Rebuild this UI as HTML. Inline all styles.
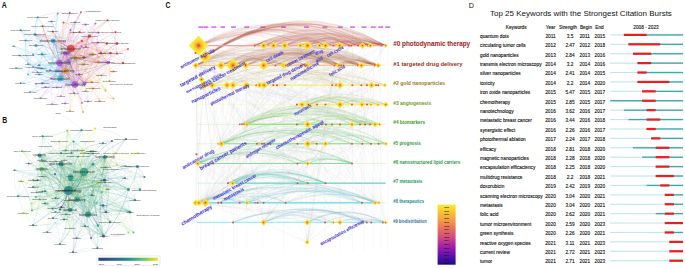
<!DOCTYPE html>
<html><head><meta charset="utf-8"><style>
html,body{margin:0;padding:0;background:#fff;width:685px;height:268px;overflow:hidden}
svg{display:block;font-family:"Liberation Sans", sans-serif}
</style></head><body>
<svg width="685" height="268" viewBox="0 0 685 268">
<rect width="685" height="268" fill="#fff"/>
<g fill="none" stroke-width="0.3" stroke-opacity="0.34">
<path d="M70.7 48.6Q63.4 54.5 59.5 63.0" stroke="#dc3c3c"/>
<path d="M70.7 48.6Q68.5 67.1 75.0 84.5" stroke="#dc3c3c"/>
<path d="M70.7 48.6Q62.0 62.3 60.5 78.5" stroke="#dc3c3c"/>
<path d="M70.7 48.6Q65.4 59.2 65.5 71.0" stroke="#dc3c3c"/>
<path d="M70.7 48.6Q67.4 50.3 65.2 53.3" stroke="#dc3c3c"/>
<path d="M70.7 48.6Q72.0 53.9 75.5 58.0" stroke="#dc3c3c"/>
<path d="M70.7 48.6Q68.1 54.5 68.5 61.0" stroke="#dc3c3c"/>
<path d="M70.7 48.6Q73.4 67.7 84.5 83.5" stroke="#dc3c3c"/>
<path d="M70.7 48.6Q81.6 44.6 89.5 36.0" stroke="#dc3c3c"/>
<path d="M70.7 48.6Q80.9 54.2 92.5 54.5" stroke="#dc3c3c"/>
<path d="M70.7 48.6Q87.9 60.1 108.5 62.5" stroke="#dc3c3c"/>
<path d="M70.7 48.6Q60.6 58.0 55.8 71.0" stroke="#dc3c3c"/>
<path d="M70.7 48.6Q76.2 54.7 83.8 57.6" stroke="#dc3c3c"/>
<path d="M70.7 48.6Q54.6 37.2 35.0 34.4" stroke="#dc3c3c"/>
<path d="M59.5 63.0Q64.7 75.6 75.0 84.5" stroke="#a452e4"/>
<path d="M59.5 63.0Q58.1 70.9 60.5 78.5" stroke="#a452e4"/>
<path d="M59.5 63.0Q61.5 67.7 65.5 71.0" stroke="#a452e4"/>
<path d="M59.5 63.0Q58.9 51.1 53.0 40.8" stroke="#a452e4"/>
<path d="M59.5 63.0Q63.5 58.8 65.2 53.3" stroke="#a452e4"/>
<path d="M59.5 63.0Q68.1 62.4 75.5 58.0" stroke="#a452e4"/>
<path d="M59.5 63.0Q64.2 63.1 68.5 61.0" stroke="#a452e4"/>
<path d="M59.5 63.0Q77.0 62.7 92.5 54.5" stroke="#a452e4"/>
<path d="M59.5 63.0Q56.7 66.6 55.8 71.0" stroke="#a452e4"/>
<path d="M59.5 63.0Q72.3 63.2 83.8 57.6" stroke="#a452e4"/>
<path d="M75.0 84.5Q68.5 79.8 60.5 78.5" stroke="#a452e4"/>
<path d="M75.0 84.5Q71.9 76.6 65.5 71.0" stroke="#a452e4"/>
<path d="M75.0 84.5Q73.8 67.7 65.2 53.3" stroke="#a452e4"/>
<path d="M75.0 84.5Q78.4 71.3 75.5 58.0" stroke="#a452e4"/>
<path d="M75.0 84.5Q74.6 72.0 68.5 61.0" stroke="#a452e4"/>
<path d="M75.0 84.5Q79.9 85.1 84.5 83.5" stroke="#a452e4"/>
<path d="M75.0 84.5Q88.1 62.0 89.5 36.0" stroke="#a452e4"/>
<path d="M75.0 84.5Q87.3 71.6 92.5 54.5" stroke="#a452e4"/>
<path d="M75.0 84.5Q94.4 77.5 108.5 62.5" stroke="#a452e4"/>
<path d="M75.0 84.5Q67.0 75.4 55.8 71.0" stroke="#a452e4"/>
<path d="M75.0 84.5Q82.6 72.1 83.8 57.6" stroke="#a452e4"/>
<path d="M75.0 84.5Q61.0 54.7 35.0 34.4" stroke="#a452e4"/>
<path d="M60.5 78.5Q63.9 75.3 65.5 71.0" stroke="#22bcd4"/>
<path d="M60.5 78.5Q61.3 58.8 53.0 40.8" stroke="#22bcd4"/>
<path d="M60.5 78.5Q70.5 70.0 75.5 58.0" stroke="#22bcd4"/>
<path d="M60.5 78.5Q66.6 70.7 68.5 61.0" stroke="#22bcd4"/>
<path d="M60.5 78.5Q80.1 60.7 89.5 36.0" stroke="#22bcd4"/>
<path d="M60.5 78.5Q79.4 70.3 92.5 54.5" stroke="#22bcd4"/>
<path d="M60.5 78.5Q74.7 70.8 83.8 57.6" stroke="#22bcd4"/>
<path d="M60.5 78.5Q53.0 53.4 35.0 34.4" stroke="#22bcd4"/>
<path d="M65.5 71.0Q62.9 54.4 53.0 40.8" stroke="#e8962c"/>
<path d="M65.5 71.0Q72.1 65.7 75.5 58.0" stroke="#e8962c"/>
<path d="M65.5 71.0Q81.7 56.4 89.5 36.0" stroke="#e8962c"/>
<path d="M65.5 71.0Q81.0 66.0 92.5 54.5" stroke="#e8962c"/>
<path d="M65.5 71.0Q88.0 71.9 108.5 62.5" stroke="#e8962c"/>
<path d="M65.5 71.0Q60.6 69.8 55.8 71.0" stroke="#e8962c"/>
<path d="M65.5 71.0Q54.6 49.0 35.0 34.4" stroke="#e8962c"/>
<path d="M53.0 40.8Q57.6 48.5 65.2 53.3" stroke="#3ea0e0"/>
<path d="M53.0 40.8Q62.2 52.1 75.5 58.0" stroke="#3ea0e0"/>
<path d="M53.0 40.8Q63.6 65.9 84.5 83.5" stroke="#3ea0e0"/>
<path d="M53.0 40.8Q71.8 42.8 89.5 36.0" stroke="#3ea0e0"/>
<path d="M53.0 40.8Q71.1 52.4 92.5 54.5" stroke="#3ea0e0"/>
<path d="M53.0 40.8Q78.1 58.3 108.5 62.5" stroke="#3ea0e0"/>
<path d="M53.0 40.8Q50.8 56.2 55.8 71.0" stroke="#3ea0e0"/>
<path d="M53.0 40.8Q66.4 52.9 83.8 57.6" stroke="#3ea0e0"/>
<path d="M53.0 40.8Q44.8 35.4 35.0 34.4" stroke="#3ea0e0"/>
<path d="M65.2 53.3Q65.9 57.5 68.5 61.0" stroke="#a452e4"/>
<path d="M65.2 53.3Q71.2 70.7 84.5 83.5" stroke="#a452e4"/>
<path d="M65.2 53.3Q78.7 57.2 92.5 54.5" stroke="#a452e4"/>
<path d="M65.2 53.3Q85.7 63.1 108.5 62.5" stroke="#a452e4"/>
<path d="M65.2 53.3Q58.4 61.0 55.8 71.0" stroke="#a452e4"/>
<path d="M65.2 53.3Q74.0 57.7 83.8 57.6" stroke="#a452e4"/>
<path d="M65.2 53.3Q52.4 40.2 35.0 34.4" stroke="#a452e4"/>
<path d="M75.5 58.0Q71.6 58.7 68.5 61.0" stroke="#e8962c"/>
<path d="M75.5 58.0Q76.9 71.8 84.5 83.5" stroke="#e8962c"/>
<path d="M75.5 58.0Q85.1 48.7 89.5 36.0" stroke="#e8962c"/>
<path d="M75.5 58.0Q84.4 58.3 92.5 54.5" stroke="#e8962c"/>
<path d="M75.5 58.0Q91.5 64.2 108.5 62.5" stroke="#e8962c"/>
<path d="M75.5 58.0Q58.1 41.3 35.0 34.4" stroke="#e8962c"/>
<path d="M68.5 61.0Q73.8 74.2 84.5 83.5" stroke="#a452e4"/>
<path d="M68.5 61.0Q82.0 51.0 89.5 36.0" stroke="#a452e4"/>
<path d="M68.5 61.0Q81.3 60.6 92.5 54.5" stroke="#a452e4"/>
<path d="M68.5 61.0Q88.3 66.5 108.5 62.5" stroke="#a452e4"/>
<path d="M68.5 61.0Q60.9 64.5 55.8 71.0" stroke="#a452e4"/>
<path d="M68.5 61.0Q54.9 43.7 35.0 34.4" stroke="#a452e4"/>
<path d="M84.5 83.5Q92.0 70.0 92.5 54.5" stroke="#a452e4"/>
<path d="M84.5 83.5Q99.0 75.9 108.5 62.5" stroke="#a452e4"/>
<path d="M84.5 83.5Q71.7 73.8 55.8 71.0" stroke="#a452e4"/>
<path d="M84.5 83.5Q87.3 70.5 83.8 57.6" stroke="#a452e4"/>
<path d="M84.5 83.5Q65.6 53.0 35.0 34.4" stroke="#a452e4"/>
<path d="M89.5 36.0Q95.8 51.5 108.5 62.5" stroke="#dc3c3c"/>
<path d="M89.5 36.0Q68.5 49.5 55.8 71.0" stroke="#dc3c3c"/>
<path d="M89.5 36.0Q84.1 46.1 83.8 57.6" stroke="#dc3c3c"/>
<path d="M92.5 54.5Q99.5 60.4 108.5 62.5" stroke="#e8962c"/>
<path d="M92.5 54.5Q72.2 58.3 55.8 71.0" stroke="#e8962c"/>
<path d="M92.5 54.5Q87.8 55.0 83.8 57.6" stroke="#e8962c"/>
<path d="M108.5 62.5Q81.1 60.4 55.8 71.0" stroke="#a452e4"/>
<path d="M108.5 62.5Q96.7 57.1 83.8 57.6" stroke="#a452e4"/>
<path d="M55.8 71.0Q49.8 50.2 35.0 34.4" stroke="#3ea0e0"/>
<path d="M83.8 57.6Q62.2 40.1 35.0 34.4" stroke="#dc3c3c"/>
<path d="M70.7 48.6Q62.8 42.6 53.0 40.8" stroke="#dc3c3c"/>
<path d="M70.7 48.6Q68.5 67.1 75.0 84.5" stroke="#dc3c3c"/>
<path d="M70.7 48.6Q62.8 42.6 53.0 40.8" stroke="#dc3c3c"/>
<path d="M70.7 48.6Q67.4 50.3 65.2 53.3" stroke="#dc3c3c"/>
<path d="M70.7 48.6Q66.3 63.1 69.0 78.0" stroke="#dc3c3c"/>
<path d="M70.7 48.6Q85.3 54.4 101.0 53.0" stroke="#dc3c3c"/>
<path d="M70.7 48.6Q57.8 56.8 50.0 70.0" stroke="#dc3c3c"/>
<path d="M70.7 48.6Q81.6 44.6 89.5 36.0" stroke="#dc3c3c"/>
<path d="M70.7 48.6Q68.1 54.5 68.5 61.0" stroke="#dc3c3c"/>
<path d="M70.7 48.6Q62.8 42.6 53.0 40.8" stroke="#dc3c3c"/>
<path d="M70.7 48.6Q63.4 54.5 59.5 63.0" stroke="#dc3c3c"/>
<path d="M70.7 48.6Q65.4 59.2 65.5 71.0" stroke="#dc3c3c"/>
<path d="M53.0 40.8Q78.1 58.3 108.5 62.5" stroke="#3ea0e0"/>
<path d="M53.0 40.8Q60.9 46.8 70.7 48.6" stroke="#3ea0e0"/>
<path d="M53.0 40.8Q57.6 48.5 65.2 53.3" stroke="#3ea0e0"/>
<path d="M53.0 40.8Q53.6 52.7 59.5 63.0" stroke="#3ea0e0"/>
<path d="M53.0 40.8Q43.1 51.2 39.0 65.0" stroke="#3ea0e0"/>
<path d="M53.0 40.8Q53.6 52.7 59.5 63.0" stroke="#3ea0e0"/>
<path d="M53.0 40.8Q53.6 52.7 59.5 63.0" stroke="#3ea0e0"/>
<path d="M53.0 40.8Q63.6 65.9 84.5 83.5" stroke="#3ea0e0"/>
<path d="M65.2 53.3Q80.8 61.6 98.5 62.0" stroke="#a452e4"/>
<path d="M65.2 53.3Q64.1 66.1 69.0 78.0" stroke="#a452e4"/>
<path d="M65.2 53.3Q85.7 63.1 108.5 62.5" stroke="#a452e4"/>
<path d="M65.2 53.3Q68.5 51.6 70.7 48.6" stroke="#a452e4"/>
<path d="M65.2 53.3Q85.7 63.1 108.5 62.5" stroke="#a452e4"/>
<path d="M65.2 53.3Q68.5 51.6 70.7 48.6" stroke="#a452e4"/>
<path d="M65.2 53.3Q78.7 57.2 92.5 54.5" stroke="#a452e4"/>
<path d="M65.2 53.3Q59.8 65.3 60.5 78.5" stroke="#a452e4"/>
<path d="M59.5 63.0Q42.4 65.0 28.0 74.5" stroke="#a452e4"/>
<path d="M59.5 63.0Q61.5 67.7 65.5 71.0" stroke="#a452e4"/>
<path d="M59.5 63.0Q68.1 62.4 75.5 58.0" stroke="#a452e4"/>
<path d="M59.5 63.0Q45.8 61.7 33.0 66.7" stroke="#a452e4"/>
<path d="M59.5 63.0Q66.8 57.1 70.7 48.6" stroke="#a452e4"/>
<path d="M59.5 63.0Q77.0 62.7 92.5 54.5" stroke="#a452e4"/>
<path d="M59.5 63.0Q68.1 62.4 75.5 58.0" stroke="#a452e4"/>
<path d="M59.5 63.0Q64.7 75.6 75.0 84.5" stroke="#a452e4"/>
<path d="M59.5 63.0Q58.9 51.1 53.0 40.8" stroke="#a452e4"/>
<path d="M59.5 63.0Q58.1 70.9 60.5 78.5" stroke="#a452e4"/>
<path d="M59.5 63.0Q64.2 63.1 68.5 61.0" stroke="#a452e4"/>
<path d="M68.5 61.0Q73.8 74.2 84.5 83.5" stroke="#a452e4"/>
<path d="M68.5 61.0Q60.9 64.5 55.8 71.0" stroke="#a452e4"/>
<path d="M68.5 61.0Q67.8 56.8 65.2 53.3" stroke="#a452e4"/>
<path d="M68.5 61.0Q73.8 74.2 84.5 83.5" stroke="#a452e4"/>
<path d="M68.5 61.0Q73.8 74.2 84.5 83.5" stroke="#a452e4"/>
<path d="M68.5 61.0Q62.4 68.8 60.5 78.5" stroke="#a452e4"/>
<path d="M68.5 61.0Q71.1 55.1 70.7 48.6" stroke="#a452e4"/>
<path d="M68.5 61.0Q72.4 60.3 75.5 58.0" stroke="#a452e4"/>
<path d="M75.5 58.0Q66.9 58.6 59.5 63.0" stroke="#e8962c"/>
<path d="M75.5 58.0Q66.3 46.7 53.0 40.8" stroke="#e8962c"/>
<path d="M75.5 58.0Q88.8 58.6 101.0 53.0" stroke="#e8962c"/>
<path d="M75.5 58.0Q86.5 62.8 98.5 62.0" stroke="#e8962c"/>
<path d="M75.5 58.0Q64.1 62.1 55.8 71.0" stroke="#e8962c"/>
<path d="M75.5 58.0Q85.1 48.7 89.5 36.0" stroke="#e8962c"/>
<path d="M75.5 58.0Q66.9 58.6 59.5 63.0" stroke="#e8962c"/>
<path d="M65.5 71.0Q70.8 60.4 70.7 48.6" stroke="#e8962c"/>
<path d="M65.5 71.0Q61.4 87.2 65.0 103.5" stroke="#e8962c"/>
<path d="M65.5 71.0Q67.5 62.1 65.2 53.3" stroke="#e8962c"/>
<path d="M65.5 71.0Q72.1 65.7 75.5 58.0" stroke="#e8962c"/>
<path d="M65.5 71.0Q60.6 69.8 55.8 71.0" stroke="#e8962c"/>
<path d="M65.5 71.0Q88.0 71.9 108.5 62.5" stroke="#e8962c"/>
<path d="M65.5 71.0Q77.2 83.0 93.0 88.5" stroke="#e8962c"/>
<path d="M65.5 71.0Q73.5 79.5 84.5 83.5" stroke="#e8962c"/>
<path d="M65.5 71.0Q88.0 71.9 108.5 62.5" stroke="#e8962c"/>
<path d="M60.5 78.5Q47.6 78.3 36.0 84.0" stroke="#22bcd4"/>
<path d="M60.5 78.5Q69.2 64.8 70.7 48.6" stroke="#22bcd4"/>
<path d="M60.5 78.5Q86.4 76.3 108.5 62.5" stroke="#22bcd4"/>
<path d="M60.5 78.5Q79.4 70.3 92.5 54.5" stroke="#22bcd4"/>
<path d="M60.5 78.5Q69.2 64.8 70.7 48.6" stroke="#22bcd4"/>
<path d="M60.5 78.5Q70.5 70.0 75.5 58.0" stroke="#22bcd4"/>
<path d="M60.5 78.5Q52.2 71.2 41.5 68.5" stroke="#22bcd4"/>
<path d="M60.5 78.5Q63.9 75.3 65.5 71.0" stroke="#22bcd4"/>
<path d="M60.5 78.5Q48.2 85.8 40.5 98.0" stroke="#22bcd4"/>
<path d="M55.8 71.0Q49.9 87.0 52.0 104.0" stroke="#3ea0e0"/>
<path d="M55.8 71.0Q67.2 66.9 75.5 58.0" stroke="#3ea0e0"/>
<path d="M55.8 71.0Q54.4 79.4 57.0 87.5" stroke="#3ea0e0"/>
<path d="M55.8 71.0Q63.8 80.1 75.0 84.5" stroke="#3ea0e0"/>
<path d="M55.8 71.0Q68.7 80.7 84.5 83.5" stroke="#3ea0e0"/>
<path d="M55.8 71.0Q76.9 57.5 89.5 36.0" stroke="#3ea0e0"/>
<path d="M89.5 36.0Q76.4 58.5 75.0 84.5" stroke="#dc3c3c"/>
<path d="M89.5 36.0Q78.1 26.1 63.5 22.5" stroke="#dc3c3c"/>
<path d="M89.5 36.0Q78.6 40.0 70.7 48.6" stroke="#dc3c3c"/>
<path d="M89.5 36.0Q71.3 45.9 59.5 63.0" stroke="#dc3c3c"/>
<path d="M89.5 36.0Q69.9 53.8 60.5 78.5" stroke="#dc3c3c"/>
<path d="M89.5 36.0Q78.6 40.0 70.7 48.6" stroke="#dc3c3c"/>
<path d="M83.8 57.6Q73.0 62.1 65.5 71.0" stroke="#dc3c3c"/>
<path d="M83.8 57.6Q95.6 63.0 108.5 62.5" stroke="#dc3c3c"/>
<path d="M83.8 57.6Q62.2 40.1 35.0 34.4" stroke="#dc3c3c"/>
<path d="M83.8 57.6Q78.3 51.5 70.7 48.6" stroke="#dc3c3c"/>
<path d="M83.8 57.6Q68.2 60.9 55.8 71.0" stroke="#dc3c3c"/>
<path d="M83.8 57.6Q95.6 63.0 108.5 62.5" stroke="#dc3c3c"/>
<path d="M92.5 54.5Q96.9 54.8 101.0 53.0" stroke="#e8962c"/>
<path d="M92.5 54.5Q73.6 62.7 60.5 78.5" stroke="#e8962c"/>
<path d="M92.5 54.5Q73.6 62.7 60.5 78.5" stroke="#e8962c"/>
<path d="M92.5 54.5Q77.9 63.4 69.0 78.0" stroke="#e8962c"/>
<path d="M92.5 54.5Q82.3 48.9 70.7 48.6" stroke="#e8962c"/>
<path d="M92.5 54.5Q82.3 48.9 70.7 48.6" stroke="#e8962c"/>
<path d="M92.5 54.5Q83.6 54.2 75.5 58.0" stroke="#e8962c"/>
<path d="M75.0 84.5Q74.6 72.0 68.5 61.0" stroke="#a452e4"/>
<path d="M75.0 84.5Q69.8 71.9 59.5 63.0" stroke="#a452e4"/>
<path d="M75.0 84.5Q69.2 60.0 53.0 40.8" stroke="#a452e4"/>
<path d="M75.0 84.5Q78.4 71.3 75.5 58.0" stroke="#a452e4"/>
<path d="M75.0 84.5Q71.9 76.6 65.5 71.0" stroke="#a452e4"/>
<path d="M75.0 84.5Q69.8 71.9 59.5 63.0" stroke="#a452e4"/>
<path d="M75.0 84.5Q68.5 79.8 60.5 78.5" stroke="#a452e4"/>
<path d="M75.0 84.5Q68.5 79.8 60.5 78.5" stroke="#a452e4"/>
<path d="M75.0 84.5Q69.8 71.9 59.5 63.0" stroke="#a452e4"/>
<path d="M75.0 84.5Q73.8 67.7 65.2 53.3" stroke="#a452e4"/>
<path d="M84.5 83.5Q76.5 75.0 65.5 71.0" stroke="#a452e4"/>
<path d="M84.5 83.5Q79.6 82.9 75.0 84.5" stroke="#a452e4"/>
<path d="M84.5 83.5Q79.2 70.3 68.5 61.0" stroke="#a452e4"/>
<path d="M84.5 83.5Q96.4 70.2 101.0 53.0" stroke="#a452e4"/>
<path d="M84.5 83.5Q79.6 82.9 75.0 84.5" stroke="#a452e4"/>
<path d="M84.5 83.5Q82.8 78.3 79.0 74.5" stroke="#a452e4"/>
<path d="M84.5 83.5Q100.4 81.0 113.5 71.5" stroke="#a452e4"/>
<path d="M84.5 83.5Q79.6 82.9 75.0 84.5" stroke="#a452e4"/>
<path d="M108.5 62.5Q94.0 70.1 84.5 83.5" stroke="#a452e4"/>
<path d="M108.5 62.5Q115.7 48.1 115.5 32.0" stroke="#a452e4"/>
<path d="M108.5 62.5Q82.6 64.7 60.5 78.5" stroke="#a452e4"/>
<path d="M108.5 62.5Q110.6 58.0 110.5 53.0" stroke="#a452e4"/>
<path d="M108.5 62.5Q94.0 70.1 84.5 83.5" stroke="#a452e4"/>
<path d="M108.5 62.5Q83.4 45.0 53.0 40.8" stroke="#a452e4"/>
<path d="M108.5 62.5Q101.5 56.6 92.5 54.5" stroke="#a452e4"/>
<path d="M123.0 63.0Q99.8 54.8 75.5 58.0" stroke="#dc3c3c"/>
<path d="M123.0 63.0Q117.2 66.1 113.5 71.5" stroke="#dc3c3c"/>
<path d="M123.0 63.0Q93.3 60.1 65.5 71.0" stroke="#dc3c3c"/>
<path d="M123.0 63.0Q110.6 66.6 101.2 75.5" stroke="#dc3c3c"/>
<path d="M123.0 63.0Q117.3 51.3 107.0 43.5" stroke="#dc3c3c"/>
<path d="M123.0 63.0Q115.2 56.0 105.1 53.3" stroke="#dc3c3c"/>
<path d="M98.5 62.0Q86.2 52.0 70.7 48.6" stroke="#e8962c"/>
<path d="M98.5 62.0Q80.9 62.5 65.5 71.0" stroke="#e8962c"/>
<path d="M98.5 62.0Q86.2 52.0 70.7 48.6" stroke="#e8962c"/>
<path d="M98.5 62.0Q78.9 57.8 59.5 63.0" stroke="#e8962c"/>
<path d="M98.5 62.0Q91.9 52.2 81.5 46.5" stroke="#e8962c"/>
<path d="M98.5 62.0Q91.7 58.0 83.8 57.6" stroke="#e8962c"/>
<path d="M117.0 43.5Q93.2 40.5 70.7 48.6" stroke="#dc3c3c"/>
<path d="M117.0 43.5Q93.2 40.5 70.7 48.6" stroke="#dc3c3c"/>
<path d="M117.0 43.5Q91.1 59.0 75.0 84.5" stroke="#dc3c3c"/>
<path d="M117.0 43.5Q91.1 59.0 75.0 84.5" stroke="#dc3c3c"/>
<path d="M117.0 43.5Q91.1 59.0 75.0 84.5" stroke="#dc3c3c"/>
<path d="M117.0 43.5Q93.2 40.5 70.7 48.6" stroke="#dc3c3c"/>
<path d="M35.0 34.4Q42.5 59.5 60.5 78.5" stroke="#3ea0e0"/>
<path d="M35.0 34.4Q49.0 64.2 75.0 84.5" stroke="#3ea0e0"/>
<path d="M35.0 34.4Q38.4 26.2 37.7 17.3" stroke="#3ea0e0"/>
<path d="M35.0 34.4Q53.9 64.9 84.5 83.5" stroke="#3ea0e0"/>
<path d="M35.0 34.4Q51.1 45.8 70.7 48.6" stroke="#3ea0e0"/>
<path d="M35.0 34.4Q24.7 43.1 19.5 55.5" stroke="#3ea0e0"/>
<path d="M36.0 45.5Q45.6 57.1 59.5 63.0" stroke="#3ea0e0"/>
<path d="M36.0 45.5Q50.8 69.7 75.0 84.5" stroke="#3ea0e0"/>
<path d="M36.0 45.5Q46.6 35.3 51.5 21.4" stroke="#3ea0e0"/>
<path d="M36.0 45.5Q36.0 57.6 41.5 68.5" stroke="#3ea0e0"/>
<path d="M36.0 45.5Q36.8 39.8 35.0 34.4" stroke="#3ea0e0"/>
<path d="M36.0 45.5Q31.4 41.7 25.5 40.5" stroke="#3ea0e0"/>
<path d="M42.0 54.0Q54.8 73.2 75.0 84.5" stroke="#22bcd4"/>
<path d="M42.0 54.0Q54.8 73.2 75.0 84.5" stroke="#22bcd4"/>
<path d="M42.0 54.0Q49.7 60.6 59.5 63.0" stroke="#22bcd4"/>
<path d="M42.0 54.0Q49.7 60.6 59.5 63.0" stroke="#22bcd4"/>
<path d="M42.0 54.0Q35.8 53.3 30.0 55.5" stroke="#22bcd4"/>
<path d="M42.0 54.0Q57.0 54.7 70.7 48.6" stroke="#22bcd4"/>
<path d="M57.8 13.4Q56.7 34.2 65.2 53.3" stroke="#3ea0e0"/>
<path d="M57.8 13.4Q52.7 38.4 59.5 63.0" stroke="#3ea0e0"/>
<path d="M57.8 13.4Q53.7 16.6 51.5 21.4" stroke="#3ea0e0"/>
<path d="M57.8 13.4Q52.7 38.4 59.5 63.0" stroke="#3ea0e0"/>
<path d="M57.8 13.4Q52.7 38.4 59.5 63.0" stroke="#3ea0e0"/>
<path d="M81.0 12.2Q66.2 39.7 65.5 71.0" stroke="#dc3c3c"/>
<path d="M81.0 12.2Q64.2 35.0 59.5 63.0" stroke="#dc3c3c"/>
<path d="M81.0 12.2Q62.8 42.9 60.5 78.5" stroke="#dc3c3c"/>
<path d="M81.0 12.2Q71.5 29.2 70.7 48.6" stroke="#dc3c3c"/>
<path d="M81.0 12.2Q64.2 35.0 59.5 63.0" stroke="#dc3c3c"/>
<path d="M69.8 12.8Q60.7 41.4 65.5 71.0" stroke="#dc3c3c"/>
<path d="M69.8 12.8Q53.2 11.2 37.7 17.3" stroke="#dc3c3c"/>
<path d="M69.8 12.8Q58.6 36.7 59.5 63.0" stroke="#dc3c3c"/>
<path d="M69.8 12.8Q63.8 49.3 75.0 84.5" stroke="#dc3c3c"/>
<path d="M69.8 12.8Q57.3 44.5 60.5 78.5" stroke="#dc3c3c"/>
<path d="M107.5 20.3Q96.6 26.0 89.5 36.0" stroke="#dc3c3c"/>
<path d="M107.5 20.3Q77.0 43.8 60.5 78.5" stroke="#dc3c3c"/>
<path d="M107.5 20.3Q80.4 40.6 65.5 71.0" stroke="#dc3c3c"/>
<path d="M107.5 20.3Q91.2 36.1 83.8 57.6" stroke="#dc3c3c"/>
<path d="M107.5 20.3Q75.6 39.4 55.8 71.0" stroke="#dc3c3c"/>
<path d="M115.5 32.0Q96.6 41.0 83.8 57.6" stroke="#dc3c3c"/>
<path d="M115.5 32.0Q113.7 42.9 117.0 53.5" stroke="#dc3c3c"/>
<path d="M115.5 32.0Q91.1 34.9 70.7 48.6" stroke="#dc3c3c"/>
<path d="M115.5 32.0Q119.7 42.0 128.0 49.0" stroke="#dc3c3c"/>
<path d="M115.5 32.0Q82.4 48.6 60.5 78.5" stroke="#dc3c3c"/>
<path d="M63.5 22.5Q58.7 47.0 65.5 71.0" stroke="#dc3c3c"/>
<path d="M63.5 22.5Q56.6 42.3 59.5 63.0" stroke="#dc3c3c"/>
<path d="M63.5 22.5Q67.4 28.6 73.5 32.3" stroke="#dc3c3c"/>
<path d="M63.5 22.5Q74.3 26.1 85.5 24.5" stroke="#dc3c3c"/>
<path d="M63.5 22.5Q61.4 42.4 68.5 61.0" stroke="#dc3c3c"/>
<path d="M75.0 22.3Q66.4 36.6 65.2 53.3" stroke="#3ea0e0"/>
<path d="M75.0 22.3Q71.0 40.2 75.5 58.0" stroke="#3ea0e0"/>
<path d="M75.0 22.3Q67.5 53.4 75.0 84.5" stroke="#3ea0e0"/>
<path d="M75.0 22.3Q61.8 28.9 53.0 40.8" stroke="#3ea0e0"/>
<path d="M75.0 22.3Q85.1 25.4 95.5 23.5" stroke="#3ea0e0"/>
<path d="M85.5 24.5Q92.4 46.3 108.5 62.5" stroke="#a452e4"/>
<path d="M85.5 24.5Q66.5 48.5 60.5 78.5" stroke="#a452e4"/>
<path d="M85.5 24.5Q79.1 16.8 69.8 12.8" stroke="#a452e4"/>
<path d="M85.5 24.5Q75.2 34.8 70.7 48.6" stroke="#a452e4"/>
<path d="M85.5 24.5Q81.6 27.5 79.5 32.0" stroke="#a452e4"/>
<path d="M95.5 23.5Q85.6 39.1 83.8 57.6" stroke="#a452e4"/>
<path d="M95.5 23.5Q81.4 38.4 75.5 58.0" stroke="#a452e4"/>
<path d="M95.5 23.5Q71.4 46.8 60.5 78.5" stroke="#a452e4"/>
<path d="M95.5 23.5Q90.3 38.6 92.5 54.5" stroke="#a452e4"/>
<path d="M95.5 23.5Q80.1 33.1 70.7 48.6" stroke="#a452e4"/>
<path d="M70.5 30.0Q68.4 39.3 70.7 48.6" stroke="#a452e4"/>
<path d="M70.5 30.0Q60.5 33.3 53.0 40.8" stroke="#a452e4"/>
<path d="M70.5 30.0Q69.6 44.6 75.5 58.0" stroke="#a452e4"/>
<path d="M70.5 30.0Q65.8 45.3 68.5 61.0" stroke="#a452e4"/>
<path d="M70.5 30.0Q65.8 45.3 68.5 61.0" stroke="#a452e4"/>
<path d="M79.5 32.0Q87.7 45.1 101.0 53.0" stroke="#dc3c3c"/>
<path d="M79.5 32.0Q64.4 53.0 60.5 78.5" stroke="#dc3c3c"/>
<path d="M79.5 32.0Q71.0 57.7 75.0 84.5" stroke="#dc3c3c"/>
<path d="M79.5 32.0Q84.0 35.2 89.5 36.0" stroke="#dc3c3c"/>
<path d="M79.5 32.0Q65.2 33.2 53.0 40.8" stroke="#dc3c3c"/>
<path d="M98.5 32.5Q90.5 38.1 86.0 46.8" stroke="#a452e4"/>
<path d="M98.5 32.5Q79.4 38.9 65.2 53.3" stroke="#a452e4"/>
<path d="M98.5 32.5Q95.0 47.2 98.5 62.0" stroke="#a452e4"/>
<path d="M98.5 32.5Q89.1 30.0 79.5 32.0" stroke="#a452e4"/>
<path d="M98.5 32.5Q95.0 47.2 98.5 62.0" stroke="#a452e4"/>
<path d="M82.0 41.0Q72.1 45.1 65.2 53.3" stroke="#dc3c3c"/>
<path d="M82.0 41.0Q75.4 43.4 70.7 48.6" stroke="#dc3c3c"/>
<path d="M82.0 41.0Q75.4 43.4 70.7 48.6" stroke="#dc3c3c"/>
<path d="M82.0 41.0Q68.1 49.3 59.5 63.0" stroke="#dc3c3c"/>
<path d="M82.0 41.0Q72.8 49.4 68.5 61.0" stroke="#dc3c3c"/>
<path d="M82.0 41.0Q92.7 54.9 108.5 62.5" stroke="#dc3c3c"/>
<path d="M98.0 42.5Q80.3 44.0 65.2 53.3" stroke="#a452e4"/>
<path d="M98.0 42.5Q74.9 56.0 60.5 78.5" stroke="#a452e4"/>
<path d="M98.0 42.5Q81.5 60.7 75.0 84.5" stroke="#a452e4"/>
<path d="M98.0 42.5Q94.5 38.2 89.5 36.0" stroke="#a452e4"/>
<path d="M98.0 42.5Q102.3 58.9 113.5 71.5" stroke="#a452e4"/>
<path d="M107.0 43.5Q102.9 47.5 101.0 53.0" stroke="#dc3c3c"/>
<path d="M107.0 43.5Q92.8 51.1 83.6 64.4" stroke="#dc3c3c"/>
<path d="M107.0 43.5Q79.5 55.4 60.5 78.5" stroke="#dc3c3c"/>
<path d="M107.0 43.5Q91.0 60.8 84.5 83.5" stroke="#dc3c3c"/>
<path d="M107.0 43.5Q84.9 43.4 65.2 53.3" stroke="#dc3c3c"/>
<path d="M107.0 43.5Q98.5 31.4 85.5 24.5" stroke="#dc3c3c"/>
<path d="M81.5 46.5Q73.3 52.2 68.5 61.0" stroke="#a452e4"/>
<path d="M81.5 46.5Q88.1 56.3 98.5 62.0" stroke="#a452e4"/>
<path d="M81.5 46.5Q73.7 64.7 75.0 84.5" stroke="#a452e4"/>
<path d="M81.5 46.5Q86.0 51.8 92.5 54.5" stroke="#a452e4"/>
<path d="M81.5 46.5Q75.8 46.3 70.7 48.6" stroke="#a452e4"/>
<path d="M128.0 49.0Q90.7 55.6 60.5 78.5" stroke="#dc3c3c"/>
<path d="M128.0 49.0Q97.2 60.4 75.0 84.5" stroke="#dc3c3c"/>
<path d="M128.0 49.0Q123.8 55.4 123.0 63.0" stroke="#dc3c3c"/>
<path d="M128.0 49.0Q116.6 53.4 108.5 62.5" stroke="#dc3c3c"/>
<path d="M128.0 49.0Q100.7 47.2 75.5 58.0" stroke="#dc3c3c"/>
<path d="M86.0 46.8Q75.5 51.8 68.5 61.0" stroke="#dc3c3c"/>
<path d="M86.0 46.8Q88.3 51.4 92.5 54.5" stroke="#dc3c3c"/>
<path d="M86.0 46.8Q74.8 47.6 65.2 53.3" stroke="#dc3c3c"/>
<path d="M86.0 46.8Q95.4 57.4 108.5 62.5" stroke="#dc3c3c"/>
<path d="M86.0 46.8Q69.4 59.6 60.5 78.5" stroke="#dc3c3c"/>
<path d="M101.0 53.0Q103.6 58.6 108.5 62.5" stroke="#dc3c3c"/>
<path d="M101.0 53.0Q84.2 65.6 75.0 84.5" stroke="#dc3c3c"/>
<path d="M101.0 53.0Q70.2 35.8 35.0 34.4" stroke="#dc3c3c"/>
<path d="M101.0 53.0Q79.0 53.0 59.5 63.0" stroke="#dc3c3c"/>
<path d="M101.0 53.0Q92.8 39.9 79.5 32.0" stroke="#dc3c3c"/>
<path d="M101.0 53.0Q97.3 43.1 89.5 36.0" stroke="#dc3c3c"/>
<path d="M110.5 53.0Q87.8 47.7 65.2 53.3" stroke="#dc3c3c"/>
<path d="M110.5 53.0Q93.8 65.1 84.5 83.5" stroke="#dc3c3c"/>
<path d="M110.5 53.0Q97.7 43.6 82.0 41.0" stroke="#dc3c3c"/>
<path d="M110.5 53.0Q105.8 51.9 101.0 53.0" stroke="#dc3c3c"/>
<path d="M110.5 53.0Q83.2 40.0 53.0 40.8" stroke="#dc3c3c"/>
<path d="M110.5 53.0Q91.1 46.0 70.7 48.6" stroke="#dc3c3c"/>
<path d="M117.0 53.5Q105.3 41.5 89.5 36.0" stroke="#dc3c3c"/>
<path d="M117.0 53.5Q116.2 35.8 107.5 20.3" stroke="#dc3c3c"/>
<path d="M117.0 53.5Q89.2 56.1 65.5 71.0" stroke="#dc3c3c"/>
<path d="M117.0 53.5Q99.9 51.6 83.8 57.6" stroke="#dc3c3c"/>
<path d="M117.0 53.5Q97.2 64.6 84.5 83.5" stroke="#dc3c3c"/>
<path d="M113.5 71.5Q89.6 65.5 65.5 71.0" stroke="#e8962c"/>
<path d="M113.5 71.5Q97.6 74.0 84.5 83.5" stroke="#e8962c"/>
<path d="M113.5 71.5Q87.5 60.8 59.5 63.0" stroke="#e8962c"/>
<path d="M113.5 71.5Q92.7 73.4 75.0 84.5" stroke="#e8962c"/>
<path d="M113.5 71.5Q91.5 56.6 65.2 53.3" stroke="#e8962c"/>
<path d="M79.0 74.5Q80.7 79.7 84.5 83.5" stroke="#a452e4"/>
<path d="M79.0 74.5Q79.2 65.8 75.5 58.0" stroke="#a452e4"/>
<path d="M79.0 74.5Q95.2 72.0 108.5 62.5" stroke="#a452e4"/>
<path d="M79.0 74.5Q69.3 74.3 60.5 78.5" stroke="#a452e4"/>
<path d="M79.0 74.5Q80.7 79.7 84.5 83.5" stroke="#a452e4"/>
<path d="M79.0 74.5Q78.0 60.6 70.7 48.6" stroke="#a452e4"/>
<path d="M69.0 78.0Q76.1 82.6 84.5 83.5" stroke="#e8962c"/>
<path d="M69.0 78.0Q65.5 57.5 53.0 40.8" stroke="#e8962c"/>
<path d="M69.0 78.0Q70.8 69.4 68.5 61.0" stroke="#e8962c"/>
<path d="M69.0 78.0Q54.4 72.7 39.0 74.5" stroke="#e8962c"/>
<path d="M69.0 78.0Q51.8 77.0 36.0 84.0" stroke="#e8962c"/>
<path d="M109.5 81.0Q106.4 85.3 105.5 90.5" stroke="#e8962c"/>
<path d="M109.5 81.0Q110.6 66.6 105.1 53.3" stroke="#e8962c"/>
<path d="M109.5 81.0Q91.8 78.6 75.0 84.5" stroke="#e8962c"/>
<path d="M109.5 81.0Q94.0 60.1 70.7 48.6" stroke="#e8962c"/>
<path d="M109.5 81.0Q111.2 71.6 108.5 62.5" stroke="#e8962c"/>
<path d="M93.0 88.5Q79.3 71.7 59.5 63.0" stroke="#e8962c"/>
<path d="M93.0 88.5Q87.9 71.2 75.5 58.0" stroke="#e8962c"/>
<path d="M93.0 88.5Q84.5 84.3 75.0 84.5" stroke="#e8962c"/>
<path d="M93.0 88.5Q79.3 71.7 59.5 63.0" stroke="#e8962c"/>
<path d="M93.0 88.5Q102.0 96.0 113.5 98.5" stroke="#e8962c"/>
<path d="M105.5 90.5Q93.1 65.4 70.7 48.6" stroke="#e8962c"/>
<path d="M105.5 90.5Q90.5 71.3 68.5 61.0" stroke="#e8962c"/>
<path d="M105.5 90.5Q93.1 65.4 70.7 48.6" stroke="#e8962c"/>
<path d="M105.5 90.5Q85.2 59.4 53.0 40.8" stroke="#e8962c"/>
<path d="M105.5 90.5Q95.8 84.5 84.5 83.5" stroke="#e8962c"/>
<path d="M74.0 93.0Q70.3 76.3 59.5 63.0" stroke="#a452e4"/>
<path d="M74.0 93.0Q69.8 64.4 53.0 40.8" stroke="#a452e4"/>
<path d="M74.0 93.0Q69.0 84.1 60.5 78.5" stroke="#a452e4"/>
<path d="M74.0 93.0Q69.0 84.1 60.5 78.5" stroke="#a452e4"/>
<path d="M74.0 93.0Q80.0 98.9 88.0 101.5" stroke="#a452e4"/>
<path d="M113.5 98.5Q95.5 74.3 68.5 61.0" stroke="#e8962c"/>
<path d="M113.5 98.5Q92.8 79.0 65.5 71.0" stroke="#e8962c"/>
<path d="M113.5 98.5Q100.4 96.9 88.0 101.5" stroke="#e8962c"/>
<path d="M113.5 98.5Q100.4 96.9 88.0 101.5" stroke="#e8962c"/>
<path d="M113.5 98.5Q110.5 93.5 105.5 90.5" stroke="#e8962c"/>
<path d="M99.5 101.0Q88.8 77.3 68.5 61.0" stroke="#e8962c"/>
<path d="M99.5 101.0Q101.6 76.9 92.5 54.5" stroke="#e8962c"/>
<path d="M99.5 101.0Q84.1 77.2 59.5 63.0" stroke="#e8962c"/>
<path d="M99.5 101.0Q94.1 90.5 84.5 83.5" stroke="#e8962c"/>
<path d="M99.5 101.0Q97.9 90.6 91.8 82.0" stroke="#e8962c"/>
<path d="M88.0 101.5Q88.4 92.1 84.5 83.5" stroke="#c080f0"/>
<path d="M88.0 101.5Q78.4 78.8 59.5 63.0" stroke="#c080f0"/>
<path d="M88.0 101.5Q77.0 86.7 60.5 78.5" stroke="#c080f0"/>
<path d="M88.0 101.5Q88.4 92.1 84.5 83.5" stroke="#c080f0"/>
<path d="M88.0 101.5Q92.1 95.6 93.0 88.5" stroke="#c080f0"/>
<path d="M82.0 103.0Q80.3 80.4 68.5 61.0" stroke="#a452e4"/>
<path d="M82.0 103.0Q100.1 85.9 108.5 62.5" stroke="#a452e4"/>
<path d="M82.0 103.0Q78.5 88.9 69.0 78.0" stroke="#a452e4"/>
<path d="M82.0 103.0Q66.7 63.1 35.0 34.4" stroke="#a452e4"/>
<path d="M82.0 103.0Q77.6 85.0 65.5 71.0" stroke="#a452e4"/>
<path d="M65.0 103.5Q71.8 82.7 68.5 61.0" stroke="#c080f0"/>
<path d="M65.0 103.5Q85.3 72.7 89.5 36.0" stroke="#c080f0"/>
<path d="M65.0 103.5Q77.2 95.8 84.5 83.5" stroke="#c080f0"/>
<path d="M65.0 103.5Q67.1 82.6 59.5 63.0" stroke="#c080f0"/>
<path d="M65.0 103.5Q72.3 95.2 75.0 84.5" stroke="#c080f0"/>
<path d="M70.0 111.0Q56.8 101.0 40.5 98.0" stroke="#e8962c"/>
<path d="M70.0 111.0Q75.2 85.8 68.5 61.0" stroke="#e8962c"/>
<path d="M70.0 111.0Q72.5 90.5 65.5 71.0" stroke="#e8962c"/>
<path d="M70.0 111.0Q70.5 85.7 59.5 63.0" stroke="#e8962c"/>
<path d="M70.0 111.0Q79.1 85.2 75.5 58.0" stroke="#e8962c"/>
<path d="M83.0 112.0Q86.8 107.3 88.0 101.5" stroke="#e8962c"/>
<path d="M83.0 112.0Q79.2 89.4 65.5 71.0" stroke="#e8962c"/>
<path d="M83.0 112.0Q77.1 84.7 59.5 63.0" stroke="#e8962c"/>
<path d="M83.0 112.0Q80.8 101.4 74.0 93.0" stroke="#e8962c"/>
<path d="M83.0 112.0Q75.8 92.5 60.5 78.5" stroke="#e8962c"/>
<path d="M37.7 17.3Q34.3 25.5 35.0 34.4" stroke="#3ea0e0"/>
<path d="M37.7 17.3Q50.4 36.9 70.7 48.6" stroke="#3ea0e0"/>
<path d="M37.7 17.3Q50.4 36.9 70.7 48.6" stroke="#3ea0e0"/>
<path d="M37.7 17.3Q47.1 38.6 65.2 53.3" stroke="#3ea0e0"/>
<path d="M37.7 17.3Q34.3 25.5 35.0 34.4" stroke="#3ea0e0"/>
<path d="M51.5 21.4Q57.8 37.3 70.7 48.6" stroke="#3ea0e0"/>
<path d="M51.5 21.4Q59.1 42.6 75.5 58.0" stroke="#3ea0e0"/>
<path d="M51.5 21.4Q52.5 47.9 65.5 71.0" stroke="#3ea0e0"/>
<path d="M51.5 21.4Q57.8 37.3 70.7 48.6" stroke="#3ea0e0"/>
<path d="M51.5 21.4Q55.6 18.2 57.8 13.4" stroke="#3ea0e0"/>
<path d="M42.5 26.0Q51.7 21.5 57.8 13.4" stroke="#dc3c3c"/>
<path d="M42.5 26.0Q51.7 59.1 75.0 84.5" stroke="#dc3c3c"/>
<path d="M42.5 26.0Q51.7 59.1 75.0 84.5" stroke="#dc3c3c"/>
<path d="M42.5 26.0Q51.7 59.1 75.0 84.5" stroke="#dc3c3c"/>
<path d="M42.5 26.0Q46.6 46.5 59.5 63.0" stroke="#dc3c3c"/>
<path d="M20.5 30.0Q44.6 50.6 75.5 58.0" stroke="#3ea0e0"/>
<path d="M20.5 30.0Q33.2 54.7 55.8 71.0" stroke="#3ea0e0"/>
<path d="M20.5 30.0Q44.6 50.6 75.5 58.0" stroke="#3ea0e0"/>
<path d="M20.5 30.0Q54.3 41.3 89.5 36.0" stroke="#3ea0e0"/>
<path d="M20.5 30.0Q43.4 45.3 70.7 48.6" stroke="#3ea0e0"/>
<path d="M52.8 31.6Q56.4 43.9 65.2 53.3" stroke="#dc3c3c"/>
<path d="M52.8 31.6Q61.0 47.5 75.5 58.0" stroke="#dc3c3c"/>
<path d="M52.8 31.6Q59.7 42.2 70.7 48.6" stroke="#dc3c3c"/>
<path d="M52.8 31.6Q61.0 47.5 75.5 58.0" stroke="#dc3c3c"/>
<path d="M52.8 31.6Q59.7 42.2 70.7 48.6" stroke="#dc3c3c"/>
<path d="M25.5 40.5Q23.9 52.5 28.0 64.0" stroke="#3ea0e0"/>
<path d="M25.5 40.5Q47.1 50.0 70.7 48.6" stroke="#3ea0e0"/>
<path d="M25.5 40.5Q23.9 52.5 28.0 64.0" stroke="#3ea0e0"/>
<path d="M25.5 40.5Q34.4 30.4 37.7 17.3" stroke="#3ea0e0"/>
<path d="M25.5 40.5Q44.5 55.9 68.5 61.0" stroke="#3ea0e0"/>
<path d="M13.5 46.0Q22.2 52.6 33.0 54.5" stroke="#3ea0e0"/>
<path d="M13.5 46.0Q59.0 65.7 108.5 62.5" stroke="#3ea0e0"/>
<path d="M13.5 46.0Q43.1 59.4 75.5 58.0" stroke="#3ea0e0"/>
<path d="M13.5 46.0Q39.6 72.6 75.0 84.5" stroke="#3ea0e0"/>
<path d="M13.5 46.0Q18.9 38.8 20.5 30.0" stroke="#3ea0e0"/>
<path d="M19.5 55.5Q38.0 52.2 53.0 40.8" stroke="#3ea0e0"/>
<path d="M19.5 55.5Q43.8 76.7 75.0 84.5" stroke="#3ea0e0"/>
<path d="M19.5 55.5Q42.6 59.9 65.2 53.3" stroke="#3ea0e0"/>
<path d="M19.5 55.5Q43.8 76.7 75.0 84.5" stroke="#3ea0e0"/>
<path d="M19.5 55.5Q48.6 77.3 84.5 83.5" stroke="#3ea0e0"/>
<path d="M33.0 54.5Q39.6 64.3 50.0 70.0" stroke="#3ea0e0"/>
<path d="M33.0 54.5Q29.7 40.8 20.5 30.0" stroke="#3ea0e0"/>
<path d="M33.0 54.5Q45.6 45.4 52.8 31.6" stroke="#3ea0e0"/>
<path d="M33.0 54.5Q50.4 74.5 75.0 84.5" stroke="#3ea0e0"/>
<path d="M33.0 54.5Q52.6 56.1 70.7 48.6" stroke="#3ea0e0"/>
<path d="M28.0 64.0Q38.3 69.6 50.0 70.0" stroke="#3ea0e0"/>
<path d="M28.0 64.0Q34.2 67.9 41.5 68.5" stroke="#3ea0e0"/>
<path d="M28.0 64.0Q28.3 46.1 20.5 30.0" stroke="#3ea0e0"/>
<path d="M28.0 64.0Q51.2 61.4 70.7 48.6" stroke="#3ea0e0"/>
<path d="M28.0 64.0Q48.6 67.4 68.5 61.0" stroke="#3ea0e0"/>
<path d="M39.0 65.0Q48.1 74.3 60.5 78.5" stroke="#3ea0e0"/>
<path d="M39.0 65.0Q54.7 79.1 75.0 84.5" stroke="#3ea0e0"/>
<path d="M39.0 65.0Q67.0 66.2 92.5 54.5" stroke="#3ea0e0"/>
<path d="M39.0 65.0Q67.0 66.2 92.5 54.5" stroke="#3ea0e0"/>
<path d="M39.0 65.0Q58.1 65.9 75.5 58.0" stroke="#3ea0e0"/>
<path d="M16.0 68.0Q40.4 75.4 65.5 71.0" stroke="#3ea0e0"/>
<path d="M16.0 68.0Q45.7 64.9 70.7 48.6" stroke="#3ea0e0"/>
<path d="M16.0 68.0Q26.1 63.3 33.0 54.5" stroke="#3ea0e0"/>
<path d="M16.0 68.0Q26.7 74.0 39.0 74.5" stroke="#3ea0e0"/>
<path d="M16.0 68.0Q45.7 64.9 70.7 48.6" stroke="#3ea0e0"/>
<path d="M28.0 74.5Q31.3 65.2 30.0 55.5" stroke="#3ea0e0"/>
<path d="M28.0 74.5Q50.3 85.1 75.0 84.5" stroke="#3ea0e0"/>
<path d="M28.0 74.5Q34.6 71.1 39.0 65.0" stroke="#3ea0e0"/>
<path d="M28.0 74.5Q30.8 57.2 25.5 40.5" stroke="#3ea0e0"/>
<path d="M28.0 74.5Q55.2 85.8 84.5 83.5" stroke="#3ea0e0"/>
<path d="M39.0 74.5Q49.3 79.1 60.5 78.5" stroke="#3ea0e0"/>
<path d="M39.0 74.5Q36.9 69.9 33.0 66.7" stroke="#3ea0e0"/>
<path d="M39.0 74.5Q44.5 77.9 51.0 78.5" stroke="#3ea0e0"/>
<path d="M39.0 74.5Q55.4 71.3 68.5 61.0" stroke="#3ea0e0"/>
<path d="M39.0 74.5Q36.9 69.9 33.0 66.7" stroke="#3ea0e0"/>
<path d="M50.0 70.0Q55.0 55.8 53.0 40.8" stroke="#3ea0e0"/>
<path d="M50.0 70.0Q55.0 55.8 53.0 40.8" stroke="#3ea0e0"/>
<path d="M50.0 70.0Q54.2 75.5 60.5 78.5" stroke="#3ea0e0"/>
<path d="M50.0 70.0Q57.6 72.4 65.5 71.0" stroke="#3ea0e0"/>
<path d="M50.0 70.0Q54.2 75.5 60.5 78.5" stroke="#3ea0e0"/>
<path d="M20.5 83.0Q49.7 71.8 70.7 48.6" stroke="#3ea0e0"/>
<path d="M20.5 83.0Q39.6 81.2 55.8 71.0" stroke="#3ea0e0"/>
<path d="M20.5 83.0Q52.4 90.9 84.5 83.5" stroke="#3ea0e0"/>
<path d="M20.5 83.0Q31.9 76.2 39.0 65.0" stroke="#3ea0e0"/>
<path d="M20.5 83.0Q44.4 82.4 65.5 71.0" stroke="#3ea0e0"/>
<path d="M36.0 84.0Q55.4 88.9 75.0 84.5" stroke="#c080f0"/>
<path d="M36.0 84.0Q36.6 91.5 40.5 98.0" stroke="#c080f0"/>
<path d="M36.0 84.0Q48.9 84.2 60.5 78.5" stroke="#c080f0"/>
<path d="M36.0 84.0Q67.8 76.0 92.5 54.5" stroke="#c080f0"/>
<path d="M36.0 84.0Q74.8 82.0 108.5 62.5" stroke="#c080f0"/>
<path d="M30.0 92.0Q66.5 71.1 89.5 36.0" stroke="#3ea0e0"/>
<path d="M30.0 92.0Q55.6 75.2 70.7 48.6" stroke="#3ea0e0"/>
<path d="M30.0 92.0Q38.4 91.4 45.5 87.0" stroke="#3ea0e0"/>
<path d="M30.0 92.0Q46.9 88.9 60.5 78.5" stroke="#3ea0e0"/>
<path d="M30.0 92.0Q38.4 91.4 45.5 87.0" stroke="#3ea0e0"/>
<path d="M45.5 87.0Q53.3 97.6 65.0 103.5" stroke="#c080f0"/>
<path d="M45.5 87.0Q41.7 75.3 33.0 66.7" stroke="#c080f0"/>
<path d="M45.5 87.0Q60.5 89.3 75.0 84.5" stroke="#c080f0"/>
<path d="M45.5 87.0Q65.4 89.9 84.5 83.5" stroke="#c080f0"/>
<path d="M45.5 87.0Q41.7 75.3 33.0 66.7" stroke="#c080f0"/>
<path d="M51.0 78.5Q64.4 65.9 70.7 48.6" stroke="#a452e4"/>
<path d="M51.0 78.5Q59.1 76.5 65.5 71.0" stroke="#a452e4"/>
<path d="M51.0 78.5Q64.4 65.9 70.7 48.6" stroke="#a452e4"/>
<path d="M51.0 78.5Q59.1 76.5 65.5 71.0" stroke="#a452e4"/>
<path d="M51.0 78.5Q62.3 84.4 75.0 84.5" stroke="#a452e4"/>
<path d="M57.0 87.5Q61.2 75.5 59.5 63.0" stroke="#c080f0"/>
<path d="M57.0 87.5Q85.8 81.2 108.5 62.5" stroke="#c080f0"/>
<path d="M57.0 87.5Q51.3 85.9 45.5 87.0" stroke="#c080f0"/>
<path d="M57.0 87.5Q63.2 80.3 65.5 71.0" stroke="#c080f0"/>
<path d="M57.0 87.5Q61.2 75.5 59.5 63.0" stroke="#c080f0"/>
<path d="M61.0 96.0Q62.9 87.2 60.5 78.5" stroke="#c080f0"/>
<path d="M61.0 96.0Q71.5 73.5 70.7 48.6" stroke="#c080f0"/>
<path d="M61.0 96.0Q71.5 73.5 70.7 48.6" stroke="#c080f0"/>
<path d="M61.0 96.0Q46.0 90.3 30.0 92.0" stroke="#c080f0"/>
<path d="M61.0 96.0Q64.2 79.3 59.5 63.0" stroke="#c080f0"/>
<path d="M40.5 98.0Q62.8 82.2 75.5 58.0" stroke="#c080f0"/>
<path d="M40.5 98.0Q54.2 82.8 59.5 63.0" stroke="#c080f0"/>
<path d="M40.5 98.0Q52.8 90.7 60.5 78.5" stroke="#c080f0"/>
<path d="M40.5 98.0Q61.5 76.9 70.7 48.6" stroke="#c080f0"/>
<path d="M40.5 98.0Q54.2 82.8 59.5 63.0" stroke="#c080f0"/>
<path d="M52.0 104.0Q59.3 92.3 60.5 78.5" stroke="#c080f0"/>
<path d="M52.0 104.0Q65.8 97.0 75.0 84.5" stroke="#c080f0"/>
<path d="M52.0 104.0Q65.4 84.5 68.5 61.0" stroke="#c080f0"/>
<path d="M52.0 104.0Q58.6 105.3 65.0 103.5" stroke="#c080f0"/>
<path d="M52.0 104.0Q78.2 84.1 92.5 54.5" stroke="#c080f0"/>
<path d="M41.5 68.5Q58.5 62.0 70.7 48.6" stroke="#30c0d8"/>
<path d="M41.5 68.5Q68.7 67.6 92.5 54.5" stroke="#30c0d8"/>
<path d="M41.5 68.5Q55.2 63.7 65.2 53.3" stroke="#30c0d8"/>
<path d="M41.5 68.5Q68.7 67.6 92.5 54.5" stroke="#30c0d8"/>
<path d="M41.5 68.5Q32.1 59.3 19.5 55.5" stroke="#30c0d8"/>
<path d="M41.5 68.5Q51.2 67.9 59.5 63.0" stroke="#30c0d8"/>
<path d="M85.5 90.7Q84.4 73.2 75.5 58.0" stroke="#e8962c"/>
<path d="M85.5 90.7Q81.0 86.3 75.0 84.5" stroke="#e8962c"/>
<path d="M85.5 90.7Q101.8 84.5 113.5 71.5" stroke="#e8962c"/>
<path d="M85.5 90.7Q71.7 85.7 57.0 87.5" stroke="#e8962c"/>
<path d="M85.5 90.7Q78.8 82.4 69.0 78.0" stroke="#e8962c"/>
<path d="M91.8 82.0Q75.1 72.2 55.8 71.0" stroke="#e8962c"/>
<path d="M91.8 82.0Q85.2 62.8 70.7 48.6" stroke="#e8962c"/>
<path d="M91.8 82.0Q83.1 81.2 75.0 84.5" stroke="#e8962c"/>
<path d="M91.8 82.0Q83.1 81.2 75.0 84.5" stroke="#e8962c"/>
<path d="M91.8 82.0Q86.5 68.1 75.5 58.0" stroke="#e8962c"/>
<path d="M91.8 82.0Q83.1 81.2 75.0 84.5" stroke="#e8962c"/>
<path d="M105.1 53.3Q91.2 65.9 84.5 83.5" stroke="#e8962c"/>
<path d="M105.1 53.3Q88.4 46.8 70.7 48.6" stroke="#e8962c"/>
<path d="M105.1 53.3Q72.3 35.4 35.0 34.4" stroke="#e8962c"/>
<path d="M105.1 53.3Q105.7 58.3 108.5 62.5" stroke="#e8962c"/>
<path d="M105.1 53.3Q86.3 65.3 75.0 84.5" stroke="#e8962c"/>
<path d="M83.6 64.4Q79.0 54.9 70.7 48.6" stroke="#e8962c"/>
<path d="M83.6 64.4Q91.4 80.1 105.5 90.5" stroke="#e8962c"/>
<path d="M83.6 64.4Q80.3 60.2 75.5 58.0" stroke="#e8962c"/>
<path d="M83.6 64.4Q79.0 54.9 70.7 48.6" stroke="#e8962c"/>
<path d="M83.6 64.4Q76.9 73.4 75.0 84.5" stroke="#e8962c"/>
<path d="M83.6 64.4Q81.7 74.0 84.5 83.5" stroke="#e8962c"/>
<path d="M37.2 72.3Q54.6 82.9 75.0 84.5" stroke="#3ea0e0"/>
<path d="M37.2 72.3Q41.8 63.7 42.0 54.0" stroke="#3ea0e0"/>
<path d="M37.2 72.3Q54.2 70.4 68.5 61.0" stroke="#3ea0e0"/>
<path d="M37.2 72.3Q59.5 83.6 84.5 83.5" stroke="#3ea0e0"/>
<path d="M37.2 72.3Q74.0 76.0 108.5 62.5" stroke="#3ea0e0"/>
<path d="M101.2 75.5Q106.4 69.9 108.5 62.5" stroke="#e8962c"/>
<path d="M101.2 75.5Q89.2 58.4 70.7 48.6" stroke="#e8962c"/>
<path d="M101.2 75.5Q94.6 64.5 83.8 57.6" stroke="#e8962c"/>
<path d="M101.2 75.5Q83.9 69.0 65.5 71.0" stroke="#e8962c"/>
<path d="M101.2 75.5Q87.0 76.9 75.0 84.5" stroke="#e8962c"/>
<path d="M73.5 32.3Q72.9 59.2 84.5 83.5" stroke="#dc3c3c"/>
<path d="M73.5 32.3Q64.9 50.7 65.5 71.0" stroke="#dc3c3c"/>
<path d="M73.5 32.3Q75.8 40.3 81.5 46.5" stroke="#dc3c3c"/>
<path d="M73.5 32.3Q84.8 45.9 101.0 53.0" stroke="#dc3c3c"/>
<path d="M42.2 83.2Q58.5 87.8 75.0 84.5" stroke="#3ea0e0"/>
<path d="M42.2 83.2Q58.0 75.2 68.5 61.0" stroke="#3ea0e0"/>
<path d="M42.2 83.2Q51.9 83.0 60.5 78.5" stroke="#3ea0e0"/>
<path d="M42.2 83.2Q55.3 79.9 65.5 71.0" stroke="#3ea0e0"/>
<path d="M42.2 83.2Q61.9 74.6 75.5 58.0" stroke="#3ea0e0"/>
<path d="M33.0 66.7Q39.0 61.4 42.0 54.0" stroke="#3ea0e0"/>
<path d="M33.0 66.7Q46.7 68.0 59.5 63.0" stroke="#3ea0e0"/>
<path d="M33.0 66.7Q48.7 72.7 65.5 71.0" stroke="#3ea0e0"/>
<path d="M33.0 66.7Q46.1 56.1 53.0 40.8" stroke="#3ea0e0"/>
<path d="M33.0 66.7Q35.1 71.3 39.0 74.5" stroke="#3ea0e0"/>
</g>
<circle cx="73.5" cy="32.3" r="0.62" fill="#dc3c3c" fill-opacity="0.82"/>
<circle cx="13.5" cy="46.0" r="0.80" fill="#3ea0e0" fill-opacity="0.82"/>
<circle cx="33.0" cy="66.7" r="0.88" fill="#3ea0e0" fill-opacity="0.82"/>
<circle cx="101.2" cy="75.5" r="0.88" fill="#e8962c" fill-opacity="0.82"/>
<circle cx="82.0" cy="103.0" r="0.90" fill="#a452e4" fill-opacity="0.82"/>
<circle cx="70.0" cy="111.0" r="0.90" fill="#e8962c" fill-opacity="0.82"/>
<circle cx="83.0" cy="112.0" r="0.90" fill="#e8962c" fill-opacity="0.82"/>
<circle cx="16.0" cy="68.0" r="0.90" fill="#3ea0e0" fill-opacity="0.82"/>
<circle cx="85.5" cy="90.7" r="0.93" fill="#e8962c" fill-opacity="0.82"/>
<circle cx="37.2" cy="72.3" r="0.96" fill="#3ea0e0" fill-opacity="0.82"/>
<circle cx="57.8" cy="13.4" r="1.00" fill="#3ea0e0" fill-opacity="0.82"/>
<circle cx="81.0" cy="12.2" r="1.00" fill="#dc3c3c" fill-opacity="0.82"/>
<circle cx="69.8" cy="12.8" r="1.00" fill="#dc3c3c" fill-opacity="0.82"/>
<circle cx="107.5" cy="20.3" r="1.00" fill="#dc3c3c" fill-opacity="0.82"/>
<circle cx="115.5" cy="32.0" r="1.00" fill="#dc3c3c" fill-opacity="0.82"/>
<circle cx="75.0" cy="22.3" r="1.00" fill="#3ea0e0" fill-opacity="0.82"/>
<circle cx="85.5" cy="24.5" r="1.00" fill="#a452e4" fill-opacity="0.82"/>
<circle cx="95.5" cy="23.5" r="1.00" fill="#a452e4" fill-opacity="0.82"/>
<circle cx="70.5" cy="30.0" r="1.00" fill="#a452e4" fill-opacity="0.82"/>
<circle cx="98.5" cy="32.5" r="1.00" fill="#a452e4" fill-opacity="0.82"/>
<circle cx="98.0" cy="42.5" r="1.00" fill="#a452e4" fill-opacity="0.82"/>
<circle cx="81.5" cy="46.5" r="1.00" fill="#a452e4" fill-opacity="0.82"/>
<circle cx="128.0" cy="49.0" r="1.00" fill="#dc3c3c" fill-opacity="0.82"/>
<circle cx="86.0" cy="46.8" r="1.00" fill="#dc3c3c" fill-opacity="0.82"/>
<circle cx="117.0" cy="53.5" r="1.00" fill="#dc3c3c" fill-opacity="0.82"/>
<circle cx="69.0" cy="78.0" r="1.00" fill="#e8962c" fill-opacity="0.82"/>
<circle cx="105.5" cy="90.5" r="1.00" fill="#e8962c" fill-opacity="0.82"/>
<circle cx="74.0" cy="93.0" r="1.00" fill="#a452e4" fill-opacity="0.82"/>
<circle cx="113.5" cy="98.5" r="1.00" fill="#e8962c" fill-opacity="0.82"/>
<circle cx="65.0" cy="103.5" r="1.00" fill="#c080f0" fill-opacity="0.82"/>
<circle cx="37.7" cy="17.3" r="1.00" fill="#3ea0e0" fill-opacity="0.82"/>
<circle cx="51.5" cy="21.4" r="1.00" fill="#3ea0e0" fill-opacity="0.82"/>
<circle cx="42.5" cy="26.0" r="1.00" fill="#dc3c3c" fill-opacity="0.82"/>
<circle cx="20.5" cy="30.0" r="1.00" fill="#3ea0e0" fill-opacity="0.82"/>
<circle cx="25.5" cy="40.5" r="1.00" fill="#3ea0e0" fill-opacity="0.82"/>
<circle cx="19.5" cy="55.5" r="1.00" fill="#3ea0e0" fill-opacity="0.82"/>
<circle cx="33.0" cy="54.5" r="1.00" fill="#3ea0e0" fill-opacity="0.82"/>
<circle cx="28.0" cy="64.0" r="1.00" fill="#3ea0e0" fill-opacity="0.82"/>
<circle cx="39.0" cy="65.0" r="1.00" fill="#3ea0e0" fill-opacity="0.82"/>
<circle cx="28.0" cy="74.5" r="1.00" fill="#3ea0e0" fill-opacity="0.82"/>
<circle cx="39.0" cy="74.5" r="1.00" fill="#3ea0e0" fill-opacity="0.82"/>
<circle cx="50.0" cy="70.0" r="1.00" fill="#3ea0e0" fill-opacity="0.82"/>
<circle cx="20.5" cy="83.0" r="1.00" fill="#3ea0e0" fill-opacity="0.82"/>
<circle cx="36.0" cy="84.0" r="1.00" fill="#c080f0" fill-opacity="0.82"/>
<circle cx="30.0" cy="92.0" r="1.00" fill="#3ea0e0" fill-opacity="0.82"/>
<circle cx="45.5" cy="87.0" r="1.00" fill="#c080f0" fill-opacity="0.82"/>
<circle cx="57.0" cy="87.5" r="1.00" fill="#c080f0" fill-opacity="0.82"/>
<circle cx="61.0" cy="96.0" r="1.00" fill="#c080f0" fill-opacity="0.82"/>
<circle cx="40.5" cy="98.0" r="1.00" fill="#c080f0" fill-opacity="0.82"/>
<circle cx="52.0" cy="104.0" r="1.00" fill="#c080f0" fill-opacity="0.82"/>
<circle cx="105.1" cy="53.3" r="1.03" fill="#e8962c" fill-opacity="0.82"/>
<circle cx="63.5" cy="22.5" r="1.10" fill="#dc3c3c" fill-opacity="0.82"/>
<circle cx="79.5" cy="32.0" r="1.10" fill="#dc3c3c" fill-opacity="0.82"/>
<circle cx="113.5" cy="71.5" r="1.10" fill="#e8962c" fill-opacity="0.82"/>
<circle cx="109.5" cy="81.0" r="1.10" fill="#e8962c" fill-opacity="0.82"/>
<circle cx="93.0" cy="88.5" r="1.10" fill="#e8962c" fill-opacity="0.82"/>
<circle cx="99.5" cy="101.0" r="1.10" fill="#e8962c" fill-opacity="0.82"/>
<circle cx="88.0" cy="101.5" r="1.10" fill="#c080f0" fill-opacity="0.82"/>
<circle cx="52.8" cy="31.6" r="1.10" fill="#dc3c3c" fill-opacity="0.82"/>
<circle cx="51.0" cy="78.5" r="1.10" fill="#a452e4" fill-opacity="0.82"/>
<circle cx="42.2" cy="83.2" r="1.19" fill="#3ea0e0" fill-opacity="0.82"/>
<circle cx="123.0" cy="63.0" r="1.20" fill="#dc3c3c" fill-opacity="0.82"/>
<circle cx="82.0" cy="41.0" r="1.20" fill="#dc3c3c" fill-opacity="0.82"/>
<circle cx="107.0" cy="43.5" r="1.20" fill="#dc3c3c" fill-opacity="0.82"/>
<circle cx="101.0" cy="53.0" r="1.20" fill="#dc3c3c" fill-opacity="0.82"/>
<circle cx="79.0" cy="74.5" r="1.20" fill="#a452e4" fill-opacity="0.82"/>
<circle cx="83.6" cy="64.4" r="1.22" fill="#e8962c" fill-opacity="0.82"/>
<circle cx="91.8" cy="82.0" r="1.22" fill="#e8962c" fill-opacity="0.82"/>
<circle cx="41.5" cy="68.5" r="1.25" fill="#30c0d8" fill-opacity="0.82"/>
<circle cx="110.5" cy="53.0" r="1.30" fill="#dc3c3c" fill-opacity="0.82"/>
<circle cx="98.5" cy="62.0" r="1.40" fill="#e8962c" fill-opacity="0.82"/>
<circle cx="117.0" cy="43.5" r="1.40" fill="#dc3c3c" fill-opacity="0.82"/>
<circle cx="42.0" cy="54.0" r="1.40" fill="#22bcd4" fill-opacity="0.82"/>
<circle cx="55.8" cy="71.0" r="1.50" fill="#3ea0e0" fill-opacity="0.82"/>
<circle cx="83.8" cy="57.6" r="1.50" fill="#dc3c3c" fill-opacity="0.82"/>
<circle cx="35.0" cy="34.4" r="1.50" fill="#3ea0e0" fill-opacity="0.82"/>
<circle cx="36.0" cy="45.5" r="1.50" fill="#3ea0e0" fill-opacity="0.82"/>
<circle cx="89.5" cy="36.0" r="1.80" fill="#dc3c3c" fill-opacity="0.82"/>
<circle cx="92.5" cy="54.5" r="1.80" fill="#e8962c" fill-opacity="0.82"/>
<circle cx="108.5" cy="62.5" r="1.80" fill="#a452e4" fill-opacity="0.82"/>
<circle cx="68.5" cy="61.0" r="2.00" fill="#a452e4" fill-opacity="0.82"/>
<circle cx="84.5" cy="83.5" r="2.00" fill="#a452e4" fill-opacity="0.82"/>
<circle cx="53.0" cy="40.8" r="2.20" fill="#3ea0e0" fill-opacity="0.82"/>
<circle cx="65.2" cy="53.3" r="2.20" fill="#a452e4" fill-opacity="0.82"/>
<circle cx="75.5" cy="58.0" r="2.20" fill="#e8962c" fill-opacity="0.82"/>
<circle cx="65.5" cy="71.0" r="2.80" fill="#e8962c" fill-opacity="0.82"/>
<circle cx="60.5" cy="78.5" r="3.00" fill="#22bcd4" fill-opacity="0.82"/>
<circle cx="59.5" cy="63.0" r="3.30" fill="#a452e4" fill-opacity="0.82"/>
<circle cx="75.0" cy="84.5" r="3.30" fill="#a452e4" fill-opacity="0.82"/>
<circle cx="70.7" cy="48.6" r="3.80" fill="#dc3c3c" fill-opacity="0.82"/>
<g font-size="2.4" fill="#2c2c2c" text-anchor="middle">
<text x="70.7" y="49.8" font-size="3.39">breast cancer</text>
<text x="53.0" y="41.7" font-size="2.70">photodynamic therapy</text>
<text x="65.2" y="54.2" font-size="2.70">therapy</text>
<text x="59.5" y="64.1" font-size="3.18">nanotechnology</text>
<text x="75.5" y="58.9" font-size="2.70">apoptosis</text>
<text x="65.5" y="72.0" font-size="2.96">drug delivery</text>
<text x="60.5" y="79.6" font-size="3.05">nanoparticles</text>
<text x="55.8" y="71.8" font-size="2.40">gold nanoparticles</text>
<text x="89.5" y="36.9" font-size="2.53">cancer therapy</text>
<text x="83.8" y="58.4" font-size="2.40">cells</text>
<text x="92.5" y="55.4" font-size="2.53">growth</text>
<text x="75.0" y="85.6" font-size="3.18">chemotherapy</text>
<text x="108.5" y="63.4" font-size="2.53">cytotoxicity</text>
<text x="123.0" y="63.8" font-size="2.40">magnetic nanoparticles</text>
<text x="98.5" y="62.8" font-size="2.40">release</text>
<text x="117.0" y="44.3" font-size="2.40">photodynamic therapy</text>
<text x="35.0" y="35.2" font-size="2.40">photothermal therapy</text>
<text x="36.0" y="46.3" font-size="2.40">nanomedicine</text>
<text x="42.0" y="54.8" font-size="2.40">imaging</text>
<text x="69.8" y="13.6" font-size="2.40">photosensitizer</text>
<text x="107.5" y="21.1" font-size="2.40">singlet oxygen species</text>
<text x="115.5" y="32.8" font-size="2.40">mcf-7 cells</text>
<text x="75.0" y="23.1" font-size="2.40">apoptosis</text>
<text x="85.5" y="25.3" font-size="2.40">in vitro</text>
<text x="79.5" y="32.8" font-size="2.40">expression</text>
<text x="98.5" y="33.3" font-size="2.40">nanoparticle delivery</text>
<text x="98.0" y="43.3" font-size="2.40">mechanisms</text>
<text x="86.0" y="47.6" font-size="2.40">toxicity</text>
<text x="101.0" y="53.8" font-size="2.40">tumor</text>
<text x="117.0" y="54.3" font-size="2.40">carcinoma</text>
<text x="113.5" y="72.3" font-size="2.40">design</text>
<text x="79.0" y="75.3" font-size="2.40">system</text>
<text x="109.5" y="81.8" font-size="2.40">drug release</text>
<text x="121.0" y="84.8" font-size="2.40">drug delivery systems</text>
<text x="93.0" y="89.3" font-size="2.40">hyperthermia</text>
<text x="74.0" y="93.8" font-size="2.40">paclitaxel</text>
<text x="99.5" y="101.8" font-size="2.40">liposomes</text>
<text x="88.0" y="102.3" font-size="2.40">micelles</text>
<text x="65.0" y="104.3" font-size="2.40">women</text>
<text x="70.0" y="111.8" font-size="2.40">survival</text>
<text x="37.7" y="18.1" font-size="2.40">silver nanoparticles</text>
<text x="51.5" y="22.2" font-size="2.40">carbon</text>
<text x="42.5" y="26.8" font-size="2.40">cancer nanomedicine</text>
<text x="20.5" y="30.8" font-size="2.40">gold nanoparticles</text>
<text x="52.8" y="32.4" font-size="2.40">resistance</text>
<text x="25.5" y="41.3" font-size="2.40">nanocarriers</text>
<text x="13.5" y="46.8" font-size="2.40">cell</text>
<text x="19.5" y="56.3" font-size="2.40">quantum dots</text>
<text x="30.0" y="56.3" font-size="2.40">contrast</text>
<text x="28.0" y="64.8" font-size="2.40">silica</text>
<text x="39.0" y="65.8" font-size="2.40">mri</text>
<text x="16.0" y="68.8" font-size="2.40">fluorescence</text>
<text x="39.0" y="75.3" font-size="2.40">polymer</text>
<text x="50.0" y="70.8" font-size="2.40">delivery</text>
<text x="20.5" y="83.8" font-size="2.40">iron oxide</text>
<text x="30.0" y="92.8" font-size="2.40">cancer cells</text>
<text x="45.5" y="87.8" font-size="2.40">prostate</text>
<text x="57.0" y="88.3" font-size="2.40">diagnosis</text>
<text x="61.0" y="96.8" font-size="2.40">survival</text>
<text x="40.5" y="98.8" font-size="2.40">identification</text>
<text x="52.0" y="104.8" font-size="2.40">expression</text>
<text x="93.5" y="11.5" font-size="2.40">biodistribution</text>
<text x="41.5" y="69.3" font-size="2.40">antitumor</text>
<text x="85.5" y="91.6" font-size="2.40">efficacy</text>
<text x="91.8" y="82.8" font-size="2.40">nanocarriers</text>
<text x="105.1" y="54.1" font-size="2.40">identification</text>
<text x="83.6" y="65.2" font-size="2.40">paclitaxel</text>
<text x="37.2" y="73.1" font-size="2.40">iron oxide</text>
<text x="101.2" y="76.4" font-size="2.40">paclitaxel</text>
<text x="73.5" y="33.1" font-size="2.40">toxicity</text>
<text x="42.2" y="84.0" font-size="2.40">chemotherapy</text>
<text x="33.0" y="67.5" font-size="2.40">nanomedicine</text>
</g>
<text transform="translate(1.7,8.2) scale(0.84,1)" font-size="8.2" font-weight="700" fill="#111">A</text>
<text transform="translate(2.2,123.2) scale(0.84,1)" font-size="8.2" font-weight="700" fill="#111">B</text>
<defs><linearGradient id="vir" x1="0" y1="0" x2="1" y2="0"><stop offset="0" stop-color="#323e82"/><stop offset="0.25" stop-color="#30608c"/><stop offset="0.5" stop-color="#21918c"/><stop offset="0.75" stop-color="#5ec962"/><stop offset="1" stop-color="#f4e61e"/></linearGradient></defs>
<rect x="96.8" y="255.9" width="63.3" height="9.5" rx="1.2" fill="#fff" stroke="#d8d8d8" stroke-width="0.5"/>
<rect x="98.4" y="257.7" width="59.6" height="3.1" fill="url(#vir)"/>
<g font-size="2.4" fill="#333" text-anchor="middle"><text x="101.4" y="264.5">2018</text><text x="119.5" y="264.5">2019</text><text x="137.1" y="264.5">2020</text><text x="155.4" y="264.5">2021</text></g>
<g fill="none" stroke-width="0.3" stroke-opacity="0.26">
<path d="M68.5 190.5Q78.5 183.1 84.0 172.0" stroke="#297c8b"/>
<path d="M68.5 190.5Q71.1 184.3 70.6 177.5" stroke="#297c8b"/>
<path d="M68.5 190.5Q75.4 204.8 88.0 214.5" stroke="#297c8b"/>
<path d="M68.5 190.5Q67.9 176.3 61.0 164.0" stroke="#297c8b"/>
<path d="M68.5 190.5Q57.6 176.5 41.5 169.0" stroke="#297c8b"/>
<path d="M68.5 190.5Q66.9 200.4 70.0 210.0" stroke="#297c8b"/>
<path d="M68.5 190.5Q58.2 169.5 39.5 155.5" stroke="#297c8b"/>
<path d="M68.5 190.5Q90.8 178.1 105.0 157.0" stroke="#297c8b"/>
<path d="M68.5 190.5Q83.9 180.2 93.0 164.0" stroke="#297c8b"/>
<path d="M68.5 190.5Q87.8 189.6 104.5 180.0" stroke="#297c8b"/>
<path d="M68.5 190.5Q80.5 217.4 103.5 236.0" stroke="#297c8b"/>
<path d="M68.5 190.5Q84.2 190.3 98.0 183.0" stroke="#297c8b"/>
<path d="M68.5 190.5Q96.7 208.6 130.0 212.0" stroke="#297c8b"/>
<path d="M84.0 172.0Q76.6 173.1 70.6 177.5" stroke="#2d9c83"/>
<path d="M84.0 172.0Q80.9 193.7 88.0 214.5" stroke="#2d9c83"/>
<path d="M84.0 172.0Q73.5 165.2 61.0 164.0" stroke="#2d9c83"/>
<path d="M84.0 172.0Q63.1 165.4 41.5 169.0" stroke="#2d9c83"/>
<path d="M84.0 172.0Q89.5 169.1 93.0 164.0" stroke="#2d9c83"/>
<path d="M84.0 172.0Q93.3 178.5 104.5 180.0" stroke="#2d9c83"/>
<path d="M84.0 172.0Q86.1 206.3 103.5 236.0" stroke="#2d9c83"/>
<path d="M84.0 172.0Q89.7 179.2 98.0 183.0" stroke="#2d9c83"/>
<path d="M70.6 177.5Q74.9 198.1 88.0 214.5" stroke="#259588"/>
<path d="M70.6 177.5Q67.4 169.6 61.0 164.0" stroke="#259588"/>
<path d="M70.6 177.5Q57.1 169.8 41.5 169.0" stroke="#259588"/>
<path d="M70.6 177.5Q66.4 193.7 70.0 210.0" stroke="#259588"/>
<path d="M70.6 177.5Q57.7 162.8 39.5 155.5" stroke="#259588"/>
<path d="M70.6 177.5Q90.3 171.4 105.0 157.0" stroke="#259588"/>
<path d="M70.6 177.5Q83.4 173.4 93.0 164.0" stroke="#259588"/>
<path d="M70.6 177.5Q87.2 182.8 104.5 180.0" stroke="#259588"/>
<path d="M70.6 177.5Q80.0 210.7 103.5 236.0" stroke="#259588"/>
<path d="M70.6 177.5Q83.6 183.5 98.0 183.0" stroke="#259588"/>
<path d="M70.6 177.5Q98.1 190.4 128.5 189.5" stroke="#259588"/>
<path d="M88.0 214.5Q84.3 205.7 77.0 199.5" stroke="#259588"/>
<path d="M88.0 214.5Q80.6 186.0 61.0 164.0" stroke="#259588"/>
<path d="M88.0 214.5Q70.2 186.2 41.5 169.0" stroke="#259588"/>
<path d="M88.0 214.5Q79.5 210.1 70.0 210.0" stroke="#259588"/>
<path d="M88.0 214.5Q70.8 179.2 39.5 155.5" stroke="#259588"/>
<path d="M88.0 214.5Q103.4 187.8 105.0 157.0" stroke="#259588"/>
<path d="M88.0 214.5Q96.6 189.8 93.0 164.0" stroke="#259588"/>
<path d="M88.0 214.5Q93.2 227.1 103.5 236.0" stroke="#259588"/>
<path d="M88.0 214.5Q96.8 199.9 98.0 183.0" stroke="#259588"/>
<path d="M88.0 214.5Q111.2 206.9 128.5 189.5" stroke="#259588"/>
<path d="M88.0 214.5Q109.3 218.3 130.0 212.0" stroke="#259588"/>
<path d="M77.0 199.5Q73.3 179.8 61.0 164.0" stroke="#34a27e"/>
<path d="M77.0 199.5Q62.9 180.0 41.5 169.0" stroke="#34a27e"/>
<path d="M77.0 199.5Q72.2 203.9 70.0 210.0" stroke="#34a27e"/>
<path d="M77.0 199.5Q63.5 173.0 39.5 155.5" stroke="#34a27e"/>
<path d="M77.0 199.5Q96.1 181.6 105.0 157.0" stroke="#34a27e"/>
<path d="M77.0 199.5Q93.1 193.1 104.5 180.0" stroke="#34a27e"/>
<path d="M77.0 199.5Q89.5 193.8 98.0 183.0" stroke="#34a27e"/>
<path d="M77.0 199.5Q102.0 212.1 130.0 212.0" stroke="#34a27e"/>
<path d="M61.0 164.0Q50.6 164.2 41.5 169.0" stroke="#238b8b"/>
<path d="M61.0 164.0Q60.0 188.1 70.0 210.0" stroke="#238b8b"/>
<path d="M61.0 164.0Q51.3 157.2 39.5 155.5" stroke="#238b8b"/>
<path d="M61.0 164.0Q83.8 165.8 105.0 157.0" stroke="#238b8b"/>
<path d="M61.0 164.0Q80.8 177.2 104.5 180.0" stroke="#238b8b"/>
<path d="M61.0 164.0Q73.6 205.1 103.5 236.0" stroke="#238b8b"/>
<path d="M61.0 164.0Q77.2 177.9 98.0 183.0" stroke="#238b8b"/>
<path d="M61.0 164.0Q91.7 184.8 128.5 189.5" stroke="#238b8b"/>
<path d="M61.0 164.0Q89.7 196.3 130.0 212.0" stroke="#238b8b"/>
<path d="M41.5 169.0Q50.8 192.9 70.0 210.0" stroke="#5ec962"/>
<path d="M41.5 169.0Q42.1 162.0 39.5 155.5" stroke="#5ec962"/>
<path d="M41.5 169.0Q74.7 170.6 105.0 157.0" stroke="#5ec962"/>
<path d="M41.5 169.0Q67.8 172.7 93.0 164.0" stroke="#5ec962"/>
<path d="M41.5 169.0Q71.7 182.1 104.5 180.0" stroke="#5ec962"/>
<path d="M41.5 169.0Q82.5 189.7 128.5 189.5" stroke="#5ec962"/>
<path d="M70.0 210.0Q61.3 179.1 39.5 155.5" stroke="#21918c"/>
<path d="M70.0 210.0Q93.9 187.7 105.0 157.0" stroke="#21918c"/>
<path d="M70.0 210.0Q90.8 199.1 104.5 180.0" stroke="#21918c"/>
<path d="M70.0 210.0Q83.6 227.0 103.5 236.0" stroke="#21918c"/>
<path d="M70.0 210.0Q87.2 199.9 98.0 183.0" stroke="#21918c"/>
<path d="M70.0 210.0Q101.7 206.8 128.5 189.5" stroke="#21918c"/>
<path d="M70.0 210.0Q99.8 218.2 130.0 212.0" stroke="#21918c"/>
<path d="M39.5 155.5Q72.1 164.1 105.0 157.0" stroke="#21918c"/>
<path d="M39.5 155.5Q65.2 166.2 93.0 164.0" stroke="#21918c"/>
<path d="M39.5 155.5Q69.1 175.6 104.5 180.0" stroke="#21918c"/>
<path d="M39.5 155.5Q61.8 203.4 103.5 236.0" stroke="#21918c"/>
<path d="M39.5 155.5Q78.0 194.6 130.0 212.0" stroke="#21918c"/>
<path d="M105.0 157.0Q102.0 168.4 104.5 180.0" stroke="#21918c"/>
<path d="M105.0 157.0Q94.8 196.3 103.5 236.0" stroke="#21918c"/>
<path d="M105.0 157.0Q112.8 176.1 128.5 189.5" stroke="#21918c"/>
<path d="M105.0 157.0Q110.9 187.5 130.0 212.0" stroke="#21918c"/>
<path d="M93.0 164.0Q96.8 173.4 104.5 180.0" stroke="#2d9c83"/>
<path d="M93.0 164.0Q89.6 201.3 103.5 236.0" stroke="#2d9c83"/>
<path d="M93.0 164.0Q93.2 174.1 98.0 183.0" stroke="#2d9c83"/>
<path d="M93.0 164.0Q107.7 181.0 128.5 189.5" stroke="#2d9c83"/>
<path d="M104.5 180.0Q97.3 207.9 103.5 236.0" stroke="#355e8b"/>
<path d="M104.5 180.0Q100.9 180.7 98.0 183.0" stroke="#355e8b"/>
<path d="M104.5 180.0Q115.4 187.6 128.5 189.5" stroke="#355e8b"/>
<path d="M103.5 236.0Q121.6 215.8 128.5 189.5" stroke="#37598b"/>
<path d="M103.5 236.0Q119.6 227.2 130.0 212.0" stroke="#37598b"/>
<path d="M98.0 183.0Q112.5 189.9 128.5 189.5" stroke="#9dd549"/>
<path d="M98.0 183.0Q110.5 201.3 130.0 212.0" stroke="#9dd549"/>
<path d="M128.5 189.5Q126.5 200.9 130.0 212.0" stroke="#26848b"/>
<path d="M68.5 190.5Q71.1 184.3 70.6 177.5" stroke="#297c8b"/>
<path d="M68.5 190.5Q84.2 190.3 98.0 183.0" stroke="#297c8b"/>
<path d="M68.5 190.5Q62.0 199.0 60.0 209.5" stroke="#297c8b"/>
<path d="M68.5 190.5Q96.7 208.6 130.0 212.0" stroke="#297c8b"/>
<path d="M68.5 190.5Q71.7 196.0 77.0 199.5" stroke="#297c8b"/>
<path d="M68.5 190.5Q78.5 183.1 84.0 172.0" stroke="#297c8b"/>
<path d="M68.5 190.5Q71.7 196.0 77.0 199.5" stroke="#297c8b"/>
<path d="M68.5 190.5Q78.5 183.1 84.0 172.0" stroke="#297c8b"/>
<path d="M68.5 190.5Q87.8 189.6 104.5 180.0" stroke="#297c8b"/>
<path d="M68.5 190.5Q58.2 197.6 52.3 208.6" stroke="#297c8b"/>
<path d="M68.5 190.5Q87.8 189.6 104.5 180.0" stroke="#297c8b"/>
<path d="M68.5 190.5Q57.1 180.3 42.3 176.4" stroke="#297c8b"/>
<path d="M68.5 190.5Q90.8 178.1 105.0 157.0" stroke="#297c8b"/>
<path d="M68.5 190.5Q78.5 183.1 84.0 172.0" stroke="#297c8b"/>
<path d="M68.5 190.5Q59.5 199.6 55.6 211.8" stroke="#297c8b"/>
<path d="M84.0 172.0Q96.3 167.0 105.0 157.0" stroke="#2d9c83"/>
<path d="M84.0 172.0Q89.5 169.1 93.0 164.0" stroke="#2d9c83"/>
<path d="M84.0 172.0Q80.9 193.7 88.0 214.5" stroke="#2d9c83"/>
<path d="M84.0 172.0Q85.6 161.0 82.0 150.5" stroke="#2d9c83"/>
<path d="M84.0 172.0Q96.3 167.0 105.0 157.0" stroke="#2d9c83"/>
<path d="M84.0 172.0Q74.0 179.4 68.5 190.5" stroke="#2d9c83"/>
<path d="M84.0 172.0Q73.5 165.2 61.0 164.0" stroke="#2d9c83"/>
<path d="M84.0 172.0Q80.9 193.7 88.0 214.5" stroke="#2d9c83"/>
<path d="M84.0 172.0Q73.0 178.7 66.3 189.7" stroke="#2d9c83"/>
<path d="M84.0 172.0Q80.9 193.7 88.0 214.5" stroke="#2d9c83"/>
<path d="M84.0 172.0Q76.6 173.1 70.6 177.5" stroke="#2d9c83"/>
<path d="M84.0 172.0Q93.3 178.5 104.5 180.0" stroke="#2d9c83"/>
<path d="M84.0 172.0Q77.2 184.9 77.0 199.5" stroke="#2d9c83"/>
<path d="M84.0 172.0Q95.3 172.2 105.5 167.2" stroke="#2d9c83"/>
<path d="M77.0 199.5Q73.3 179.8 61.0 164.0" stroke="#34a27e"/>
<path d="M77.0 199.5Q62.9 180.0 41.5 169.0" stroke="#34a27e"/>
<path d="M77.0 199.5Q83.8 186.6 84.0 172.0" stroke="#34a27e"/>
<path d="M77.0 199.5Q93.1 193.1 104.5 180.0" stroke="#34a27e"/>
<path d="M77.0 199.5Q90.3 198.8 101.8 192.2" stroke="#34a27e"/>
<path d="M77.0 199.5Q83.8 186.6 84.0 172.0" stroke="#34a27e"/>
<path d="M77.0 199.5Q62.9 180.0 41.5 169.0" stroke="#34a27e"/>
<path d="M77.0 199.5Q76.4 187.7 70.6 177.5" stroke="#34a27e"/>
<path d="M77.0 199.5Q86.3 203.6 96.5 203.0" stroke="#34a27e"/>
<path d="M77.0 199.5Q73.8 194.0 68.5 190.5" stroke="#34a27e"/>
<path d="M77.0 199.5Q73.8 194.0 68.5 190.5" stroke="#34a27e"/>
<path d="M77.0 199.5Q96.1 181.6 105.0 157.0" stroke="#34a27e"/>
<path d="M88.0 214.5Q93.2 227.1 103.5 236.0" stroke="#259588"/>
<path d="M88.0 214.5Q91.1 192.8 84.0 172.0" stroke="#259588"/>
<path d="M88.0 214.5Q98.1 220.9 110.0 222.0" stroke="#259588"/>
<path d="M88.0 214.5Q75.4 214.1 64.0 219.5" stroke="#259588"/>
<path d="M88.0 214.5Q77.2 219.3 69.9 228.5" stroke="#259588"/>
<path d="M88.0 214.5Q93.2 227.1 103.5 236.0" stroke="#259588"/>
<path d="M88.0 214.5Q92.3 205.2 92.0 195.0" stroke="#259588"/>
<path d="M88.0 214.5Q91.1 192.8 84.0 172.0" stroke="#259588"/>
<path d="M88.0 214.5Q111.2 206.9 128.5 189.5" stroke="#259588"/>
<path d="M88.0 214.5Q103.4 187.8 105.0 157.0" stroke="#259588"/>
<path d="M70.0 210.0Q81.6 192.7 84.0 172.0" stroke="#21918c"/>
<path d="M70.0 210.0Q64.2 202.3 55.5 198.0" stroke="#21918c"/>
<path d="M70.0 210.0Q74.2 193.8 70.6 177.5" stroke="#21918c"/>
<path d="M70.0 210.0Q83.6 227.0 103.5 236.0" stroke="#21918c"/>
<path d="M70.0 210.0Q74.8 205.6 77.0 199.5" stroke="#21918c"/>
<path d="M70.0 210.0Q67.7 219.3 69.9 228.5" stroke="#21918c"/>
<path d="M70.0 210.0Q64.2 202.3 55.5 198.0" stroke="#21918c"/>
<path d="M70.0 210.0Q93.9 187.7 105.0 157.0" stroke="#21918c"/>
<path d="M70.0 210.0Q90.8 199.1 104.5 180.0" stroke="#21918c"/>
<path d="M70.0 210.0Q61.3 179.1 39.5 155.5" stroke="#21918c"/>
<path d="M70.0 210.0Q74.8 205.6 77.0 199.5" stroke="#21918c"/>
<path d="M61.0 164.0Q55.2 153.1 45.0 146.0" stroke="#238b8b"/>
<path d="M61.0 164.0Q71.5 170.8 84.0 172.0" stroke="#238b8b"/>
<path d="M61.0 164.0Q64.2 171.9 70.6 177.5" stroke="#238b8b"/>
<path d="M61.0 164.0Q71.5 170.8 84.0 172.0" stroke="#238b8b"/>
<path d="M61.0 164.0Q56.8 168.3 55.0 174.0" stroke="#238b8b"/>
<path d="M61.0 164.0Q68.1 148.1 67.3 130.7" stroke="#238b8b"/>
<path d="M61.0 164.0Q76.8 155.6 87.0 141.0" stroke="#238b8b"/>
<path d="M61.0 164.0Q61.6 178.2 68.5 190.5" stroke="#238b8b"/>
<path d="M61.0 164.0Q45.2 168.5 33.1 179.7" stroke="#238b8b"/>
<path d="M61.0 164.0Q61.6 178.2 68.5 190.5" stroke="#238b8b"/>
<path d="M41.5 169.0Q55.8 162.5 65.5 150.3" stroke="#5ec962"/>
<path d="M41.5 169.0Q29.8 172.5 21.0 181.0" stroke="#5ec962"/>
<path d="M41.5 169.0Q51.9 168.8 61.0 164.0" stroke="#5ec962"/>
<path d="M41.5 169.0Q62.4 175.6 84.0 172.0" stroke="#5ec962"/>
<path d="M41.5 169.0Q51.3 177.7 64.0 181.0" stroke="#5ec962"/>
<path d="M41.5 169.0Q40.6 180.4 45.0 191.0" stroke="#5ec962"/>
<path d="M41.5 169.0Q50.8 192.9 70.0 210.0" stroke="#5ec962"/>
<path d="M41.5 169.0Q68.1 182.8 98.0 183.0" stroke="#5ec962"/>
<path d="M41.5 169.0Q55.8 162.5 65.5 150.3" stroke="#5ec962"/>
<path d="M41.5 169.0Q52.4 183.0 68.5 190.5" stroke="#5ec962"/>
<path d="M39.5 155.5Q52.4 170.2 70.6 177.5" stroke="#21918c"/>
<path d="M39.5 155.5Q53.0 182.0 77.0 199.5" stroke="#21918c"/>
<path d="M39.5 155.5Q56.7 190.8 88.0 214.5" stroke="#21918c"/>
<path d="M39.5 155.5Q49.2 162.3 61.0 164.0" stroke="#21918c"/>
<path d="M39.5 155.5Q65.2 166.2 93.0 164.0" stroke="#21918c"/>
<path d="M39.5 155.5Q65.5 176.3 98.0 183.0" stroke="#21918c"/>
<path d="M39.5 155.5Q59.8 169.1 84.0 172.0" stroke="#21918c"/>
<path d="M39.5 155.5Q55.9 157.8 71.5 152.5" stroke="#21918c"/>
<path d="M39.5 155.5Q43.3 146.1 42.5 136.0" stroke="#21918c"/>
<path d="M39.5 155.5Q43.3 146.1 42.5 136.0" stroke="#21918c"/>
<path d="M39.5 155.5Q48.2 186.4 70.0 210.0" stroke="#21918c"/>
<path d="M70.6 177.5Q71.3 163.3 65.5 150.3" stroke="#259588"/>
<path d="M70.6 177.5Q71.2 189.3 77.0 199.5" stroke="#259588"/>
<path d="M70.6 177.5Q80.0 210.7 103.5 236.0" stroke="#259588"/>
<path d="M70.6 177.5Q68.0 183.7 68.5 190.5" stroke="#259588"/>
<path d="M70.6 177.5Q79.2 188.8 92.0 195.0" stroke="#259588"/>
<path d="M70.6 177.5Q74.9 198.1 88.0 214.5" stroke="#259588"/>
<path d="M70.6 177.5Q78.0 176.4 84.0 172.0" stroke="#259588"/>
<path d="M70.6 177.5Q68.0 183.7 68.5 190.5" stroke="#259588"/>
<path d="M70.6 177.5Q87.2 182.8 104.5 180.0" stroke="#259588"/>
<path d="M70.6 177.5Q80.5 166.9 84.6 153.0" stroke="#259588"/>
<path d="M70.6 177.5Q87.2 182.8 104.5 180.0" stroke="#259588"/>
<path d="M70.6 177.5Q68.0 183.7 68.5 190.5" stroke="#259588"/>
<path d="M105.0 157.0Q102.4 173.3 107.5 189.0" stroke="#21918c"/>
<path d="M105.0 157.0Q82.7 169.4 68.5 190.5" stroke="#21918c"/>
<path d="M105.0 157.0Q85.3 163.1 70.6 177.5" stroke="#21918c"/>
<path d="M105.0 157.0Q82.7 169.4 68.5 190.5" stroke="#21918c"/>
<path d="M105.0 157.0Q82.7 169.4 68.5 190.5" stroke="#21918c"/>
<path d="M105.0 157.0Q92.7 162.0 84.0 172.0" stroke="#21918c"/>
<path d="M105.0 157.0Q114.2 163.9 125.5 165.8" stroke="#21918c"/>
<path d="M105.0 157.0Q82.7 169.4 68.5 190.5" stroke="#21918c"/>
<path d="M105.0 157.0Q102.0 168.4 104.5 180.0" stroke="#21918c"/>
<path d="M105.0 157.0Q82.7 169.4 68.5 190.5" stroke="#21918c"/>
<path d="M93.0 164.0Q77.6 174.3 68.5 190.5" stroke="#2d9c83"/>
<path d="M93.0 164.0Q76.5 169.0 64.0 181.0" stroke="#2d9c83"/>
<path d="M93.0 164.0Q77.0 160.2 61.0 164.0" stroke="#2d9c83"/>
<path d="M93.0 164.0Q84.4 188.7 88.0 214.5" stroke="#2d9c83"/>
<path d="M93.0 164.0Q86.0 150.4 73.5 141.5" stroke="#2d9c83"/>
<path d="M93.0 164.0Q77.6 174.3 68.5 190.5" stroke="#2d9c83"/>
<path d="M93.0 164.0Q105.8 161.3 116.0 153.0" stroke="#2d9c83"/>
<path d="M93.0 164.0Q107.7 181.0 128.5 189.5" stroke="#2d9c83"/>
<path d="M93.0 164.0Q89.6 201.3 103.5 236.0" stroke="#2d9c83"/>
<path d="M93.0 164.0Q87.5 166.9 84.0 172.0" stroke="#2d9c83"/>
<path d="M104.5 180.0Q95.2 173.5 84.0 172.0" stroke="#355e8b"/>
<path d="M104.5 180.0Q104.9 184.9 107.5 189.0" stroke="#355e8b"/>
<path d="M104.5 180.0Q87.8 174.7 70.6 177.5" stroke="#355e8b"/>
<path d="M104.5 180.0Q97.3 207.9 103.5 236.0" stroke="#355e8b"/>
<path d="M104.5 180.0Q88.4 186.4 77.0 199.5" stroke="#355e8b"/>
<path d="M104.5 180.0Q88.4 186.4 77.0 199.5" stroke="#355e8b"/>
<path d="M104.5 180.0Q92.1 195.3 88.0 214.5" stroke="#355e8b"/>
<path d="M104.5 180.0Q116.7 175.4 125.5 165.8" stroke="#355e8b"/>
<path d="M104.5 180.0Q100.7 170.6 93.0 164.0" stroke="#355e8b"/>
<path d="M104.5 180.0Q85.2 180.9 68.5 190.5" stroke="#355e8b"/>
<path d="M98.0 183.0Q82.3 183.2 68.5 190.5" stroke="#9dd549"/>
<path d="M98.0 183.0Q89.2 197.6 88.0 214.5" stroke="#9dd549"/>
<path d="M98.0 183.0Q85.5 188.7 77.0 199.5" stroke="#9dd549"/>
<path d="M98.0 183.0Q81.8 169.1 61.0 164.0" stroke="#9dd549"/>
<path d="M98.0 183.0Q85.4 178.4 72.0 180.0" stroke="#9dd549"/>
<path d="M98.0 183.0Q72.0 162.2 39.5 155.5" stroke="#9dd549"/>
<path d="M98.0 183.0Q82.3 183.2 68.5 190.5" stroke="#9dd549"/>
<path d="M98.0 183.0Q104.6 170.8 105.0 157.0" stroke="#9dd549"/>
<path d="M98.0 183.0Q82.3 183.2 68.5 190.5" stroke="#9dd549"/>
<path d="M128.5 189.5Q98.4 182.8 68.5 190.5" stroke="#26848b"/>
<path d="M128.5 189.5Q117.6 181.9 104.5 180.0" stroke="#26848b"/>
<path d="M128.5 189.5Q87.5 168.8 41.5 169.0" stroke="#26848b"/>
<path d="M128.5 189.5Q97.8 168.7 61.0 164.0" stroke="#26848b"/>
<path d="M128.5 189.5Q101.5 188.3 77.0 199.5" stroke="#26848b"/>
<path d="M128.5 189.5Q135.8 179.1 137.5 166.5" stroke="#26848b"/>
<path d="M128.5 189.5Q135.8 179.1 137.5 166.5" stroke="#26848b"/>
<path d="M128.5 189.5Q108.3 175.4 84.0 172.0" stroke="#26848b"/>
<path d="M128.5 189.5Q98.4 182.8 68.5 190.5" stroke="#26848b"/>
<path d="M140.0 189.5Q114.1 174.0 84.0 172.0" stroke="#21918c"/>
<path d="M140.0 189.5Q119.8 181.2 98.0 183.0" stroke="#21918c"/>
<path d="M140.0 189.5Q141.5 177.7 137.5 166.5" stroke="#21918c"/>
<path d="M140.0 189.5Q104.1 181.4 68.5 190.5" stroke="#21918c"/>
<path d="M140.0 189.5Q104.1 181.4 68.5 190.5" stroke="#21918c"/>
<path d="M140.0 189.5Q116.2 208.4 103.5 236.0" stroke="#21918c"/>
<path d="M140.0 189.5Q119.6 171.1 93.0 164.0" stroke="#21918c"/>
<path d="M140.0 189.5Q131.4 174.5 117.0 165.0" stroke="#21918c"/>
<path d="M140.0 189.5Q135.6 175.9 125.5 165.8" stroke="#21918c"/>
<path d="M107.5 189.0Q87.8 185.1 68.5 190.5" stroke="#9dd549"/>
<path d="M107.5 189.0Q107.1 184.1 104.5 180.0" stroke="#9dd549"/>
<path d="M107.5 189.0Q87.8 185.1 68.5 190.5" stroke="#9dd549"/>
<path d="M107.5 189.0Q104.8 205.8 110.0 222.0" stroke="#9dd549"/>
<path d="M107.5 189.0Q97.8 177.7 84.0 172.0" stroke="#9dd549"/>
<path d="M107.5 189.0Q91.0 190.6 77.0 199.5" stroke="#9dd549"/>
<path d="M107.5 189.0Q87.8 185.1 68.5 190.5" stroke="#9dd549"/>
<path d="M107.5 189.0Q91.0 190.6 77.0 199.5" stroke="#9dd549"/>
<path d="M107.5 189.0Q107.1 184.1 104.5 180.0" stroke="#9dd549"/>
<path d="M96.5 203.0Q87.2 198.9 77.0 199.5" stroke="#5ec962"/>
<path d="M96.5 203.0Q84.0 193.4 68.5 190.5" stroke="#5ec962"/>
<path d="M96.5 203.0Q86.6 187.1 70.6 177.5" stroke="#5ec962"/>
<path d="M96.5 203.0Q94.0 186.0 84.0 172.0" stroke="#5ec962"/>
<path d="M96.5 203.0Q94.0 186.0 84.0 172.0" stroke="#5ec962"/>
<path d="M96.5 203.0Q94.0 186.0 84.0 172.0" stroke="#5ec962"/>
<path d="M96.5 203.0Q84.0 193.4 68.5 190.5" stroke="#5ec962"/>
<path d="M96.5 203.0Q84.0 193.4 68.5 190.5" stroke="#5ec962"/>
<path d="M96.5 203.0Q100.5 198.2 101.8 192.2" stroke="#5ec962"/>
<path d="M103.0 205.5Q100.0 203.5 96.5 203.0" stroke="#21918c"/>
<path d="M103.0 205.5Q87.5 193.9 68.5 190.5" stroke="#21918c"/>
<path d="M103.0 205.5Q86.9 198.9 69.6 200.4" stroke="#21918c"/>
<path d="M103.0 205.5Q103.2 193.7 98.0 183.0" stroke="#21918c"/>
<path d="M103.0 205.5Q97.5 186.5 84.0 172.0" stroke="#21918c"/>
<path d="M103.0 205.5Q104.5 214.6 110.0 222.0" stroke="#21918c"/>
<path d="M103.0 205.5Q117.7 200.6 128.5 189.5" stroke="#21918c"/>
<path d="M103.0 205.5Q87.5 193.9 68.5 190.5" stroke="#21918c"/>
<path d="M103.0 205.5Q86.0 203.8 70.0 210.0" stroke="#21918c"/>
<path d="M135.0 200.0Q109.8 201.6 88.0 214.5" stroke="#21918c"/>
<path d="M135.0 200.0Q102.9 187.3 68.5 190.5" stroke="#21918c"/>
<path d="M135.0 200.0Q105.5 181.0 70.6 177.5" stroke="#21918c"/>
<path d="M135.0 200.0Q102.9 187.3 68.5 190.5" stroke="#21918c"/>
<path d="M135.0 200.0Q102.9 187.3 68.5 190.5" stroke="#21918c"/>
<path d="M135.0 200.0Q109.8 201.6 88.0 214.5" stroke="#21918c"/>
<path d="M135.0 200.0Q92.0 173.3 41.5 169.0" stroke="#21918c"/>
<path d="M135.0 200.0Q133.0 194.0 128.5 189.5" stroke="#21918c"/>
<path d="M135.0 200.0Q119.1 202.5 106.0 212.0" stroke="#21918c"/>
<path d="M106.0 212.0Q93.0 202.3 77.0 199.5" stroke="#355e8b"/>
<path d="M106.0 212.0Q106.8 217.5 110.0 222.0" stroke="#355e8b"/>
<path d="M106.0 212.0Q96.7 211.1 88.0 214.5" stroke="#355e8b"/>
<path d="M106.0 212.0Q112.1 184.4 105.0 157.0" stroke="#355e8b"/>
<path d="M106.0 212.0Q109.1 195.8 104.5 180.0" stroke="#355e8b"/>
<path d="M106.0 212.0Q89.3 182.6 61.0 164.0" stroke="#355e8b"/>
<path d="M106.0 212.0Q112.1 184.4 105.0 157.0" stroke="#355e8b"/>
<path d="M106.0 212.0Q96.7 211.1 88.0 214.5" stroke="#355e8b"/>
<path d="M106.0 212.0Q92.4 190.5 70.6 177.5" stroke="#355e8b"/>
<path d="M130.0 212.0Q108.7 208.2 88.0 214.5" stroke="#21918c"/>
<path d="M130.0 212.0Q101.8 193.9 68.5 190.5" stroke="#21918c"/>
<path d="M130.0 212.0Q104.4 187.6 70.6 177.5" stroke="#21918c"/>
<path d="M130.0 212.0Q117.3 205.5 103.0 205.5" stroke="#21918c"/>
<path d="M130.0 212.0Q118.0 209.1 106.0 212.0" stroke="#21918c"/>
<path d="M130.0 212.0Q138.6 215.9 148.0 215.5" stroke="#21918c"/>
<path d="M130.0 212.0Q90.9 179.9 41.5 169.0" stroke="#21918c"/>
<path d="M130.0 212.0Q101.8 193.9 68.5 190.5" stroke="#21918c"/>
<path d="M130.0 212.0Q105.0 199.4 77.0 199.5" stroke="#21918c"/>
<path d="M110.0 222.0Q96.2 206.8 77.0 199.5" stroke="#2d9c83"/>
<path d="M110.0 222.0Q98.6 227.7 91.0 238.0" stroke="#2d9c83"/>
<path d="M110.0 222.0Q98.6 227.7 91.0 238.0" stroke="#2d9c83"/>
<path d="M110.0 222.0Q93.0 201.3 68.5 190.5" stroke="#2d9c83"/>
<path d="M110.0 222.0Q105.1 228.2 103.5 236.0" stroke="#2d9c83"/>
<path d="M110.0 222.0Q104.2 206.3 92.0 195.0" stroke="#2d9c83"/>
<path d="M110.0 222.0Q93.0 201.3 68.5 190.5" stroke="#2d9c83"/>
<path d="M110.0 222.0Q93.0 201.3 68.5 190.5" stroke="#2d9c83"/>
<path d="M110.0 222.0Q108.5 212.9 103.0 205.5" stroke="#2d9c83"/>
<path d="M85.0 226.0Q91.6 227.3 98.0 225.5" stroke="#21918c"/>
<path d="M85.0 226.0Q93.0 233.2 103.5 236.0" stroke="#21918c"/>
<path d="M85.0 226.0Q75.9 237.6 73.0 252.0" stroke="#21918c"/>
<path d="M85.0 226.0Q83.6 200.0 70.6 177.5" stroke="#21918c"/>
<path d="M85.0 226.0Q83.6 200.0 70.6 177.5" stroke="#21918c"/>
<path d="M85.0 226.0Q70.1 192.3 41.5 169.0" stroke="#21918c"/>
<path d="M85.0 226.0Q80.4 192.1 61.0 164.0" stroke="#21918c"/>
<path d="M85.0 226.0Q93.5 215.9 96.5 203.0" stroke="#21918c"/>
<path d="M98.0 225.5Q94.3 218.8 88.0 214.5" stroke="#21918c"/>
<path d="M98.0 225.5Q87.5 204.5 68.5 190.5" stroke="#21918c"/>
<path d="M98.0 225.5Q94.3 218.8 88.0 214.5" stroke="#21918c"/>
<path d="M98.0 225.5Q109.7 192.1 105.0 157.0" stroke="#21918c"/>
<path d="M98.0 225.5Q90.1 198.2 70.6 177.5" stroke="#21918c"/>
<path d="M98.0 225.5Q83.6 223.6 69.9 228.5" stroke="#21918c"/>
<path d="M98.0 225.5Q77.2 183.5 39.5 155.5" stroke="#21918c"/>
<path d="M98.0 225.5Q87.5 204.5 68.5 190.5" stroke="#21918c"/>
<path d="M98.0 225.5Q103.1 204.2 98.0 183.0" stroke="#21918c"/>
<path d="M128.5 232.5Q103.0 190.2 61.0 164.0" stroke="#9dd549"/>
<path d="M128.5 232.5Q113.5 196.9 84.0 172.0" stroke="#9dd549"/>
<path d="M128.5 232.5Q103.0 190.2 61.0 164.0" stroke="#9dd549"/>
<path d="M128.5 232.5Q113.5 196.9 84.0 172.0" stroke="#9dd549"/>
<path d="M128.5 232.5Q140.3 226.3 148.0 215.5" stroke="#9dd549"/>
<path d="M128.5 232.5Q111.1 236.5 97.5 248.0" stroke="#9dd549"/>
<path d="M128.5 232.5Q102.0 214.2 70.0 210.0" stroke="#9dd549"/>
<path d="M128.5 232.5Q131.7 222.4 130.0 212.0" stroke="#9dd549"/>
<path d="M133.5 232.5Q112.9 218.0 88.0 214.5" stroke="#51bd6a"/>
<path d="M133.5 232.5Q109.2 209.2 77.0 199.5" stroke="#51bd6a"/>
<path d="M133.5 232.5Q104.5 213.6 70.0 210.0" stroke="#51bd6a"/>
<path d="M133.5 232.5Q106.0 203.7 68.5 190.5" stroke="#51bd6a"/>
<path d="M133.5 232.5Q128.3 191.3 105.0 157.0" stroke="#51bd6a"/>
<path d="M133.5 232.5Q105.5 189.6 61.0 164.0" stroke="#51bd6a"/>
<path d="M133.5 232.5Q116.0 196.3 84.0 172.0" stroke="#51bd6a"/>
<path d="M133.5 232.5Q112.9 218.0 88.0 214.5" stroke="#51bd6a"/>
<path d="M103.5 236.0Q107.1 208.8 98.0 183.0" stroke="#37598b"/>
<path d="M103.5 236.0Q91.5 209.1 68.5 190.5" stroke="#37598b"/>
<path d="M103.5 236.0Q98.3 223.4 88.0 214.5" stroke="#37598b"/>
<path d="M103.5 236.0Q81.2 188.1 39.5 155.5" stroke="#37598b"/>
<path d="M103.5 236.0Q121.6 215.8 128.5 189.5" stroke="#37598b"/>
<path d="M103.5 236.0Q118.9 237.8 133.5 232.5" stroke="#37598b"/>
<path d="M103.5 236.0Q108.4 229.8 110.0 222.0" stroke="#37598b"/>
<path d="M103.5 236.0Q91.5 209.1 68.5 190.5" stroke="#37598b"/>
<path d="M103.5 236.0Q121.6 215.8 128.5 189.5" stroke="#37598b"/>
<path d="M103.5 236.0Q116.4 237.2 128.5 232.5" stroke="#37598b"/>
<path d="M91.0 238.0Q93.0 243.8 97.5 248.0" stroke="#3b528b"/>
<path d="M91.0 238.0Q84.9 197.4 61.0 164.0" stroke="#3b528b"/>
<path d="M91.0 238.0Q83.9 221.5 70.0 210.0" stroke="#3b528b"/>
<path d="M91.0 238.0Q88.6 217.1 77.0 199.5" stroke="#3b528b"/>
<path d="M91.0 238.0Q107.7 199.2 105.0 157.0" stroke="#3b528b"/>
<path d="M91.0 238.0Q85.5 211.6 68.5 190.5" stroke="#3b528b"/>
<path d="M91.0 238.0Q96.0 232.6 98.0 225.5" stroke="#3b528b"/>
<path d="M91.0 238.0Q93.0 243.8 97.5 248.0" stroke="#3b528b"/>
<path d="M76.5 238.0Q88.8 234.3 98.0 225.5" stroke="#21918c"/>
<path d="M76.5 238.0Q62.5 231.5 47.0 232.0" stroke="#21918c"/>
<path d="M76.5 238.0Q100.5 200.9 105.0 157.0" stroke="#21918c"/>
<path d="M76.5 238.0Q90.2 240.2 103.5 236.0" stroke="#21918c"/>
<path d="M76.5 238.0Q74.0 224.8 65.8 214.3" stroke="#21918c"/>
<path d="M76.5 238.0Q72.5 227.2 64.0 219.5" stroke="#21918c"/>
<path d="M76.5 238.0Q88.2 205.9 84.0 172.0" stroke="#21918c"/>
<path d="M76.5 238.0Q100.5 200.9 105.0 157.0" stroke="#21918c"/>
<path d="M97.5 248.0Q99.9 208.4 84.0 172.0" stroke="#26848b"/>
<path d="M97.5 248.0Q93.9 235.5 85.0 226.0" stroke="#26848b"/>
<path d="M97.5 248.0Q88.3 225.7 70.0 210.0" stroke="#26848b"/>
<path d="M97.5 248.0Q89.9 215.8 68.5 190.5" stroke="#26848b"/>
<path d="M97.5 248.0Q105.3 205.5 93.0 164.0" stroke="#26848b"/>
<path d="M97.5 248.0Q99.9 208.4 84.0 172.0" stroke="#26848b"/>
<path d="M97.5 248.0Q84.8 247.1 73.0 252.0" stroke="#26848b"/>
<path d="M97.5 248.0Q106.9 236.5 110.0 222.0" stroke="#26848b"/>
<path d="M73.0 252.0Q85.0 235.1 88.0 214.5" stroke="#355e8b"/>
<path d="M73.0 252.0Q77.6 206.6 61.0 164.0" stroke="#355e8b"/>
<path d="M73.0 252.0Q80.7 214.5 70.6 177.5" stroke="#355e8b"/>
<path d="M73.0 252.0Q62.4 238.9 47.0 232.0" stroke="#355e8b"/>
<path d="M73.0 252.0Q77.6 206.6 61.0 164.0" stroke="#355e8b"/>
<path d="M73.0 252.0Q76.4 245.4 76.5 238.0" stroke="#355e8b"/>
<path d="M73.0 252.0Q88.1 213.3 84.0 172.0" stroke="#355e8b"/>
<path d="M73.0 252.0Q85.7 252.9 97.5 248.0" stroke="#355e8b"/>
<path d="M67.3 130.7Q70.7 153.4 84.0 172.0" stroke="#9dd549"/>
<path d="M67.3 130.7Q73.3 143.9 84.6 153.0" stroke="#9dd549"/>
<path d="M67.3 130.7Q59.1 170.7 70.0 210.0" stroke="#9dd549"/>
<path d="M67.3 130.7Q63.9 166.3 77.0 199.5" stroke="#9dd549"/>
<path d="M67.3 130.7Q63.9 166.3 77.0 199.5" stroke="#9dd549"/>
<path d="M67.3 130.7Q73.3 143.9 84.6 153.0" stroke="#9dd549"/>
<path d="M67.3 130.7Q69.1 136.8 73.5 141.5" stroke="#9dd549"/>
<path d="M67.3 130.7Q88.9 178.9 130.0 212.0" stroke="#9dd549"/>
<path d="M67.3 130.7Q67.6 175.1 88.0 214.5" stroke="#9dd549"/>
<path d="M81.5 130.0Q67.2 144.5 61.0 164.0" stroke="#21918c"/>
<path d="M81.5 130.0Q76.1 134.8 73.5 141.5" stroke="#21918c"/>
<path d="M81.5 130.0Q57.4 137.7 39.5 155.5" stroke="#21918c"/>
<path d="M81.5 130.0Q71.1 138.2 65.5 150.3" stroke="#21918c"/>
<path d="M81.5 130.0Q71.7 118.9 58.0 113.5" stroke="#21918c"/>
<path d="M81.5 130.0Q70.9 164.2 77.0 199.5" stroke="#21918c"/>
<path d="M81.5 130.0Q70.3 152.4 70.6 177.5" stroke="#21918c"/>
<path d="M81.5 130.0Q87.0 157.8 104.5 180.0" stroke="#21918c"/>
<path d="M95.0 128.5Q77.5 161.8 77.0 199.5" stroke="#dde131"/>
<path d="M95.0 128.5Q76.9 150.1 70.6 177.5" stroke="#dde131"/>
<path d="M95.0 128.5Q73.7 142.2 61.0 164.0" stroke="#dde131"/>
<path d="M95.0 128.5Q84.3 148.9 84.0 172.0" stroke="#dde131"/>
<path d="M95.0 128.5Q74.3 156.3 68.5 190.5" stroke="#dde131"/>
<path d="M95.0 128.5Q64.0 135.3 39.5 155.5" stroke="#dde131"/>
<path d="M95.0 128.5Q74.3 156.3 68.5 190.5" stroke="#dde131"/>
<path d="M95.0 128.5Q91.0 140.8 93.0 153.5" stroke="#dde131"/>
<path d="M73.5 141.5Q68.5 144.9 65.5 150.3" stroke="#21918c"/>
<path d="M73.5 141.5Q75.1 158.0 84.0 172.0" stroke="#21918c"/>
<path d="M73.5 141.5Q82.2 148.6 93.1 151.0" stroke="#21918c"/>
<path d="M73.5 141.5Q72.0 179.7 88.0 214.5" stroke="#21918c"/>
<path d="M73.5 141.5Q80.8 165.2 98.0 183.0" stroke="#21918c"/>
<path d="M73.5 141.5Q65.9 145.8 61.0 153.0" stroke="#21918c"/>
<path d="M73.5 141.5Q72.0 179.7 88.0 214.5" stroke="#21918c"/>
<path d="M73.5 141.5Q80.3 142.9 87.0 141.0" stroke="#21918c"/>
<path d="M103.0 143.0Q108.3 149.6 116.0 153.0" stroke="#2d9c83"/>
<path d="M103.0 143.0Q99.3 161.7 104.5 180.0" stroke="#2d9c83"/>
<path d="M103.0 143.0Q69.1 148.6 41.5 169.0" stroke="#2d9c83"/>
<path d="M103.0 143.0Q83.2 168.1 77.0 199.5" stroke="#2d9c83"/>
<path d="M103.0 143.0Q91.6 144.2 82.0 150.5" stroke="#2d9c83"/>
<path d="M103.0 143.0Q80.0 162.6 68.5 190.5" stroke="#2d9c83"/>
<path d="M103.0 143.0Q103.8 157.2 111.0 169.5" stroke="#2d9c83"/>
<path d="M103.0 143.0Q80.0 162.6 68.5 190.5" stroke="#2d9c83"/>
<path d="M112.0 141.0Q91.2 174.9 88.0 214.5" stroke="#3c4884"/>
<path d="M112.0 141.0Q101.3 143.7 93.1 151.0" stroke="#3c4884"/>
<path d="M112.0 141.0Q94.3 153.1 84.0 172.0" stroke="#3c4884"/>
<path d="M112.0 141.0Q94.3 153.1 84.0 172.0" stroke="#3c4884"/>
<path d="M112.0 141.0Q94.3 153.1 84.0 172.0" stroke="#3c4884"/>
<path d="M112.0 141.0Q111.6 153.6 117.0 165.0" stroke="#3c4884"/>
<path d="M112.0 141.0Q95.9 142.2 82.0 150.5" stroke="#3c4884"/>
<path d="M112.0 141.0Q74.0 139.6 39.5 155.5" stroke="#3c4884"/>
<path d="M126.0 139.0Q111.8 130.0 95.0 128.5" stroke="#306b8b"/>
<path d="M126.0 139.0Q112.4 150.7 105.5 167.2" stroke="#306b8b"/>
<path d="M126.0 139.0Q101.0 150.5 84.0 172.0" stroke="#306b8b"/>
<path d="M126.0 139.0Q110.3 156.9 104.5 180.0" stroke="#306b8b"/>
<path d="M126.0 139.0Q91.1 157.8 68.5 190.5" stroke="#306b8b"/>
<path d="M126.0 139.0Q97.9 172.2 88.0 214.5" stroke="#306b8b"/>
<path d="M126.0 139.0Q110.3 156.9 104.5 180.0" stroke="#306b8b"/>
<path d="M126.0 139.0Q91.1 157.8 68.5 190.5" stroke="#306b8b"/>
<path d="M82.0 150.5Q87.5 152.1 93.1 151.0" stroke="#dde131"/>
<path d="M82.0 150.5Q80.4 161.5 84.0 172.0" stroke="#dde131"/>
<path d="M82.0 150.5Q80.4 161.5 84.0 172.0" stroke="#dde131"/>
<path d="M82.0 150.5Q77.3 183.2 88.0 214.5" stroke="#dde131"/>
<path d="M82.0 150.5Q60.1 147.9 39.5 155.5" stroke="#dde131"/>
<path d="M82.0 150.5Q93.4 149.3 103.0 143.0" stroke="#dde131"/>
<path d="M82.0 150.5Q77.3 183.2 88.0 214.5" stroke="#dde131"/>
<path d="M82.0 150.5Q77.3 183.2 88.0 214.5" stroke="#dde131"/>
<path d="M82.0 150.5Q69.9 154.7 61.0 164.0" stroke="#dde131"/>
<path d="M93.0 153.5Q86.3 161.7 84.0 172.0" stroke="#21918c"/>
<path d="M93.0 153.5Q78.9 162.8 70.6 177.5" stroke="#21918c"/>
<path d="M93.0 153.5Q78.9 162.8 70.6 177.5" stroke="#21918c"/>
<path d="M93.0 153.5Q87.9 150.7 82.0 150.5" stroke="#21918c"/>
<path d="M93.0 153.5Q104.5 187.2 130.0 212.0" stroke="#21918c"/>
<path d="M93.0 153.5Q66.0 148.1 39.5 155.5" stroke="#21918c"/>
<path d="M93.0 153.5Q66.0 148.1 39.5 155.5" stroke="#21918c"/>
<path d="M93.0 153.5Q88.3 196.0 103.5 236.0" stroke="#21918c"/>
<path d="M116.0 153.0Q108.4 138.2 95.0 128.5" stroke="#dde131"/>
<path d="M116.0 153.0Q104.4 150.5 93.0 153.5" stroke="#dde131"/>
<path d="M116.0 153.0Q90.9 171.6 77.0 199.5" stroke="#dde131"/>
<path d="M116.0 153.0Q94.6 180.4 88.0 214.5" stroke="#dde131"/>
<path d="M116.0 153.0Q90.9 171.6 77.0 199.5" stroke="#dde131"/>
<path d="M116.0 153.0Q97.7 158.7 84.0 172.0" stroke="#dde131"/>
<path d="M116.0 153.0Q97.7 158.7 84.0 172.0" stroke="#dde131"/>
<path d="M116.0 153.0Q97.7 158.7 84.0 172.0" stroke="#dde131"/>
<path d="M138.0 153.0Q98.8 163.4 68.5 190.5" stroke="#dde131"/>
<path d="M138.0 153.0Q98.8 163.4 68.5 190.5" stroke="#dde131"/>
<path d="M138.0 153.0Q101.4 157.2 70.6 177.5" stroke="#dde131"/>
<path d="M138.0 153.0Q108.7 156.0 84.0 172.0" stroke="#dde131"/>
<path d="M138.0 153.0Q101.9 168.9 77.0 199.5" stroke="#dde131"/>
<path d="M138.0 153.0Q128.9 170.1 128.5 189.5" stroke="#dde131"/>
<path d="M138.0 153.0Q127.0 150.4 116.0 153.0" stroke="#dde131"/>
<path d="M138.0 153.0Q101.9 168.9 77.0 199.5" stroke="#dde131"/>
<path d="M117.0 165.0Q89.1 157.8 61.0 164.0" stroke="#bddb3d"/>
<path d="M117.0 165.0Q119.4 172.5 125.0 178.0" stroke="#bddb3d"/>
<path d="M117.0 165.0Q99.7 164.5 84.0 172.0" stroke="#bddb3d"/>
<path d="M117.0 165.0Q105.3 171.7 98.0 183.0" stroke="#bddb3d"/>
<path d="M117.0 165.0Q89.7 171.9 68.5 190.5" stroke="#bddb3d"/>
<path d="M117.0 165.0Q106.7 155.1 93.1 151.0" stroke="#bddb3d"/>
<path d="M117.0 165.0Q105.6 154.9 91.0 151.1" stroke="#bddb3d"/>
<path d="M117.0 165.0Q129.3 174.3 144.5 177.0" stroke="#bddb3d"/>
<path d="M137.5 166.5Q107.0 184.6 88.0 214.5" stroke="#26848b"/>
<path d="M137.5 166.5Q100.1 170.2 68.5 190.5" stroke="#26848b"/>
<path d="M137.5 166.5Q100.1 170.2 68.5 190.5" stroke="#26848b"/>
<path d="M137.5 166.5Q132.2 182.9 135.0 200.0" stroke="#26848b"/>
<path d="M137.5 166.5Q139.7 172.6 144.5 177.0" stroke="#26848b"/>
<path d="M137.5 166.5Q122.4 157.8 105.0 157.0" stroke="#26848b"/>
<path d="M137.5 166.5Q99.5 156.1 61.0 164.0" stroke="#26848b"/>
<path d="M137.5 166.5Q110.1 162.8 84.0 172.0" stroke="#26848b"/>
<path d="M137.5 166.5Q100.1 170.2 68.5 190.5" stroke="#26848b"/>
<path d="M125.0 178.0Q127.4 190.2 135.0 200.0" stroke="#21918c"/>
<path d="M125.0 178.0Q95.2 177.5 68.5 190.5" stroke="#21918c"/>
<path d="M125.0 178.0Q102.1 191.8 88.0 214.5" stroke="#21918c"/>
<path d="M125.0 178.0Q84.3 163.5 41.5 169.0" stroke="#21918c"/>
<path d="M125.0 178.0Q97.9 171.2 70.6 177.5" stroke="#21918c"/>
<path d="M125.0 178.0Q95.2 177.5 68.5 190.5" stroke="#21918c"/>
<path d="M125.0 178.0Q93.7 187.4 70.0 210.0" stroke="#21918c"/>
<path d="M125.0 178.0Q102.1 191.8 88.0 214.5" stroke="#21918c"/>
<path d="M144.5 177.0Q104.9 174.6 68.5 190.5" stroke="#306b8b"/>
<path d="M144.5 177.0Q120.3 164.3 93.0 164.0" stroke="#306b8b"/>
<path d="M144.5 177.0Q142.3 170.9 137.5 166.5" stroke="#306b8b"/>
<path d="M144.5 177.0Q142.3 170.9 137.5 166.5" stroke="#306b8b"/>
<path d="M144.5 177.0Q128.7 169.2 111.0 169.5" stroke="#306b8b"/>
<path d="M144.5 177.0Q124.1 173.7 104.5 180.0" stroke="#306b8b"/>
<path d="M144.5 177.0Q140.8 182.7 140.0 189.5" stroke="#306b8b"/>
<path d="M144.5 177.0Q108.0 180.2 77.0 199.5" stroke="#306b8b"/>
<path d="M42.5 136.0Q55.5 136.3 67.3 130.7" stroke="#21918c"/>
<path d="M42.5 136.0Q58.9 159.0 84.0 172.0" stroke="#21918c"/>
<path d="M42.5 136.0Q49.0 166.4 68.5 190.5" stroke="#21918c"/>
<path d="M42.5 136.0Q51.6 160.1 70.6 177.5" stroke="#21918c"/>
<path d="M42.5 136.0Q55.5 136.3 67.3 130.7" stroke="#21918c"/>
<path d="M42.5 136.0Q58.9 159.0 84.0 172.0" stroke="#21918c"/>
<path d="M42.5 136.0Q71.2 154.0 105.0 157.0" stroke="#21918c"/>
<path d="M42.5 136.0Q38.7 145.4 39.5 155.5" stroke="#21918c"/>
<path d="M59.5 141.5Q88.2 173.8 128.5 189.5" stroke="#bddb3d"/>
<path d="M59.5 141.5Q56.5 177.0 70.0 210.0" stroke="#bddb3d"/>
<path d="M59.5 141.5Q57.5 152.9 61.0 164.0" stroke="#bddb3d"/>
<path d="M59.5 141.5Q58.1 167.1 68.5 190.5" stroke="#bddb3d"/>
<path d="M59.5 141.5Q70.2 194.0 103.5 236.0" stroke="#bddb3d"/>
<path d="M59.5 141.5Q68.1 159.7 84.0 172.0" stroke="#bddb3d"/>
<path d="M59.5 141.5Q47.2 153.1 41.5 169.0" stroke="#bddb3d"/>
<path d="M59.5 141.5Q47.2 153.1 41.5 169.0" stroke="#bddb3d"/>
<path d="M61.0 153.0Q88.4 190.8 130.0 212.0" stroke="#21918c"/>
<path d="M61.0 153.0Q88.4 190.8 130.0 212.0" stroke="#21918c"/>
<path d="M61.0 153.0Q63.4 178.2 77.0 199.5" stroke="#21918c"/>
<path d="M61.0 153.0Q66.3 154.0 71.5 152.5" stroke="#21918c"/>
<path d="M61.0 153.0Q66.3 154.0 71.5 152.5" stroke="#21918c"/>
<path d="M61.0 153.0Q50.0 151.7 39.5 155.5" stroke="#21918c"/>
<path d="M61.0 153.0Q59.7 158.5 61.0 164.0" stroke="#21918c"/>
<path d="M61.0 153.0Q71.8 154.3 82.0 150.5" stroke="#21918c"/>
<path d="M71.5 152.5Q60.7 161.3 55.0 174.0" stroke="#21918c"/>
<path d="M71.5 152.5Q68.0 164.9 70.6 177.5" stroke="#21918c"/>
<path d="M71.5 152.5Q68.6 176.7 77.0 199.5" stroke="#21918c"/>
<path d="M71.5 152.5Q75.4 163.8 84.0 172.0" stroke="#21918c"/>
<path d="M71.5 152.5Q77.5 198.1 103.5 236.0" stroke="#21918c"/>
<path d="M71.5 152.5Q72.0 141.1 67.3 130.7" stroke="#21918c"/>
<path d="M71.5 152.5Q72.3 185.5 88.0 214.5" stroke="#21918c"/>
<path d="M71.5 152.5Q65.4 171.1 68.5 190.5" stroke="#21918c"/>
<path d="M22.0 151.0Q68.7 194.5 130.0 212.0" stroke="#7dcf55"/>
<path d="M22.0 151.0Q50.5 168.9 84.0 172.0" stroke="#7dcf55"/>
<path d="M22.0 151.0Q40.5 176.3 68.5 190.5" stroke="#7dcf55"/>
<path d="M22.0 151.0Q30.2 155.3 39.5 155.5" stroke="#7dcf55"/>
<path d="M22.0 151.0Q31.6 158.6 43.5 160.9" stroke="#7dcf55"/>
<path d="M22.0 151.0Q40.5 176.3 68.5 190.5" stroke="#7dcf55"/>
<path d="M22.0 151.0Q40.5 176.3 68.5 190.5" stroke="#7dcf55"/>
<path d="M22.0 151.0Q40.5 176.3 68.5 190.5" stroke="#7dcf55"/>
<path d="M28.5 163.5Q27.9 175.8 33.0 187.0" stroke="#21918c"/>
<path d="M28.5 163.5Q55.2 174.4 84.0 172.0" stroke="#21918c"/>
<path d="M28.5 163.5Q44.7 167.7 61.0 164.0" stroke="#21918c"/>
<path d="M28.5 163.5Q73.4 199.9 130.0 212.0" stroke="#21918c"/>
<path d="M28.5 163.5Q19.4 178.5 18.0 196.0" stroke="#21918c"/>
<path d="M28.5 163.5Q45.3 181.8 68.5 190.5" stroke="#21918c"/>
<path d="M28.5 163.5Q47.9 175.6 70.6 177.5" stroke="#21918c"/>
<path d="M28.5 163.5Q46.0 162.2 61.0 153.0" stroke="#21918c"/>
<path d="M14.5 170.0Q27.6 176.5 42.3 176.4" stroke="#21918c"/>
<path d="M14.5 170.0Q20.5 161.4 22.0 151.0" stroke="#21918c"/>
<path d="M14.5 170.0Q41.6 180.5 70.6 177.5" stroke="#21918c"/>
<path d="M14.5 170.0Q13.1 183.4 18.0 196.0" stroke="#21918c"/>
<path d="M14.5 170.0Q49.0 179.3 84.0 172.0" stroke="#21918c"/>
<path d="M14.5 170.0Q39.0 186.7 68.5 190.5" stroke="#21918c"/>
<path d="M14.5 170.0Q49.0 179.3 84.0 172.0" stroke="#21918c"/>
<path d="M14.5 170.0Q61.3 174.4 105.0 157.0" stroke="#21918c"/>
<path d="M55.0 174.0Q58.8 183.2 66.3 189.7" stroke="#3b528b"/>
<path d="M55.0 174.0Q69.7 176.5 84.0 172.0" stroke="#3b528b"/>
<path d="M55.0 174.0Q62.9 189.4 77.0 199.5" stroke="#3b528b"/>
<path d="M55.0 174.0Q59.8 183.9 68.5 190.5" stroke="#3b528b"/>
<path d="M55.0 174.0Q59.8 183.9 68.5 190.5" stroke="#3b528b"/>
<path d="M55.0 174.0Q62.9 189.4 77.0 199.5" stroke="#3b528b"/>
<path d="M55.0 174.0Q43.4 174.2 33.1 179.7" stroke="#3b528b"/>
<path d="M55.0 174.0Q46.5 187.6 45.0 203.5" stroke="#3b528b"/>
<path d="M21.0 181.0Q59.0 181.1 93.0 164.0" stroke="#bddb3d"/>
<path d="M21.0 181.0Q53.6 184.1 84.0 172.0" stroke="#bddb3d"/>
<path d="M21.0 181.0Q43.6 191.4 68.5 190.5" stroke="#bddb3d"/>
<path d="M21.0 181.0Q43.0 177.3 61.0 164.0" stroke="#bddb3d"/>
<path d="M21.0 181.0Q43.6 191.4 68.5 190.5" stroke="#bddb3d"/>
<path d="M21.0 181.0Q34.7 173.7 43.5 160.9" stroke="#bddb3d"/>
<path d="M21.0 181.0Q43.6 191.4 68.5 190.5" stroke="#bddb3d"/>
<path d="M21.0 181.0Q43.6 191.4 68.5 190.5" stroke="#bddb3d"/>
<path d="M37.5 180.0Q67.2 178.7 93.0 164.0" stroke="#21918c"/>
<path d="M37.5 180.0Q44.3 191.2 55.5 198.0" stroke="#21918c"/>
<path d="M37.5 180.0Q51.7 189.0 68.5 190.5" stroke="#21918c"/>
<path d="M37.5 180.0Q36.2 189.8 39.5 199.1" stroke="#21918c"/>
<path d="M37.5 180.0Q47.0 179.1 55.0 174.0" stroke="#21918c"/>
<path d="M37.5 180.0Q41.4 168.0 39.5 155.5" stroke="#21918c"/>
<path d="M37.5 180.0Q51.7 189.0 68.5 190.5" stroke="#21918c"/>
<path d="M37.5 180.0Q51.2 174.8 61.0 164.0" stroke="#21918c"/>
<path d="M64.0 181.0Q65.1 186.3 68.5 190.5" stroke="#bddb3d"/>
<path d="M64.0 181.0Q75.1 178.9 84.0 172.0" stroke="#bddb3d"/>
<path d="M64.0 181.0Q64.5 172.1 61.0 164.0" stroke="#bddb3d"/>
<path d="M64.0 181.0Q75.1 178.9 84.0 172.0" stroke="#bddb3d"/>
<path d="M64.0 181.0Q64.5 172.1 61.0 164.0" stroke="#bddb3d"/>
<path d="M64.0 181.0Q71.2 167.7 71.5 152.5" stroke="#bddb3d"/>
<path d="M64.0 181.0Q63.5 196.2 70.0 210.0" stroke="#bddb3d"/>
<path d="M64.0 181.0Q75.1 178.9 84.0 172.0" stroke="#bddb3d"/>
<path d="M33.0 187.0Q78.5 211.1 130.0 212.0" stroke="#21918c"/>
<path d="M33.0 187.0Q29.6 198.6 31.9 210.4" stroke="#21918c"/>
<path d="M33.0 187.0Q60.3 185.6 84.0 172.0" stroke="#21918c"/>
<path d="M33.0 187.0Q45.6 183.1 55.0 174.0" stroke="#21918c"/>
<path d="M33.0 187.0Q60.3 185.6 84.0 172.0" stroke="#21918c"/>
<path d="M33.0 187.0Q40.0 172.0 39.5 155.5" stroke="#21918c"/>
<path d="M33.0 187.0Q49.8 178.9 61.0 164.0" stroke="#21918c"/>
<path d="M33.0 187.0Q41.3 202.1 55.6 211.8" stroke="#21918c"/>
<path d="M45.0 191.0Q68.8 220.5 103.5 236.0" stroke="#21918c"/>
<path d="M45.0 191.0Q68.8 220.5 103.5 236.0" stroke="#21918c"/>
<path d="M45.0 191.0Q51.2 201.1 61.3 207.2" stroke="#21918c"/>
<path d="M45.0 191.0Q45.9 179.6 41.5 169.0" stroke="#21918c"/>
<path d="M45.0 191.0Q46.5 172.6 39.5 155.5" stroke="#21918c"/>
<path d="M45.0 191.0Q59.4 187.3 70.6 177.5" stroke="#21918c"/>
<path d="M45.0 191.0Q43.5 197.2 45.0 203.5" stroke="#21918c"/>
<path d="M45.0 191.0Q56.8 193.6 68.5 190.5" stroke="#21918c"/>
<path d="M18.0 196.0Q33.0 185.3 41.5 169.0" stroke="#21918c"/>
<path d="M18.0 196.0Q22.0 212.3 33.0 225.0" stroke="#21918c"/>
<path d="M18.0 196.0Q26.6 193.3 33.0 187.0" stroke="#21918c"/>
<path d="M18.0 196.0Q43.9 199.3 68.5 190.5" stroke="#21918c"/>
<path d="M18.0 196.0Q43.9 199.3 68.5 190.5" stroke="#21918c"/>
<path d="M18.0 196.0Q33.6 178.3 39.5 155.5" stroke="#21918c"/>
<path d="M18.0 196.0Q47.1 204.8 77.0 199.5" stroke="#21918c"/>
<path d="M18.0 196.0Q53.9 191.9 84.0 172.0" stroke="#21918c"/>
<path d="M55.5 198.0Q57.2 209.8 64.0 219.5" stroke="#21918c"/>
<path d="M55.5 198.0Q62.3 181.7 61.0 164.0" stroke="#21918c"/>
<path d="M55.5 198.0Q72.9 188.4 84.0 172.0" stroke="#21918c"/>
<path d="M55.5 198.0Q57.2 209.8 64.0 219.5" stroke="#21918c"/>
<path d="M55.5 198.0Q62.3 181.7 61.0 164.0" stroke="#21918c"/>
<path d="M55.5 198.0Q66.1 201.3 77.0 199.5" stroke="#21918c"/>
<path d="M55.5 198.0Q62.3 181.7 61.0 164.0" stroke="#21918c"/>
<path d="M55.5 198.0Q52.6 202.9 52.3 208.6" stroke="#21918c"/>
<path d="M31.5 203.5Q67.2 201.2 98.0 183.0" stroke="#bddb3d"/>
<path d="M31.5 203.5Q34.2 195.4 33.0 187.0" stroke="#bddb3d"/>
<path d="M31.5 203.5Q61.5 194.1 84.0 172.0" stroke="#bddb3d"/>
<path d="M31.5 203.5Q73.8 189.1 105.0 157.0" stroke="#bddb3d"/>
<path d="M31.5 203.5Q35.4 198.5 36.7 192.2" stroke="#bddb3d"/>
<path d="M31.5 203.5Q54.2 195.2 70.6 177.5" stroke="#bddb3d"/>
<path d="M31.5 203.5Q61.5 194.1 84.0 172.0" stroke="#bddb3d"/>
<path d="M31.5 203.5Q38.4 198.7 42.4 191.3" stroke="#bddb3d"/>
<path d="M45.0 203.5Q61.5 205.3 77.0 199.5" stroke="#21918c"/>
<path d="M45.0 203.5Q68.3 192.4 84.0 172.0" stroke="#21918c"/>
<path d="M45.0 203.5Q65.2 214.2 88.0 214.5" stroke="#21918c"/>
<path d="M45.0 203.5Q58.3 199.8 68.5 190.5" stroke="#21918c"/>
<path d="M45.0 203.5Q58.3 199.8 68.5 190.5" stroke="#21918c"/>
<path d="M45.0 203.5Q41.0 193.8 33.0 187.0" stroke="#21918c"/>
<path d="M45.0 203.5Q65.2 214.2 88.0 214.5" stroke="#21918c"/>
<path d="M45.0 203.5Q56.7 209.8 70.0 210.0" stroke="#21918c"/>
<path d="M60.0 209.5Q45.8 206.6 31.9 210.4" stroke="#3b528b"/>
<path d="M60.0 209.5Q69.1 194.8 70.6 177.5" stroke="#3b528b"/>
<path d="M60.0 209.5Q66.5 201.0 68.5 190.5" stroke="#3b528b"/>
<path d="M60.0 209.5Q66.5 201.0 68.5 190.5" stroke="#3b528b"/>
<path d="M60.0 209.5Q70.5 220.8 85.0 226.0" stroke="#3b528b"/>
<path d="M60.0 209.5Q66.5 201.0 68.5 190.5" stroke="#3b528b"/>
<path d="M60.0 209.5Q55.6 187.0 41.5 169.0" stroke="#3b528b"/>
<path d="M60.0 209.5Q55.6 187.0 41.5 169.0" stroke="#3b528b"/>
<path d="M23.0 213.0Q51.6 212.7 77.0 199.5" stroke="#bddb3d"/>
<path d="M23.0 213.0Q31.4 206.6 35.9 197.0" stroke="#bddb3d"/>
<path d="M23.0 213.0Q58.4 199.8 84.0 172.0" stroke="#bddb3d"/>
<path d="M23.0 213.0Q48.5 207.2 68.5 190.5" stroke="#bddb3d"/>
<path d="M23.0 213.0Q58.4 199.8 84.0 172.0" stroke="#bddb3d"/>
<path d="M23.0 213.0Q60.5 234.2 103.5 236.0" stroke="#bddb3d"/>
<path d="M23.0 213.0Q58.4 199.8 84.0 172.0" stroke="#bddb3d"/>
<path d="M23.0 213.0Q48.5 207.2 68.5 190.5" stroke="#bddb3d"/>
<path d="M33.0 225.0Q64.9 204.6 84.0 172.0" stroke="#21918c"/>
<path d="M33.0 225.0Q64.9 204.6 84.0 172.0" stroke="#21918c"/>
<path d="M33.0 225.0Q61.8 226.3 88.0 214.5" stroke="#21918c"/>
<path d="M33.0 225.0Q44.2 237.7 60.0 244.0" stroke="#21918c"/>
<path d="M33.0 225.0Q44.0 198.0 41.5 169.0" stroke="#21918c"/>
<path d="M33.0 225.0Q44.6 219.1 52.3 208.6" stroke="#21918c"/>
<path d="M33.0 225.0Q44.6 191.0 39.5 155.5" stroke="#21918c"/>
<path d="M33.0 225.0Q49.2 226.0 64.0 219.5" stroke="#21918c"/>
<path d="M53.0 218.0Q50.7 209.8 45.0 203.5" stroke="#21918c"/>
<path d="M53.0 218.0Q67.2 211.6 77.0 199.5" stroke="#21918c"/>
<path d="M53.0 218.0Q74.0 198.7 84.0 172.0" stroke="#21918c"/>
<path d="M53.0 218.0Q67.2 211.6 77.0 199.5" stroke="#21918c"/>
<path d="M53.0 218.0Q67.2 211.6 77.0 199.5" stroke="#21918c"/>
<path d="M53.0 218.0Q74.0 198.7 84.0 172.0" stroke="#21918c"/>
<path d="M53.0 218.0Q74.0 198.7 84.0 172.0" stroke="#21918c"/>
<path d="M53.0 218.0Q74.0 198.7 84.0 172.0" stroke="#21918c"/>
<path d="M64.0 219.5Q72.9 211.1 77.0 199.5" stroke="#21918c"/>
<path d="M64.0 219.5Q89.0 204.6 104.5 180.0" stroke="#21918c"/>
<path d="M64.0 219.5Q85.4 205.3 98.0 183.0" stroke="#21918c"/>
<path d="M64.0 219.5Q79.7 198.2 84.0 172.0" stroke="#21918c"/>
<path d="M64.0 219.5Q69.2 191.4 61.0 164.0" stroke="#21918c"/>
<path d="M64.0 219.5Q69.7 205.5 68.5 190.5" stroke="#21918c"/>
<path d="M64.0 219.5Q59.5 212.6 52.3 208.6" stroke="#21918c"/>
<path d="M64.0 219.5Q69.7 205.5 68.5 190.5" stroke="#21918c"/>
<path d="M47.0 232.0Q72.7 206.4 84.0 172.0" stroke="#39a77b"/>
<path d="M47.0 232.0Q78.4 213.6 98.0 183.0" stroke="#39a77b"/>
<path d="M47.0 232.0Q72.7 206.4 84.0 172.0" stroke="#39a77b"/>
<path d="M47.0 232.0Q62.7 213.8 68.5 190.5" stroke="#39a77b"/>
<path d="M47.0 232.0Q78.2 203.5 93.0 164.0" stroke="#39a77b"/>
<path d="M47.0 232.0Q58.5 225.4 65.8 214.3" stroke="#39a77b"/>
<path d="M47.0 232.0Q62.2 199.7 61.0 164.0" stroke="#39a77b"/>
<path d="M47.0 232.0Q51.8 199.8 41.5 169.0" stroke="#39a77b"/>
<path d="M60.0 244.0Q92.9 205.9 105.0 157.0" stroke="#26848b"/>
<path d="M60.0 244.0Q92.9 205.9 105.0 157.0" stroke="#26848b"/>
<path d="M60.0 244.0Q69.1 228.2 70.0 210.0" stroke="#26848b"/>
<path d="M60.0 244.0Q66.8 237.5 69.9 228.5" stroke="#26848b"/>
<path d="M60.0 244.0Q59.6 230.2 53.0 218.0" stroke="#26848b"/>
<path d="M60.0 244.0Q66.8 237.5 69.9 228.5" stroke="#26848b"/>
<path d="M60.0 244.0Q70.7 218.3 68.5 190.5" stroke="#26848b"/>
<path d="M60.0 244.0Q70.7 218.3 68.5 190.5" stroke="#26848b"/>
<path d="M92.0 195.0Q84.0 195.4 77.0 199.5" stroke="#21918c"/>
<path d="M92.0 195.0Q96.4 189.7 98.0 183.0" stroke="#21918c"/>
<path d="M92.0 195.0Q83.4 183.7 70.6 177.5" stroke="#21918c"/>
<path d="M92.0 195.0Q84.0 195.4 77.0 199.5" stroke="#21918c"/>
<path d="M92.0 195.0Q96.2 179.6 93.0 164.0" stroke="#21918c"/>
<path d="M92.0 195.0Q87.7 204.3 88.0 214.5" stroke="#21918c"/>
<path d="M92.0 195.0Q80.1 195.0 69.6 200.4" stroke="#21918c"/>
<path d="M92.0 195.0Q87.7 204.3 88.0 214.5" stroke="#21918c"/>
<path d="M35.9 197.0Q53.0 197.7 68.5 190.5" stroke="#3ca979"/>
<path d="M35.9 197.0Q42.7 204.8 52.3 208.6" stroke="#3ca979"/>
<path d="M35.9 197.0Q53.0 197.7 68.5 190.5" stroke="#3ca979"/>
<path d="M35.9 197.0Q42.7 204.8 52.3 208.6" stroke="#3ca979"/>
<path d="M35.9 197.0Q53.0 197.7 68.5 190.5" stroke="#3ca979"/>
<path d="M35.9 197.0Q68.4 187.4 93.0 164.0" stroke="#3ca979"/>
<path d="M35.9 197.0Q39.8 194.9 42.4 191.3" stroke="#3ca979"/>
<path d="M35.9 197.0Q75.3 185.3 105.0 157.0" stroke="#3ca979"/>
<path d="M65.5 150.3Q69.1 185.1 88.0 214.5" stroke="#3caa78"/>
<path d="M65.5 150.3Q53.3 153.0 43.5 160.9" stroke="#3caa78"/>
<path d="M65.5 150.3Q51.9 149.8 39.5 155.5" stroke="#3caa78"/>
<path d="M65.5 150.3Q72.2 163.4 84.0 172.0" stroke="#3caa78"/>
<path d="M65.5 150.3Q68.3 152.1 71.5 152.5" stroke="#3caa78"/>
<path d="M65.5 150.3Q51.9 149.8 39.5 155.5" stroke="#3caa78"/>
<path d="M65.5 150.3Q61.6 156.6 61.0 164.0" stroke="#3caa78"/>
<path d="M65.5 150.3Q62.2 170.7 68.5 190.5" stroke="#3caa78"/>
<path d="M65.8 214.3Q70.0 202.7 68.5 190.5" stroke="#44b173"/>
<path d="M65.8 214.3Q49.3 208.3 31.9 210.4" stroke="#44b173"/>
<path d="M65.8 214.3Q68.4 212.6 70.0 210.0" stroke="#44b173"/>
<path d="M65.8 214.3Q82.0 229.7 103.5 236.0" stroke="#44b173"/>
<path d="M65.8 214.3Q73.2 208.2 77.0 199.5" stroke="#44b173"/>
<path d="M65.8 214.3Q80.0 195.3 84.0 172.0" stroke="#44b173"/>
<path d="M65.8 214.3Q73.2 208.2 77.0 199.5" stroke="#44b173"/>
<path d="M65.8 214.3Q70.0 202.7 68.5 190.5" stroke="#44b173"/>
<path d="M101.8 192.2Q84.8 173.2 61.0 164.0" stroke="#5ac664"/>
<path d="M101.8 192.2Q84.8 173.2 61.0 164.0" stroke="#5ac664"/>
<path d="M101.8 192.2Q97.4 214.3 103.5 236.0" stroke="#5ac664"/>
<path d="M101.8 192.2Q92.2 201.7 88.0 214.5" stroke="#5ac664"/>
<path d="M101.8 192.2Q104.6 186.4 104.5 180.0" stroke="#5ac664"/>
<path d="M101.8 192.2Q100.8 177.0 93.0 164.0" stroke="#5ac664"/>
<path d="M101.8 192.2Q88.5 192.9 77.0 199.5" stroke="#5ac664"/>
<path d="M101.8 192.2Q92.2 201.7 88.0 214.5" stroke="#5ac664"/>
<path d="M101.8 192.2Q84.8 173.2 61.0 164.0" stroke="#5ac664"/>
<path d="M105.0 182.4Q85.8 182.1 68.5 190.5" stroke="#4ab66f"/>
<path d="M105.0 182.4Q108.0 169.7 105.0 157.0" stroke="#4ab66f"/>
<path d="M105.0 182.4Q85.8 182.1 68.5 190.5" stroke="#4ab66f"/>
<path d="M105.0 182.4Q88.9 187.6 77.0 199.5" stroke="#4ab66f"/>
<path d="M105.0 182.4Q101.2 171.8 93.0 164.0" stroke="#4ab66f"/>
<path d="M105.0 182.4Q95.7 174.7 84.0 172.0" stroke="#4ab66f"/>
<path d="M105.0 182.4Q95.7 174.7 84.0 172.0" stroke="#4ab66f"/>
<path d="M105.0 182.4Q101.2 171.8 93.0 164.0" stroke="#4ab66f"/>
<path d="M42.3 176.4Q60.6 201.0 88.0 214.5" stroke="#4cb86e"/>
<path d="M42.3 176.4Q55.1 170.9 64.0 160.2" stroke="#4cb86e"/>
<path d="M42.3 176.4Q51.0 170.6 56.0 161.4" stroke="#4cb86e"/>
<path d="M42.3 176.4Q52.7 185.9 66.3 189.7" stroke="#4cb86e"/>
<path d="M42.3 176.4Q53.7 186.6 68.5 190.5" stroke="#4cb86e"/>
<path d="M42.3 176.4Q53.1 172.5 61.0 164.0" stroke="#4cb86e"/>
<path d="M42.3 176.4Q56.3 180.4 70.6 177.5" stroke="#4cb86e"/>
<path d="M69.6 200.4Q63.7 203.8 60.0 209.5" stroke="#cbdd38"/>
<path d="M69.6 200.4Q73.4 200.8 77.0 199.5" stroke="#cbdd38"/>
<path d="M69.6 200.4Q80.2 187.9 84.0 172.0" stroke="#cbdd38"/>
<path d="M69.6 200.4Q70.2 195.3 68.5 190.5" stroke="#cbdd38"/>
<path d="M69.6 200.4Q77.1 209.7 88.0 214.5" stroke="#cbdd38"/>
<path d="M69.6 200.4Q80.2 187.9 84.0 172.0" stroke="#cbdd38"/>
<path d="M69.6 200.4Q64.5 209.3 64.0 219.5" stroke="#cbdd38"/>
<path d="M69.6 200.4Q66.3 214.5 69.9 228.5" stroke="#cbdd38"/>
<path d="M55.6 211.8Q63.0 212.6 70.0 210.0" stroke="#299886"/>
<path d="M55.6 211.8Q67.8 208.2 77.0 199.5" stroke="#299886"/>
<path d="M55.6 211.8Q49.1 203.5 39.5 199.1" stroke="#299886"/>
<path d="M55.6 211.8Q51.3 206.4 45.0 203.5" stroke="#299886"/>
<path d="M55.6 211.8Q44.6 204.8 31.5 203.5" stroke="#299886"/>
<path d="M55.6 211.8Q42.7 215.7 33.0 225.0" stroke="#299886"/>
<path d="M55.6 211.8Q74.6 195.3 84.0 172.0" stroke="#299886"/>
<path d="M65.7 190.0Q51.5 191.4 39.5 199.1" stroke="#24898b"/>
<path d="M65.7 190.0Q49.7 184.6 33.0 187.0" stroke="#24898b"/>
<path d="M65.7 190.0Q56.8 197.7 52.3 208.6" stroke="#24898b"/>
<path d="M65.7 190.0Q65.5 200.5 70.0 210.0" stroke="#24898b"/>
<path d="M65.7 190.0Q77.0 183.2 84.0 172.0" stroke="#24898b"/>
<path d="M65.7 190.0Q61.3 204.5 64.0 219.5" stroke="#24898b"/>
<path d="M65.7 190.0Q73.9 204.9 88.0 214.5" stroke="#24898b"/>
<path d="M65.7 190.0Q95.2 208.7 130.0 212.0" stroke="#24898b"/>
<path d="M43.5 160.9Q52.5 178.7 68.5 190.5" stroke="#6ecc5b"/>
<path d="M43.5 160.9Q46.0 148.3 42.5 136.0" stroke="#6ecc5b"/>
<path d="M43.5 160.9Q52.5 178.7 68.5 190.5" stroke="#6ecc5b"/>
<path d="M43.5 160.9Q49.7 162.7 56.0 161.4" stroke="#6ecc5b"/>
<path d="M43.5 160.9Q67.9 168.4 93.0 164.0" stroke="#6ecc5b"/>
<path d="M43.5 160.9Q59.3 193.1 88.0 214.5" stroke="#6ecc5b"/>
<path d="M43.5 160.9Q68.1 178.5 98.0 183.0" stroke="#6ecc5b"/>
<path d="M69.5 176.3Q53.1 174.3 37.5 180.0" stroke="#3fad76"/>
<path d="M69.5 176.3Q55.5 180.7 45.0 191.0" stroke="#3fad76"/>
<path d="M69.5 176.3Q77.3 175.9 84.0 172.0" stroke="#3fad76"/>
<path d="M69.5 176.3Q66.8 169.1 61.0 164.0" stroke="#3fad76"/>
<path d="M69.5 176.3Q57.0 162.3 39.5 155.5" stroke="#3fad76"/>
<path d="M69.5 176.3Q67.3 183.3 68.5 190.5" stroke="#3fad76"/>
<path d="M69.5 176.3Q86.6 182.4 104.5 180.0" stroke="#3fad76"/>
<path d="M69.5 176.3Q89.6 170.9 105.0 157.0" stroke="#3fad76"/>
<path d="M39.5 199.1Q44.0 210.1 53.0 218.0" stroke="#50bc6b"/>
<path d="M39.5 199.1Q55.0 198.3 68.5 190.5" stroke="#50bc6b"/>
<path d="M39.5 199.1Q65.0 190.9 84.0 172.0" stroke="#50bc6b"/>
<path d="M39.5 199.1Q61.9 212.6 88.0 214.5" stroke="#50bc6b"/>
<path d="M39.5 199.1Q74.3 197.3 104.5 180.0" stroke="#50bc6b"/>
<path d="M39.5 199.1Q67.1 225.2 103.5 236.0" stroke="#50bc6b"/>
<path d="M39.5 199.1Q44.1 184.3 41.5 169.0" stroke="#50bc6b"/>
<path d="M125.5 165.8Q109.5 161.0 93.0 164.0" stroke="#43b074"/>
<path d="M125.5 165.8Q109.7 171.1 98.0 183.0" stroke="#43b074"/>
<path d="M125.5 165.8Q131.8 180.1 144.0 190.0" stroke="#43b074"/>
<path d="M125.5 165.8Q94.0 171.3 68.5 190.5" stroke="#43b074"/>
<path d="M125.5 165.8Q122.2 189.5 130.0 212.0" stroke="#43b074"/>
<path d="M125.5 165.8Q100.9 185.7 88.0 214.5" stroke="#43b074"/>
<path d="M125.5 165.8Q115.3 164.1 105.5 167.2" stroke="#43b074"/>
<path d="M66.3 189.7Q66.0 189.8 65.7 190.0" stroke="#24878b"/>
<path d="M66.3 189.7Q77.3 183.0 84.0 172.0" stroke="#24878b"/>
<path d="M66.3 189.7Q56.4 176.4 41.5 169.0" stroke="#24878b"/>
<path d="M66.3 189.7Q67.3 190.3 68.5 190.5" stroke="#24878b"/>
<path d="M66.3 189.7Q77.3 183.0 84.0 172.0" stroke="#24878b"/>
<path d="M66.3 189.7Q67.3 190.3 68.5 190.5" stroke="#24878b"/>
<path d="M66.3 189.7Q86.6 189.4 104.5 180.0" stroke="#24878b"/>
<path d="M66.3 189.7Q66.7 176.2 61.0 164.0" stroke="#24878b"/>
<path d="M91.0 151.1Q81.9 182.5 88.0 214.5" stroke="#228e8b"/>
<path d="M91.0 151.1Q94.3 167.2 104.5 180.0" stroke="#228e8b"/>
<path d="M91.0 151.1Q76.4 152.4 64.0 160.2" stroke="#228e8b"/>
<path d="M91.0 151.1Q74.4 154.0 61.0 164.0" stroke="#228e8b"/>
<path d="M91.0 151.1Q75.0 168.1 68.5 190.5" stroke="#228e8b"/>
<path d="M91.0 151.1Q85.0 160.7 84.0 172.0" stroke="#228e8b"/>
<path d="M91.0 151.1Q85.0 160.7 84.0 172.0" stroke="#228e8b"/>
<path d="M91.0 151.1Q87.0 195.1 103.5 236.0" stroke="#228e8b"/>
<path d="M105.5 167.2Q91.1 188.8 88.0 214.5" stroke="#5cc762"/>
<path d="M105.5 167.2Q84.2 174.4 68.5 190.5" stroke="#5cc762"/>
<path d="M105.5 167.2Q99.6 164.1 93.0 164.0" stroke="#5cc762"/>
<path d="M105.5 167.2Q91.1 188.8 88.0 214.5" stroke="#5cc762"/>
<path d="M105.5 167.2Q94.2 167.0 84.0 172.0" stroke="#5cc762"/>
<path d="M105.5 167.2Q84.2 174.4 68.5 190.5" stroke="#5cc762"/>
<path d="M105.5 167.2Q91.1 188.8 88.0 214.5" stroke="#5cc762"/>
<path d="M105.5 167.2Q84.2 174.4 68.5 190.5" stroke="#5cc762"/>
<path d="M105.5 167.2Q84.2 174.4 68.5 190.5" stroke="#5cc762"/>
<path d="M77.7 149.8Q69.6 153.4 64.0 160.2" stroke="#40ad76"/>
<path d="M77.7 149.8Q57.3 155.1 41.5 169.0" stroke="#40ad76"/>
<path d="M77.7 149.8Q80.8 152.2 84.6 153.0" stroke="#40ad76"/>
<path d="M77.7 149.8Q68.2 169.1 68.5 190.5" stroke="#40ad76"/>
<path d="M77.7 149.8Q98.4 175.8 128.5 189.5" stroke="#40ad76"/>
<path d="M77.7 149.8Q78.2 161.7 84.0 172.0" stroke="#40ad76"/>
<path d="M77.7 149.8Q67.7 154.9 61.0 164.0" stroke="#40ad76"/>
<path d="M31.9 210.4Q30.0 194.4 21.0 181.0" stroke="#39a77b"/>
<path d="M31.9 210.4Q32.5 206.9 31.5 203.5" stroke="#39a77b"/>
<path d="M31.9 210.4Q52.6 204.8 68.5 190.5" stroke="#39a77b"/>
<path d="M31.9 210.4Q64.6 231.8 103.5 236.0" stroke="#39a77b"/>
<path d="M31.9 210.4Q30.0 194.4 21.0 181.0" stroke="#39a77b"/>
<path d="M31.9 210.4Q36.5 201.9 36.7 192.2" stroke="#39a77b"/>
<path d="M31.9 210.4Q68.0 194.5 93.0 164.0" stroke="#39a77b"/>
<path d="M31.9 210.4Q52.6 204.8 68.5 190.5" stroke="#39a77b"/>
<path d="M84.6 153.0Q82.0 162.4 84.0 172.0" stroke="#6ccb5c"/>
<path d="M84.6 153.0Q72.0 169.8 68.5 190.5" stroke="#6ccb5c"/>
<path d="M84.6 153.0Q75.2 175.3 77.0 199.5" stroke="#6ccb5c"/>
<path d="M84.6 153.0Q84.1 196.8 103.5 236.0" stroke="#6ccb5c"/>
<path d="M84.6 153.0Q100.2 188.0 130.0 212.0" stroke="#6ccb5c"/>
<path d="M84.6 153.0Q75.2 175.3 77.0 199.5" stroke="#6ccb5c"/>
<path d="M84.6 153.0Q89.1 153.0 93.1 151.0" stroke="#6ccb5c"/>
<path d="M84.6 153.0Q72.0 169.8 68.5 190.5" stroke="#6ccb5c"/>
<path d="M61.3 207.2Q66.9 199.7 68.5 190.5" stroke="#3e3376"/>
<path d="M61.3 207.2Q66.9 199.7 68.5 190.5" stroke="#3e3376"/>
<path d="M61.3 207.2Q73.8 214.1 88.0 214.5" stroke="#3e3376"/>
<path d="M61.3 207.2Q70.1 205.2 77.0 199.5" stroke="#3e3376"/>
<path d="M61.3 207.2Q76.9 192.3 84.0 172.0" stroke="#3e3376"/>
<path d="M61.3 207.2Q70.1 205.2 77.0 199.5" stroke="#3e3376"/>
<path d="M61.3 207.2Q76.9 192.3 84.0 172.0" stroke="#3e3376"/>
<path d="M61.3 207.2Q66.9 199.7 68.5 190.5" stroke="#3e3376"/>
<path d="M33.1 179.7Q33.4 186.4 36.7 192.2" stroke="#4fbb6b"/>
<path d="M33.1 179.7Q59.5 182.0 84.0 172.0" stroke="#4fbb6b"/>
<path d="M33.1 179.7Q47.9 199.3 70.0 210.0" stroke="#4fbb6b"/>
<path d="M33.1 179.7Q39.2 168.4 39.5 155.5" stroke="#4fbb6b"/>
<path d="M33.1 179.7Q36.3 186.6 42.4 191.3" stroke="#4fbb6b"/>
<path d="M33.1 179.7Q52.1 183.1 70.6 177.5" stroke="#4fbb6b"/>
<path d="M33.1 179.7Q77.7 207.5 130.0 212.0" stroke="#4fbb6b"/>
<path d="M33.1 179.7Q33.4 186.4 36.7 192.2" stroke="#4fbb6b"/>
<path d="M36.7 192.2Q52.8 195.2 68.5 190.5" stroke="#49b570"/>
<path d="M36.7 192.2Q72.1 194.3 104.5 180.0" stroke="#49b570"/>
<path d="M36.7 192.2Q52.8 195.2 68.5 190.5" stroke="#49b570"/>
<path d="M36.7 192.2Q41.9 181.2 41.5 169.0" stroke="#49b570"/>
<path d="M36.7 192.2Q32.1 200.7 31.9 210.4" stroke="#49b570"/>
<path d="M36.7 192.2Q41.9 181.2 41.5 169.0" stroke="#49b570"/>
<path d="M36.7 192.2Q52.8 195.2 68.5 190.5" stroke="#49b570"/>
<path d="M52.3 208.6Q72.6 194.1 84.0 172.0" stroke="#41ae75"/>
<path d="M52.3 208.6Q72.6 194.1 84.0 172.0" stroke="#41ae75"/>
<path d="M52.3 208.6Q52.3 180.5 39.5 155.5" stroke="#41ae75"/>
<path d="M52.3 208.6Q61.0 211.4 70.0 210.0" stroke="#41ae75"/>
<path d="M52.3 208.6Q72.6 194.1 84.0 172.0" stroke="#41ae75"/>
<path d="M52.3 208.6Q72.6 194.1 84.0 172.0" stroke="#41ae75"/>
<path d="M52.3 208.6Q78.0 191.2 93.0 164.0" stroke="#41ae75"/>
<path d="M52.3 208.6Q78.0 191.2 93.0 164.0" stroke="#41ae75"/>
<path d="M56.0 161.4Q58.8 177.4 68.5 190.5" stroke="#43b074"/>
<path d="M56.0 161.4Q57.7 172.2 64.0 181.0" stroke="#43b074"/>
<path d="M56.0 161.4Q58.8 177.4 68.5 190.5" stroke="#43b074"/>
<path d="M56.0 161.4Q61.8 172.6 72.0 180.0" stroke="#43b074"/>
<path d="M56.0 161.4Q65.6 191.8 88.0 214.5" stroke="#43b074"/>
<path d="M56.0 161.4Q58.8 177.4 68.5 190.5" stroke="#43b074"/>
<path d="M56.0 161.4Q68.7 170.1 84.0 172.0" stroke="#43b074"/>
<path d="M64.0 160.2Q62.6 175.9 68.5 190.5" stroke="#7ecf55"/>
<path d="M64.0 160.2Q72.6 168.5 84.0 172.0" stroke="#7ecf55"/>
<path d="M64.0 160.2Q52.3 154.9 39.5 155.5" stroke="#7ecf55"/>
<path d="M64.0 160.2Q51.7 161.9 41.5 169.0" stroke="#7ecf55"/>
<path d="M64.0 160.2Q79.6 159.1 93.1 151.0" stroke="#7ecf55"/>
<path d="M64.0 160.2Q61.0 185.8 70.0 210.0" stroke="#7ecf55"/>
<path d="M64.0 160.2Q69.5 190.2 88.0 214.5" stroke="#7ecf55"/>
<path d="M69.9 228.5Q76.4 203.1 70.6 177.5" stroke="#a0d548"/>
<path d="M69.9 228.5Q67.2 217.8 60.0 209.5" stroke="#a0d548"/>
<path d="M69.9 228.5Q68.2 216.9 61.3 207.2" stroke="#a0d548"/>
<path d="M69.9 228.5Q69.5 220.9 65.8 214.3" stroke="#a0d548"/>
<path d="M69.9 228.5Q93.0 208.4 104.5 180.0" stroke="#a0d548"/>
<path d="M69.9 228.5Q73.7 209.4 68.5 190.5" stroke="#a0d548"/>
<path d="M69.9 228.5Q76.4 203.1 70.6 177.5" stroke="#a0d548"/>
<path d="M41.7 159.8Q54.7 157.9 65.5 150.3" stroke="#2e708b"/>
<path d="M41.7 159.8Q40.5 164.4 41.5 169.0" stroke="#2e708b"/>
<path d="M41.7 159.8Q49.8 188.3 70.0 210.0" stroke="#2e708b"/>
<path d="M41.7 159.8Q58.3 192.7 88.0 214.5" stroke="#2e708b"/>
<path d="M41.7 159.8Q79.6 196.5 130.0 212.0" stroke="#2e708b"/>
<path d="M41.7 159.8Q61.4 171.0 84.0 172.0" stroke="#2e708b"/>
<path d="M41.7 159.8Q35.3 175.4 36.7 192.2" stroke="#2e708b"/>
<path d="M93.1 151.0Q98.3 155.4 105.0 157.0" stroke="#59c465"/>
<path d="M93.1 151.0Q91.3 145.3 87.0 141.0" stroke="#59c465"/>
<path d="M93.1 151.0Q76.1 167.8 68.5 190.5" stroke="#59c465"/>
<path d="M93.1 151.0Q76.1 167.8 68.5 190.5" stroke="#59c465"/>
<path d="M93.1 151.0Q78.7 161.6 70.6 177.5" stroke="#59c465"/>
<path d="M93.1 151.0Q86.0 160.4 84.0 172.0" stroke="#59c465"/>
<path d="M93.1 151.0Q79.4 147.3 65.5 150.3" stroke="#59c465"/>
<path d="M93.1 151.0Q86.0 160.4 84.0 172.0" stroke="#59c465"/>
<path d="M78.0 156.6Q71.8 166.2 70.6 177.5" stroke="#299886"/>
<path d="M78.0 156.6Q67.6 182.3 70.0 210.0" stroke="#299886"/>
<path d="M78.0 156.6Q69.2 172.4 68.5 190.5" stroke="#299886"/>
<path d="M78.0 156.6Q79.2 165.0 84.0 172.0" stroke="#299886"/>
<path d="M78.0 156.6Q80.8 154.0 82.0 150.5" stroke="#299886"/>
<path d="M78.0 156.6Q69.2 172.4 68.5 190.5" stroke="#299886"/>
<path d="M78.0 156.6Q79.2 165.0 84.0 172.0" stroke="#299886"/>
<path d="M78.0 156.6Q68.1 167.1 64.0 181.0" stroke="#299886"/>
<path d="M42.4 191.3Q48.1 196.2 55.5 198.0" stroke="#4cb96d"/>
<path d="M42.4 191.3Q44.6 180.0 41.5 169.0" stroke="#4cb96d"/>
<path d="M42.4 191.3Q62.4 208.4 88.0 214.5" stroke="#4cb96d"/>
<path d="M42.4 191.3Q55.0 179.9 61.0 164.0" stroke="#4cb96d"/>
<path d="M42.4 191.3Q67.6 221.0 103.5 236.0" stroke="#4cb96d"/>
<path d="M42.4 191.3Q44.6 180.0 41.5 169.0" stroke="#4cb96d"/>
<path d="M42.4 191.3Q83.7 212.1 130.0 212.0" stroke="#4cb96d"/>
<path d="M42.4 191.3Q42.2 197.7 45.0 203.5" stroke="#4cb96d"/>
</g>
<circle cx="77.7" cy="149.8" r="0.62" fill="#40ad76" fill-opacity="0.82"/>
<circle cx="42.3" cy="176.4" r="0.66" fill="#4cb86e" fill-opacity="0.82"/>
<circle cx="69.9" cy="228.5" r="0.70" fill="#a0d548" fill-opacity="0.82"/>
<circle cx="56.0" cy="161.4" r="0.72" fill="#43b074" fill-opacity="0.82"/>
<circle cx="125.5" cy="165.8" r="0.73" fill="#43b074" fill-opacity="0.82"/>
<circle cx="39.5" cy="199.1" r="0.73" fill="#50bc6b" fill-opacity="0.82"/>
<circle cx="36.7" cy="192.2" r="0.75" fill="#49b570" fill-opacity="0.82"/>
<circle cx="43.5" cy="160.9" r="0.75" fill="#6ecc5b" fill-opacity="0.82"/>
<circle cx="64.0" cy="160.2" r="0.77" fill="#7ecf55" fill-opacity="0.82"/>
<circle cx="41.7" cy="159.8" r="0.77" fill="#2e708b" fill-opacity="0.82"/>
<circle cx="55.6" cy="211.8" r="0.78" fill="#299886" fill-opacity="0.82"/>
<circle cx="14.5" cy="170.0" r="0.80" fill="#21918c" fill-opacity="0.82"/>
<circle cx="66.3" cy="189.7" r="0.83" fill="#24878b" fill-opacity="0.82"/>
<circle cx="42.4" cy="191.3" r="0.86" fill="#4cb96d" fill-opacity="0.82"/>
<circle cx="33.1" cy="179.7" r="0.87" fill="#4fbb6b" fill-opacity="0.82"/>
<circle cx="105.0" cy="182.4" r="0.90" fill="#4ab66f" fill-opacity="0.82"/>
<circle cx="93.1" cy="151.0" r="0.91" fill="#59c465" fill-opacity="0.82"/>
<circle cx="69.5" cy="176.3" r="0.92" fill="#3fad76" fill-opacity="0.82"/>
<circle cx="91.0" cy="151.1" r="0.94" fill="#228e8b" fill-opacity="0.82"/>
<circle cx="78.0" cy="156.6" r="0.95" fill="#299886" fill-opacity="0.82"/>
<circle cx="65.5" cy="150.3" r="0.99" fill="#3caa78" fill-opacity="0.82"/>
<circle cx="31.9" cy="210.4" r="0.99" fill="#39a77b" fill-opacity="0.82"/>
<circle cx="85.0" cy="226.0" r="1.00" fill="#21918c" fill-opacity="0.82"/>
<circle cx="128.5" cy="232.5" r="1.00" fill="#9dd549" fill-opacity="0.82"/>
<circle cx="133.5" cy="232.5" r="1.00" fill="#51bd6a" fill-opacity="0.82"/>
<circle cx="91.0" cy="238.0" r="1.00" fill="#3b528b" fill-opacity="0.82"/>
<circle cx="76.5" cy="238.0" r="1.00" fill="#21918c" fill-opacity="0.82"/>
<circle cx="97.5" cy="248.0" r="1.00" fill="#26848b" fill-opacity="0.82"/>
<circle cx="73.0" cy="252.0" r="1.00" fill="#355e8b" fill-opacity="0.82"/>
<circle cx="103.0" cy="143.0" r="1.00" fill="#2d9c83" fill-opacity="0.82"/>
<circle cx="126.0" cy="139.0" r="1.00" fill="#306b8b" fill-opacity="0.82"/>
<circle cx="93.0" cy="153.5" r="1.00" fill="#21918c" fill-opacity="0.82"/>
<circle cx="117.0" cy="165.0" r="1.00" fill="#bddb3d" fill-opacity="0.82"/>
<circle cx="125.0" cy="178.0" r="1.00" fill="#21918c" fill-opacity="0.82"/>
<circle cx="42.5" cy="136.0" r="1.00" fill="#21918c" fill-opacity="0.82"/>
<circle cx="59.5" cy="141.5" r="1.00" fill="#bddb3d" fill-opacity="0.82"/>
<circle cx="71.5" cy="152.5" r="1.00" fill="#21918c" fill-opacity="0.82"/>
<circle cx="22.0" cy="151.0" r="1.00" fill="#7dcf55" fill-opacity="0.82"/>
<circle cx="28.5" cy="163.5" r="1.00" fill="#21918c" fill-opacity="0.82"/>
<circle cx="21.0" cy="181.0" r="1.00" fill="#bddb3d" fill-opacity="0.82"/>
<circle cx="37.5" cy="180.0" r="1.00" fill="#21918c" fill-opacity="0.82"/>
<circle cx="64.0" cy="181.0" r="1.00" fill="#bddb3d" fill-opacity="0.82"/>
<circle cx="33.0" cy="187.0" r="1.00" fill="#21918c" fill-opacity="0.82"/>
<circle cx="18.0" cy="196.0" r="1.00" fill="#21918c" fill-opacity="0.82"/>
<circle cx="55.5" cy="198.0" r="1.00" fill="#21918c" fill-opacity="0.82"/>
<circle cx="31.5" cy="203.5" r="1.00" fill="#bddb3d" fill-opacity="0.82"/>
<circle cx="45.0" cy="203.5" r="1.00" fill="#21918c" fill-opacity="0.82"/>
<circle cx="23.0" cy="213.0" r="1.00" fill="#bddb3d" fill-opacity="0.82"/>
<circle cx="53.0" cy="218.0" r="1.00" fill="#21918c" fill-opacity="0.82"/>
<circle cx="64.0" cy="219.5" r="1.00" fill="#21918c" fill-opacity="0.82"/>
<circle cx="47.0" cy="232.0" r="1.00" fill="#39a77b" fill-opacity="0.82"/>
<circle cx="60.0" cy="244.0" r="1.00" fill="#26848b" fill-opacity="0.82"/>
<circle cx="92.0" cy="195.0" r="1.00" fill="#21918c" fill-opacity="0.82"/>
<circle cx="65.8" cy="214.3" r="1.00" fill="#44b173" fill-opacity="0.82"/>
<circle cx="84.6" cy="153.0" r="1.01" fill="#6ccb5c" fill-opacity="0.82"/>
<circle cx="35.9" cy="197.0" r="1.07" fill="#3ca979" fill-opacity="0.82"/>
<circle cx="52.3" cy="208.6" r="1.08" fill="#41ae75" fill-opacity="0.82"/>
<circle cx="61.3" cy="207.2" r="1.08" fill="#3e3376" fill-opacity="0.82"/>
<circle cx="81.5" cy="130.0" r="1.10" fill="#21918c" fill-opacity="0.82"/>
<circle cx="95.0" cy="128.5" r="1.10" fill="#dde131" fill-opacity="0.82"/>
<circle cx="73.5" cy="141.5" r="1.10" fill="#21918c" fill-opacity="0.82"/>
<circle cx="112.0" cy="141.0" r="1.10" fill="#3c4884" fill-opacity="0.82"/>
<circle cx="116.0" cy="153.0" r="1.10" fill="#dde131" fill-opacity="0.82"/>
<circle cx="138.0" cy="153.0" r="1.10" fill="#dde131" fill-opacity="0.82"/>
<circle cx="144.5" cy="177.0" r="1.10" fill="#306b8b" fill-opacity="0.82"/>
<circle cx="61.0" cy="153.0" r="1.10" fill="#21918c" fill-opacity="0.82"/>
<circle cx="55.0" cy="174.0" r="1.10" fill="#3b528b" fill-opacity="0.82"/>
<circle cx="45.0" cy="191.0" r="1.10" fill="#21918c" fill-opacity="0.82"/>
<circle cx="60.0" cy="209.5" r="1.10" fill="#3b528b" fill-opacity="0.82"/>
<circle cx="33.0" cy="225.0" r="1.10" fill="#21918c" fill-opacity="0.82"/>
<circle cx="69.6" cy="200.4" r="1.11" fill="#cbdd38" fill-opacity="0.82"/>
<circle cx="65.7" cy="190.0" r="1.18" fill="#24898b" fill-opacity="0.82"/>
<circle cx="140.0" cy="189.5" r="1.20" fill="#21918c" fill-opacity="0.82"/>
<circle cx="135.0" cy="200.0" r="1.20" fill="#21918c" fill-opacity="0.82"/>
<circle cx="106.0" cy="212.0" r="1.20" fill="#355e8b" fill-opacity="0.82"/>
<circle cx="110.0" cy="222.0" r="1.20" fill="#2d9c83" fill-opacity="0.82"/>
<circle cx="98.0" cy="225.5" r="1.20" fill="#21918c" fill-opacity="0.82"/>
<circle cx="82.0" cy="150.5" r="1.20" fill="#dde131" fill-opacity="0.82"/>
<circle cx="101.8" cy="192.2" r="1.24" fill="#5ac664" fill-opacity="0.82"/>
<circle cx="105.5" cy="167.2" r="1.26" fill="#5cc762" fill-opacity="0.82"/>
<circle cx="107.5" cy="189.0" r="1.30" fill="#9dd549" fill-opacity="0.82"/>
<circle cx="96.5" cy="203.0" r="1.30" fill="#5ec962" fill-opacity="0.82"/>
<circle cx="67.3" cy="130.7" r="1.30" fill="#9dd549" fill-opacity="0.82"/>
<circle cx="103.0" cy="205.5" r="1.40" fill="#21918c" fill-opacity="0.82"/>
<circle cx="98.0" cy="183.0" r="1.50" fill="#9dd549" fill-opacity="0.82"/>
<circle cx="128.5" cy="189.5" r="1.50" fill="#26848b" fill-opacity="0.82"/>
<circle cx="130.0" cy="212.0" r="1.50" fill="#21918c" fill-opacity="0.82"/>
<circle cx="137.5" cy="166.5" r="1.50" fill="#26848b" fill-opacity="0.82"/>
<circle cx="93.0" cy="164.0" r="1.60" fill="#2d9c83" fill-opacity="0.82"/>
<circle cx="104.5" cy="180.0" r="1.60" fill="#355e8b" fill-opacity="0.82"/>
<circle cx="103.5" cy="236.0" r="1.60" fill="#37598b" fill-opacity="0.82"/>
<circle cx="39.5" cy="155.5" r="2.00" fill="#21918c" fill-opacity="0.82"/>
<circle cx="105.0" cy="157.0" r="2.00" fill="#21918c" fill-opacity="0.82"/>
<circle cx="70.0" cy="210.0" r="2.10" fill="#21918c" fill-opacity="0.82"/>
<circle cx="41.5" cy="169.0" r="2.20" fill="#5ec962" fill-opacity="0.82"/>
<circle cx="61.0" cy="164.0" r="2.50" fill="#238b8b" fill-opacity="0.82"/>
<circle cx="77.0" cy="199.5" r="2.80" fill="#34a27e" fill-opacity="0.82"/>
<circle cx="88.0" cy="214.5" r="2.90" fill="#259588" fill-opacity="0.82"/>
<circle cx="70.6" cy="177.5" r="3.00" fill="#259588" fill-opacity="0.82"/>
<circle cx="84.0" cy="172.0" r="4.20" fill="#2d9c83" fill-opacity="0.82"/>
<circle cx="68.5" cy="190.5" r="4.60" fill="#297c8b" fill-opacity="0.82"/>
<g font-size="2.4" fill="#2c2c2c" text-anchor="middle">
<text x="68.5" y="191.8" font-size="3.74">nanotechnology</text>
<text x="84.0" y="173.2" font-size="3.57">breast cancer</text>
<text x="77.0" y="200.5" font-size="2.96">drug delivery</text>
<text x="88.0" y="215.6" font-size="3.00">nanoparticles</text>
<text x="70.0" y="210.9" font-size="2.66">doxorubicin</text>
<text x="61.0" y="165.0" font-size="2.83">gold nanoparticles</text>
<text x="41.5" y="169.9" font-size="2.70">apoptosis</text>
<text x="39.5" y="156.4" font-size="2.62">cytotoxicity</text>
<text x="72.0" y="180.8" font-size="2.40">delivery</text>
<text x="105.0" y="157.9" font-size="2.62">targeted delivery</text>
<text x="104.5" y="180.9" font-size="2.44">therapy</text>
<text x="144.0" y="190.8" font-size="2.40">magnetic nanoparticles</text>
<text x="107.5" y="189.8" font-size="2.40">cells</text>
<text x="103.0" y="206.3" font-size="2.40">in vitro</text>
<text x="135.0" y="200.8" font-size="2.40">expression</text>
<text x="106.0" y="212.8" font-size="2.40">efficacy</text>
<text x="130.0" y="212.8" font-size="2.40">design</text>
<text x="148.0" y="216.3" font-size="2.40">drug delivery systems</text>
<text x="110.0" y="222.8" font-size="2.40">photothermal therapy</text>
<text x="85.0" y="226.8" font-size="2.40">release</text>
<text x="103.5" y="236.9" font-size="2.44">women</text>
<text x="117.5" y="235.3" font-size="2.40">hyperthermia</text>
<text x="76.5" y="238.8" font-size="2.40">cisplatin</text>
<text x="97.5" y="248.8" font-size="2.40">prognosis</text>
<text x="73.0" y="252.8" font-size="2.40">survival</text>
<text x="81.5" y="130.8" font-size="2.40">photothermal therapy</text>
<text x="110.0" y="128.3" font-size="2.40">identification</text>
<text x="87.0" y="141.8" font-size="2.40">nanoparticles</text>
<text x="103.0" y="143.8" font-size="2.40">toxicity</text>
<text x="126.0" y="139.8" font-size="2.40">growth factor receptor</text>
<text x="93.0" y="154.3" font-size="2.40">mechanisms</text>
<text x="116.0" y="153.8" font-size="2.40">reactive oxygen species</text>
<text x="138.0" y="153.8" font-size="2.40">chemotherapy</text>
<text x="111.0" y="170.3" font-size="2.40">drug resistance</text>
<text x="137.5" y="167.3" font-size="2.40">photodynamic therapy</text>
<text x="125.0" y="178.8" font-size="2.40">mcf-7</text>
<text x="42.5" y="136.8" font-size="2.40">silver nanoparticles</text>
<text x="59.5" y="142.3" font-size="2.40">antitumor activity</text>
<text x="45.0" y="146.8" font-size="2.40">nanocarriers</text>
<text x="61.0" y="153.8" font-size="2.40">magnetic nanoparticles</text>
<text x="22.0" y="151.8" font-size="2.40">green synthesis</text>
<text x="28.5" y="164.3" font-size="2.40">tumor</text>
<text x="14.5" y="170.8" font-size="2.40">cell</text>
<text x="21.0" y="181.8" font-size="2.40">silica</text>
<text x="37.5" y="180.8" font-size="2.40">therapy</text>
<text x="33.0" y="187.8" font-size="2.40">liposomes</text>
<text x="18.0" y="196.8" font-size="2.40">drug delivery system</text>
<text x="55.5" y="198.8" font-size="2.40">system</text>
<text x="45.0" y="204.3" font-size="2.40">cancer</text>
<text x="23.0" y="213.8" font-size="2.40">carcinoma</text>
<text x="33.0" y="225.8" font-size="2.40">micelles</text>
<text x="53.0" y="218.8" font-size="2.40">paclitaxel</text>
<text x="64.0" y="220.3" font-size="2.40">release</text>
<text x="47.0" y="232.8" font-size="2.40">polymer</text>
<text x="60.0" y="244.8" font-size="2.40">expression</text>
<text x="92.0" y="195.8" font-size="2.40">cells</text>
<text x="58.0" y="114.3" font-size="2.40">mice</text>
<text x="65.5" y="151.1" font-size="2.40">in vitro</text>
<text x="65.8" y="215.1" font-size="2.40">apoptosis</text>
<text x="105.0" y="183.3" font-size="2.40">chemotherapy</text>
<text x="42.3" y="177.3" font-size="2.40">imaging</text>
<text x="69.6" y="201.2" font-size="2.40">biomarkers</text>
<text x="55.6" y="212.6" font-size="2.40">inhibition</text>
<text x="65.7" y="190.8" font-size="2.40">women</text>
<text x="43.5" y="161.8" font-size="2.40">imaging</text>
<text x="69.5" y="177.2" font-size="2.40">in vitro</text>
<text x="39.5" y="199.9" font-size="2.40">quantum dots</text>
<text x="125.5" y="166.7" font-size="2.40">prognosis</text>
<text x="66.3" y="190.5" font-size="2.40">gold nanoparticles</text>
<text x="91.0" y="152.0" font-size="2.40">stem cells</text>
<text x="105.5" y="168.1" font-size="2.40">liposomes</text>
<text x="77.7" y="150.7" font-size="2.40">nanomedicine</text>
<text x="84.6" y="153.8" font-size="2.40">folic acid</text>
<text x="61.3" y="208.1" font-size="2.40">release</text>
<text x="33.1" y="180.5" font-size="2.40">prognosis</text>
<text x="36.7" y="193.1" font-size="2.40">doxorubicin</text>
<text x="52.3" y="209.4" font-size="2.40">iron oxide</text>
<text x="56.0" y="162.2" font-size="2.40">chemotherapy</text>
<text x="64.0" y="161.0" font-size="2.40">tumor</text>
<text x="69.9" y="229.4" font-size="2.40">carcinoma</text>
<text x="41.7" y="160.7" font-size="2.40">inhibition</text>
<text x="93.1" y="151.9" font-size="2.40">inhibition</text>
<text x="78.0" y="157.4" font-size="2.40">photodynamic therapy</text>
<text x="42.4" y="192.1" font-size="2.40">imaging</text>
</g>
<text transform="translate(165.5,8) scale(0.84,1)" font-size="8.2" font-weight="700" fill="#111">C</text>
<g stroke="#f0f0f0" stroke-width="0.4">
<line x1="196.8" y1="31" x2="196.8" y2="250"/>
<line x1="200.7" y1="31" x2="200.7" y2="250"/>
<line x1="205.9" y1="31" x2="205.9" y2="250"/>
<line x1="213.9" y1="31" x2="213.9" y2="250"/>
<line x1="222.8" y1="31" x2="222.8" y2="250"/>
<line x1="233.5" y1="31" x2="233.5" y2="250"/>
<line x1="246.7" y1="31" x2="246.7" y2="250"/>
<line x1="262.7" y1="31" x2="262.7" y2="250"/>
<line x1="283.5" y1="31" x2="283.5" y2="250"/>
<line x1="306.5" y1="31" x2="306.5" y2="250"/>
<line x1="324.9" y1="31" x2="324.9" y2="250"/>
<line x1="340.2" y1="31" x2="340.2" y2="250"/>
<line x1="352.5" y1="31" x2="352.5" y2="250"/>
<line x1="364.1" y1="31" x2="364.1" y2="250"/>
<line x1="373.3" y1="31" x2="373.3" y2="250"/>
<line x1="380.7" y1="31" x2="380.7" y2="250"/>
<line x1="387.7" y1="31" x2="387.7" y2="250"/>
</g>
<g fill="#e24cf0">
<rect x="198.3" y="26.4" width="4.8" height="1.4"/>
<rect x="203.5" y="26.4" width="4.8" height="1.4"/>
<rect x="211.5" y="26.4" width="4.8" height="1.4"/>
<rect x="220.4" y="26.4" width="4.8" height="1.4"/>
<rect x="231.1" y="26.4" width="4.8" height="1.4"/>
<rect x="244.3" y="26.4" width="4.8" height="1.4"/>
<rect x="260.3" y="26.4" width="4.8" height="1.4"/>
<rect x="281.1" y="26.4" width="4.8" height="1.4"/>
<rect x="304.1" y="26.4" width="4.8" height="1.4"/>
<rect x="322.5" y="26.4" width="4.8" height="1.4"/>
<rect x="337.8" y="26.4" width="4.8" height="1.4"/>
<rect x="350.1" y="26.4" width="4.8" height="1.4"/>
<rect x="361.7" y="26.4" width="4.8" height="1.4"/>
<rect x="370.9" y="26.4" width="4.8" height="1.4"/>
<rect x="378.3" y="26.4" width="4.8" height="1.4"/>
<rect x="385.3" y="26.4" width="4.8" height="1.4"/>
</g>
<g stroke="#a0a0a0" stroke-width="0.3" stroke-opacity="0.17" fill="none">
<line x1="221.3" y1="143.8" x2="361.4" y2="65.4"/>
<line x1="307.2" y1="242.2" x2="362.0" y2="202.8"/>
<line x1="285.6" y1="202.8" x2="371.0" y2="104.6"/>
<line x1="285.6" y1="202.8" x2="340.1" y2="85.2"/>
<line x1="221.3" y1="143.8" x2="362.0" y2="202.8"/>
<line x1="227.0" y1="85.2" x2="307.5" y2="45.6"/>
<line x1="195.7" y1="65.4" x2="383.0" y2="222.4"/>
<line x1="198.6" y1="45.6" x2="370.4" y2="45.6"/>
<line x1="307.2" y1="242.2" x2="339.6" y2="45.6"/>
<line x1="198.6" y1="45.6" x2="385.8" y2="104.6"/>
<line x1="196.4" y1="163.5" x2="263.6" y2="222.4"/>
<line x1="213.1" y1="163.5" x2="325.5" y2="183.2"/>
<line x1="218.2" y1="202.8" x2="374.8" y2="65.4"/>
<line x1="275.4" y1="65.4" x2="333.4" y2="45.6"/>
<line x1="233.0" y1="65.4" x2="371.0" y2="104.6"/>
<line x1="198.8" y1="202.8" x2="332.0" y2="124.4"/>
<line x1="307.5" y1="45.6" x2="385.8" y2="143.8"/>
<line x1="308.5" y1="104.6" x2="352.0" y2="163.5"/>
<line x1="244.0" y1="124.4" x2="319.5" y2="45.6"/>
<line x1="256.3" y1="85.2" x2="375.0" y2="124.4"/>
<line x1="285.8" y1="65.4" x2="376.0" y2="85.2"/>
<line x1="246.9" y1="124.4" x2="385.8" y2="104.6"/>
<line x1="198.8" y1="202.8" x2="379.0" y2="202.8"/>
<line x1="246.9" y1="124.4" x2="381.4" y2="45.6"/>
<line x1="195.7" y1="65.4" x2="300.3" y2="45.6"/>
<line x1="232.7" y1="183.2" x2="246.9" y2="124.4"/>
<line x1="307.2" y1="242.2" x2="379.7" y2="124.4"/>
<line x1="244.0" y1="124.4" x2="339.9" y2="222.4"/>
<line x1="198.6" y1="45.6" x2="352.0" y2="124.4"/>
<line x1="205.2" y1="56.7" x2="325.6" y2="45.6"/>
<line x1="307.6" y1="124.4" x2="352.0" y2="163.5"/>
<line x1="233.0" y1="85.2" x2="339.6" y2="45.6"/>
<line x1="221.3" y1="143.8" x2="360.0" y2="124.4"/>
<line x1="195.7" y1="65.4" x2="371.0" y2="143.8"/>
<line x1="307.5" y1="45.6" x2="383.0" y2="222.4"/>
<line x1="285.8" y1="65.4" x2="307.5" y2="45.6"/>
<line x1="239.7" y1="124.4" x2="339.9" y2="222.4"/>
<line x1="263.6" y1="222.4" x2="317.0" y2="104.6"/>
<line x1="198.8" y1="202.8" x2="371.0" y2="104.6"/>
<line x1="221.3" y1="143.8" x2="221.3" y2="143.8"/>
<line x1="205.4" y1="202.8" x2="360.0" y2="124.4"/>
<line x1="307.2" y1="242.2" x2="374.8" y2="65.4"/>
<line x1="218.2" y1="143.8" x2="307.7" y2="143.8"/>
<line x1="297.5" y1="143.8" x2="307.7" y2="143.8"/>
<line x1="244.0" y1="124.4" x2="263.6" y2="222.4"/>
<line x1="198.6" y1="45.6" x2="300.3" y2="45.6"/>
<line x1="246.9" y1="202.8" x2="362.0" y2="104.6"/>
<line x1="307.2" y1="242.2" x2="365.0" y2="124.4"/>
<line x1="195.7" y1="65.4" x2="360.0" y2="124.4"/>
<line x1="326.0" y1="124.4" x2="378.0" y2="104.6"/>
<line x1="285.8" y1="65.4" x2="307.5" y2="45.6"/>
<line x1="352.0" y1="124.4" x2="361.4" y2="65.4"/>
<line x1="307.7" y1="143.8" x2="385.8" y2="104.6"/>
<line x1="195.7" y1="65.4" x2="198.8" y2="202.8"/>
<line x1="218.2" y1="143.8" x2="296.9" y2="104.6"/>
<line x1="264.1" y1="85.2" x2="307.5" y2="45.6"/>
<line x1="263.6" y1="222.4" x2="378.2" y2="85.2"/>
<line x1="239.7" y1="202.8" x2="239.7" y2="124.4"/>
<line x1="205.2" y1="56.7" x2="325.6" y2="45.6"/>
<line x1="233.0" y1="65.4" x2="360.0" y2="124.4"/>
<line x1="244.0" y1="124.4" x2="285.0" y2="85.2"/>
<line x1="233.0" y1="65.4" x2="307.5" y2="45.6"/>
<line x1="262.0" y1="143.8" x2="361.4" y2="65.4"/>
<line x1="221.3" y1="143.8" x2="239.7" y2="124.4"/>
<line x1="232.7" y1="183.2" x2="307.7" y2="143.8"/>
<line x1="307.2" y1="242.2" x2="352.0" y2="163.5"/>
<line x1="205.4" y1="202.8" x2="233.0" y2="85.2"/>
<line x1="198.8" y1="202.8" x2="362.0" y2="222.4"/>
<line x1="263.6" y1="222.4" x2="385.0" y2="85.2"/>
<line x1="198.8" y1="202.8" x2="371.2" y2="222.4"/>
<line x1="257.0" y1="143.8" x2="302.0" y2="104.6"/>
<line x1="296.9" y1="124.4" x2="339.0" y2="65.4"/>
<line x1="352.4" y1="85.2" x2="366.8" y2="222.4"/>
<line x1="195.8" y1="202.8" x2="351.3" y2="45.6"/>
<line x1="263.6" y1="222.4" x2="339.0" y2="65.4"/>
<line x1="203.9" y1="85.2" x2="325.5" y2="104.6"/>
<line x1="227.9" y1="183.2" x2="385.6" y2="222.4"/>
<line x1="307.2" y1="242.2" x2="334.5" y2="65.4"/>
<line x1="203.9" y1="85.2" x2="375.0" y2="202.8"/>
<line x1="297.5" y1="143.8" x2="368.0" y2="45.6"/>
<line x1="205.2" y1="56.7" x2="339.0" y2="65.4"/>
<line x1="242.0" y1="124.4" x2="246.9" y2="124.4"/>
<line x1="254.7" y1="45.6" x2="358.0" y2="65.4"/>
<line x1="297.5" y1="163.5" x2="307.2" y2="242.2"/>
<line x1="203.9" y1="85.2" x2="352.0" y2="104.6"/>
<line x1="221.3" y1="143.8" x2="383.0" y2="222.4"/>
<line x1="198.8" y1="202.8" x2="370.0" y2="124.4"/>
<line x1="341.2" y1="65.4" x2="349.0" y2="45.6"/>
<line x1="198.8" y1="202.8" x2="325.6" y2="45.6"/>
<line x1="245.7" y1="65.4" x2="366.8" y2="222.4"/>
<line x1="197.8" y1="163.5" x2="246.4" y2="85.2"/>
<line x1="197.8" y1="163.5" x2="385.8" y2="143.8"/>
<line x1="316.7" y1="143.8" x2="332.0" y2="124.4"/>
<line x1="197.8" y1="163.5" x2="325.5" y2="183.2"/>
<line x1="198.6" y1="45.6" x2="221.3" y2="143.8"/>
<line x1="221.0" y1="65.4" x2="378.6" y2="143.8"/>
<line x1="339.6" y1="45.6" x2="362.3" y2="143.8"/>
<line x1="307.7" y1="143.8" x2="378.6" y2="143.8"/>
<line x1="195.8" y1="202.8" x2="349.0" y2="45.6"/>
<line x1="307.7" y1="143.8" x2="325.0" y2="222.4"/>
<line x1="297.5" y1="183.2" x2="360.0" y2="124.4"/>
<line x1="255.0" y1="202.8" x2="297.5" y2="183.2"/>
<line x1="233.0" y1="65.4" x2="239.7" y2="124.4"/>
<line x1="307.7" y1="183.2" x2="385.7" y2="45.6"/>
<line x1="195.7" y1="65.4" x2="319.5" y2="45.6"/>
<line x1="362.3" y1="143.8" x2="378.0" y2="104.6"/>
<line x1="263.6" y1="222.4" x2="341.2" y2="65.4"/>
<line x1="301.0" y1="65.4" x2="371.0" y2="143.8"/>
<line x1="254.7" y1="45.6" x2="285.8" y2="65.4"/>
<line x1="196.4" y1="163.5" x2="233.0" y2="65.4"/>
<line x1="205.2" y1="56.7" x2="283.7" y2="65.4"/>
<line x1="277.0" y1="85.2" x2="371.0" y2="143.8"/>
<line x1="257.0" y1="143.8" x2="341.2" y2="65.4"/>
<line x1="205.2" y1="56.7" x2="379.0" y2="202.8"/>
<line x1="333.4" y1="45.6" x2="362.0" y2="222.4"/>
<line x1="233.0" y1="65.4" x2="301.0" y2="65.4"/>
<line x1="283.7" y1="65.4" x2="368.0" y2="45.6"/>
<line x1="195.7" y1="65.4" x2="285.0" y2="85.2"/>
<line x1="195.7" y1="65.4" x2="352.0" y2="104.6"/>
<line x1="197.8" y1="163.5" x2="263.6" y2="222.4"/>
<line x1="213.1" y1="163.5" x2="307.2" y2="242.2"/>
<line x1="233.0" y1="65.4" x2="297.5" y2="183.2"/>
<line x1="227.9" y1="183.2" x2="233.0" y2="65.4"/>
<line x1="232.7" y1="183.2" x2="256.3" y2="85.2"/>
<line x1="371.2" y1="222.4" x2="379.0" y2="202.8"/>
<line x1="205.4" y1="202.8" x2="227.0" y2="85.2"/>
<line x1="198.8" y1="202.8" x2="379.0" y2="202.8"/>
<line x1="218.2" y1="202.8" x2="371.2" y2="222.4"/>
<line x1="332.2" y1="85.2" x2="374.8" y2="65.4"/>
<line x1="212.1" y1="85.2" x2="233.0" y2="65.4"/>
<line x1="308.5" y1="104.6" x2="360.0" y2="124.4"/>
<line x1="227.9" y1="183.2" x2="322.0" y2="124.4"/>
<line x1="378.2" y1="85.2" x2="385.8" y2="104.6"/>
<line x1="203.9" y1="85.2" x2="375.0" y2="202.8"/>
<line x1="325.5" y1="104.6" x2="370.0" y2="124.4"/>
<line x1="203.9" y1="85.2" x2="307.5" y2="45.6"/>
<line x1="263.6" y1="222.4" x2="375.0" y2="202.8"/>
<line x1="263.6" y1="202.8" x2="367.0" y2="85.2"/>
<line x1="319.5" y1="45.6" x2="379.0" y2="202.8"/>
<line x1="297.5" y1="163.5" x2="385.7" y2="45.6"/>
<line x1="263.6" y1="202.8" x2="349.0" y2="45.6"/>
<line x1="317.0" y1="104.6" x2="381.4" y2="45.6"/>
<line x1="371.0" y1="104.6" x2="378.2" y2="65.4"/>
<line x1="263.6" y1="222.4" x2="333.4" y2="45.6"/>
<line x1="264.1" y1="85.2" x2="367.0" y2="104.6"/>
<line x1="285.0" y1="85.2" x2="360.0" y2="124.4"/>
<line x1="233.0" y1="65.4" x2="263.6" y2="222.4"/>
<line x1="203.9" y1="85.2" x2="307.6" y2="124.4"/>
<line x1="198.8" y1="202.8" x2="221.3" y2="143.8"/>
<line x1="197.8" y1="163.5" x2="379.7" y2="124.4"/>
<line x1="195.7" y1="65.4" x2="198.8" y2="202.8"/>
<line x1="263.6" y1="222.4" x2="307.2" y2="242.2"/>
<line x1="221.3" y1="143.8" x2="365.0" y2="124.4"/>
<line x1="195.7" y1="65.4" x2="203.9" y2="85.2"/>
<line x1="205.4" y1="202.8" x2="306.7" y2="65.4"/>
<line x1="275.4" y1="65.4" x2="362.0" y2="104.6"/>
<line x1="263.6" y1="222.4" x2="362.3" y2="143.8"/>
<line x1="239.7" y1="202.8" x2="352.0" y2="143.8"/>
<line x1="307.7" y1="143.8" x2="378.0" y2="104.6"/>
<line x1="197.8" y1="163.5" x2="385.6" y2="222.4"/>
<line x1="198.8" y1="202.8" x2="362.0" y2="222.4"/>
<line x1="263.6" y1="222.4" x2="322.0" y2="124.4"/>
<line x1="246.9" y1="202.8" x2="307.7" y2="143.8"/>
<line x1="203.9" y1="85.2" x2="221.3" y2="143.8"/>
<line x1="297.5" y1="183.2" x2="326.0" y2="124.4"/>
<line x1="195.7" y1="65.4" x2="381.4" y2="45.6"/>
<line x1="195.7" y1="65.4" x2="197.8" y2="163.5"/>
<line x1="203.9" y1="85.2" x2="239.7" y2="124.4"/>
<line x1="307.5" y1="45.6" x2="374.8" y2="65.4"/>
<line x1="221.3" y1="143.8" x2="239.7" y2="124.4"/>
<line x1="246.9" y1="124.4" x2="366.8" y2="222.4"/>
<line x1="197.8" y1="163.5" x2="307.7" y2="163.5"/>
<line x1="246.9" y1="124.4" x2="381.4" y2="45.6"/>
<line x1="306.7" y1="65.4" x2="307.5" y2="45.6"/>
<line x1="283.7" y1="65.4" x2="307.2" y2="242.2"/>
<line x1="306.7" y1="65.4" x2="332.2" y2="85.2"/>
<line x1="197.8" y1="163.5" x2="232.7" y2="183.2"/>
<line x1="212.1" y1="85.2" x2="358.0" y2="65.4"/>
<line x1="361.4" y1="85.2" x2="362.0" y2="104.6"/>
<line x1="203.9" y1="85.2" x2="319.5" y2="45.6"/>
<line x1="218.2" y1="202.8" x2="352.0" y2="163.5"/>
<line x1="360.0" y1="124.4" x2="385.8" y2="143.8"/>
<line x1="325.0" y1="222.4" x2="352.0" y2="124.4"/>
<line x1="326.0" y1="124.4" x2="379.0" y2="202.8"/>
<line x1="198.6" y1="45.6" x2="233.0" y2="65.4"/>
<line x1="246.9" y1="124.4" x2="308.5" y2="104.6"/>
<line x1="221.3" y1="143.8" x2="255.0" y2="202.8"/>
<line x1="246.9" y1="124.4" x2="376.0" y2="85.2"/>
<line x1="218.2" y1="202.8" x2="221.3" y2="143.8"/>
<line x1="203.9" y1="85.2" x2="233.0" y2="85.2"/>
<line x1="245.7" y1="65.4" x2="246.9" y2="124.4"/>
<line x1="233.0" y1="65.4" x2="339.9" y2="222.4"/>
<line x1="221.3" y1="143.8" x2="284.8" y2="45.6"/>
<line x1="221.0" y1="65.4" x2="325.6" y2="45.6"/>
<line x1="257.0" y1="143.8" x2="367.0" y2="85.2"/>
<line x1="198.8" y1="202.8" x2="361.4" y2="85.2"/>
<line x1="233.0" y1="222.4" x2="385.0" y2="85.2"/>
<line x1="246.9" y1="124.4" x2="339.6" y2="45.6"/>
<line x1="307.5" y1="45.6" x2="361.4" y2="85.2"/>
<line x1="197.8" y1="163.5" x2="325.0" y2="222.4"/>
<line x1="205.2" y1="56.7" x2="307.7" y2="183.2"/>
<line x1="198.8" y1="202.8" x2="332.0" y2="124.4"/>
<line x1="198.8" y1="202.8" x2="297.5" y2="163.5"/>
<line x1="198.8" y1="202.8" x2="333.4" y2="45.6"/>
<line x1="197.8" y1="163.5" x2="297.5" y2="163.5"/>
<line x1="198.6" y1="45.6" x2="371.5" y2="85.2"/>
<line x1="197.8" y1="163.5" x2="203.9" y2="85.2"/>
<line x1="195.7" y1="65.4" x2="307.7" y2="163.5"/>
<line x1="307.7" y1="143.8" x2="319.5" y2="45.6"/>
<line x1="264.1" y1="85.2" x2="307.2" y2="242.2"/>
<line x1="195.7" y1="65.4" x2="368.0" y2="45.6"/>
<line x1="221.3" y1="202.8" x2="307.7" y2="163.5"/>
<line x1="198.6" y1="45.6" x2="358.0" y2="45.6"/>
<line x1="198.6" y1="45.6" x2="213.1" y2="163.5"/>
<line x1="233.0" y1="65.4" x2="325.5" y2="104.6"/>
<line x1="198.8" y1="202.8" x2="336.3" y2="85.2"/>
<line x1="307.2" y1="242.2" x2="334.5" y2="65.4"/>
<line x1="205.2" y1="56.7" x2="358.0" y2="45.6"/>
<line x1="263.6" y1="202.8" x2="326.0" y2="124.4"/>
<line x1="221.3" y1="143.8" x2="385.8" y2="104.6"/>
<line x1="197.8" y1="163.5" x2="262.0" y2="143.8"/>
<line x1="198.6" y1="45.6" x2="198.8" y2="202.8"/>
<line x1="198.6" y1="45.6" x2="285.8" y2="65.4"/>
<line x1="205.2" y1="56.7" x2="284.8" y2="45.6"/>
<line x1="198.6" y1="45.6" x2="379.0" y2="202.8"/>
<line x1="307.7" y1="143.8" x2="362.0" y2="222.4"/>
<line x1="361.4" y1="85.2" x2="375.0" y2="202.8"/>
<line x1="198.8" y1="202.8" x2="264.2" y2="143.8"/>
<line x1="325.6" y1="45.6" x2="378.6" y2="143.8"/>
<line x1="197.8" y1="163.5" x2="307.2" y2="242.2"/>
<line x1="203.9" y1="85.2" x2="332.2" y2="85.2"/>
<line x1="334.5" y1="65.4" x2="339.9" y2="222.4"/>
<line x1="197.8" y1="163.5" x2="307.7" y2="163.5"/>
<line x1="263.6" y1="222.4" x2="385.8" y2="143.8"/>
<line x1="307.7" y1="143.8" x2="332.2" y2="85.2"/>
<line x1="205.4" y1="202.8" x2="205.4" y2="202.8"/>
<line x1="246.9" y1="124.4" x2="379.0" y2="202.8"/>
<line x1="264.1" y1="85.2" x2="307.5" y2="45.6"/>
<line x1="196.4" y1="163.5" x2="246.9" y2="124.4"/>
<line x1="233.0" y1="85.2" x2="339.6" y2="45.6"/>
<line x1="246.9" y1="124.4" x2="300.3" y2="45.6"/>
<line x1="307.2" y1="242.2" x2="362.5" y2="45.6"/>
<line x1="239.7" y1="202.8" x2="351.3" y2="45.6"/>
<line x1="218.2" y1="143.8" x2="307.5" y2="45.6"/>
<line x1="246.9" y1="124.4" x2="285.8" y2="65.4"/>
<line x1="203.9" y1="85.2" x2="306.7" y2="65.4"/>
<line x1="307.5" y1="45.6" x2="371.5" y2="85.2"/>
<line x1="198.6" y1="45.6" x2="233.0" y2="85.2"/>
<line x1="203.9" y1="85.2" x2="263.7" y2="45.6"/>
<line x1="203.9" y1="85.2" x2="371.5" y2="85.2"/>
<line x1="221.3" y1="143.8" x2="366.8" y2="222.4"/>
<line x1="246.9" y1="124.4" x2="365.0" y2="124.4"/>
<line x1="263.6" y1="202.8" x2="336.3" y2="85.2"/>
<line x1="205.2" y1="56.7" x2="339.6" y2="45.6"/>
<line x1="306.7" y1="65.4" x2="307.5" y2="45.6"/>
<line x1="283.7" y1="65.4" x2="361.4" y2="85.2"/>
<line x1="233.0" y1="65.4" x2="367.0" y2="104.6"/>
<line x1="205.4" y1="202.8" x2="296.9" y2="104.6"/>
<line x1="233.0" y1="222.4" x2="301.0" y2="65.4"/>
<line x1="262.0" y1="143.8" x2="307.7" y2="163.5"/>
<line x1="221.3" y1="202.8" x2="306.7" y2="65.4"/>
<line x1="218.2" y1="202.8" x2="307.2" y2="242.2"/>
<line x1="334.5" y1="65.4" x2="367.0" y2="85.2"/>
<line x1="198.8" y1="202.8" x2="326.0" y2="124.4"/>
<line x1="195.7" y1="65.4" x2="257.0" y2="143.8"/>
<line x1="198.8" y1="202.8" x2="385.7" y2="45.6"/>
<line x1="307.7" y1="183.2" x2="325.5" y2="143.8"/>
<line x1="371.2" y1="222.4" x2="381.4" y2="45.6"/>
<line x1="197.8" y1="163.5" x2="368.0" y2="45.6"/>
<line x1="205.4" y1="202.8" x2="205.4" y2="202.8"/>
<line x1="233.0" y1="65.4" x2="370.0" y2="124.4"/>
<line x1="233.0" y1="65.4" x2="378.2" y2="85.2"/>
<line x1="257.6" y1="202.8" x2="297.5" y2="183.2"/>
<line x1="233.0" y1="65.4" x2="352.0" y2="163.5"/>
<line x1="246.9" y1="124.4" x2="352.0" y2="163.5"/>
<line x1="307.2" y1="242.2" x2="325.6" y2="45.6"/>
<line x1="198.6" y1="45.6" x2="332.2" y2="85.2"/>
<line x1="227.0" y1="85.2" x2="319.5" y2="45.6"/>
<line x1="221.3" y1="143.8" x2="368.0" y2="45.6"/>
<line x1="339.6" y1="45.6" x2="340.1" y2="85.2"/>
<line x1="242.0" y1="124.4" x2="263.6" y2="222.4"/>
<line x1="197.8" y1="163.5" x2="263.6" y2="202.8"/>
<line x1="203.9" y1="85.2" x2="296.9" y2="124.4"/>
<line x1="203.9" y1="85.2" x2="227.9" y2="183.2"/>
<line x1="233.0" y1="65.4" x2="233.0" y2="85.2"/>
<line x1="246.9" y1="124.4" x2="246.9" y2="124.4"/>
<line x1="256.3" y1="85.2" x2="362.3" y2="143.8"/>
<line x1="198.8" y1="202.8" x2="362.0" y2="202.8"/>
<line x1="221.3" y1="143.8" x2="385.0" y2="85.2"/>
<line x1="296.9" y1="124.4" x2="307.5" y2="45.6"/>
<line x1="198.8" y1="202.8" x2="362.3" y2="143.8"/>
<line x1="326.0" y1="124.4" x2="340.0" y2="104.6"/>
<line x1="263.7" y1="45.6" x2="383.0" y2="222.4"/>
<line x1="227.0" y1="85.2" x2="307.7" y2="143.8"/>
<line x1="195.7" y1="65.4" x2="351.3" y2="45.6"/>
<line x1="246.9" y1="124.4" x2="263.6" y2="202.8"/>
<line x1="246.9" y1="124.4" x2="316.7" y2="143.8"/>
<line x1="263.6" y1="222.4" x2="325.6" y2="45.6"/>
<line x1="198.6" y1="45.6" x2="242.0" y2="124.4"/>
<line x1="197.8" y1="163.5" x2="358.0" y2="45.6"/>
<line x1="239.7" y1="202.8" x2="275.4" y2="65.4"/>
<line x1="233.0" y1="65.4" x2="325.0" y2="222.4"/>
<line x1="203.9" y1="85.2" x2="221.3" y2="143.8"/>
<line x1="205.4" y1="202.8" x2="333.4" y2="45.6"/>
<line x1="259.7" y1="85.2" x2="352.0" y2="104.6"/>
<line x1="227.9" y1="183.2" x2="362.0" y2="222.4"/>
<line x1="221.3" y1="143.8" x2="374.8" y2="65.4"/>
<line x1="195.7" y1="65.4" x2="349.0" y2="45.6"/>
<line x1="307.7" y1="143.8" x2="368.0" y2="45.6"/>
<line x1="246.9" y1="124.4" x2="366.8" y2="222.4"/>
<line x1="221.3" y1="143.8" x2="264.1" y2="85.2"/>
<line x1="205.2" y1="56.7" x2="378.2" y2="65.4"/>
<line x1="285.8" y1="65.4" x2="352.0" y2="163.5"/>
<line x1="203.9" y1="85.2" x2="239.7" y2="202.8"/>
<line x1="221.3" y1="143.8" x2="233.0" y2="85.2"/>
<line x1="378.2" y1="65.4" x2="383.0" y2="222.4"/>
<line x1="198.8" y1="202.8" x2="308.5" y2="104.6"/>
<line x1="239.7" y1="124.4" x2="319.5" y2="45.6"/>
<line x1="307.2" y1="242.2" x2="334.5" y2="65.4"/>
<line x1="203.9" y1="85.2" x2="385.8" y2="104.6"/>
<line x1="195.7" y1="65.4" x2="307.7" y2="143.8"/>
<line x1="221.3" y1="143.8" x2="233.0" y2="222.4"/>
<line x1="221.3" y1="202.8" x2="340.1" y2="85.2"/>
<line x1="197.8" y1="163.5" x2="285.0" y2="85.2"/>
<line x1="213.1" y1="163.5" x2="360.0" y2="124.4"/>
<line x1="233.0" y1="65.4" x2="333.4" y2="45.6"/>
<line x1="197.8" y1="163.5" x2="365.0" y2="124.4"/>
<line x1="333.4" y1="45.6" x2="361.4" y2="65.4"/>
<line x1="205.4" y1="202.8" x2="221.0" y2="65.4"/>
<line x1="221.0" y1="65.4" x2="233.0" y2="65.4"/>
<line x1="246.9" y1="124.4" x2="254.7" y2="45.6"/>
<line x1="195.8" y1="202.8" x2="381.4" y2="45.6"/>
<line x1="198.8" y1="202.8" x2="257.6" y2="202.8"/>
<line x1="221.3" y1="143.8" x2="351.3" y2="45.6"/>
<line x1="198.8" y1="202.8" x2="264.1" y2="85.2"/>
<line x1="263.6" y1="222.4" x2="277.0" y2="85.2"/>
<line x1="213.1" y1="163.5" x2="263.6" y2="202.8"/>
<line x1="197.8" y1="163.5" x2="203.9" y2="85.2"/>
<line x1="246.9" y1="124.4" x2="277.0" y2="85.2"/>
<line x1="307.7" y1="143.8" x2="361.4" y2="65.4"/>
<line x1="351.3" y1="45.6" x2="385.6" y2="222.4"/>
<line x1="376.0" y1="85.2" x2="378.6" y2="143.8"/>
<line x1="195.8" y1="202.8" x2="196.4" y2="163.5"/>
<line x1="198.6" y1="45.6" x2="244.0" y2="124.4"/>
<line x1="205.2" y1="56.7" x2="212.1" y2="85.2"/>
<line x1="205.4" y1="202.8" x2="297.5" y2="143.8"/>
<line x1="195.7" y1="65.4" x2="340.1" y2="85.2"/>
<line x1="197.8" y1="163.5" x2="203.9" y2="85.2"/>
<line x1="340.0" y1="104.6" x2="370.4" y2="45.6"/>
<line x1="198.8" y1="202.8" x2="285.8" y2="65.4"/>
<line x1="360.0" y1="124.4" x2="362.0" y2="202.8"/>
<line x1="197.8" y1="163.5" x2="218.2" y2="202.8"/>
<line x1="257.6" y1="202.8" x2="340.0" y2="124.4"/>
<line x1="221.3" y1="143.8" x2="246.9" y2="202.8"/>
<line x1="322.0" y1="124.4" x2="361.4" y2="85.2"/>
<line x1="277.0" y1="85.2" x2="326.0" y2="124.4"/>
<line x1="259.7" y1="85.2" x2="365.0" y2="124.4"/>
<line x1="233.0" y1="65.4" x2="361.4" y2="65.4"/>
<line x1="198.6" y1="45.6" x2="352.0" y2="163.5"/>
<line x1="277.0" y1="85.2" x2="334.5" y2="65.4"/>
<line x1="246.4" y1="85.2" x2="341.2" y2="65.4"/>
<line x1="362.3" y1="143.8" x2="385.6" y2="222.4"/>
<line x1="242.0" y1="124.4" x2="263.7" y2="65.4"/>
<line x1="205.4" y1="202.8" x2="307.2" y2="242.2"/>
<line x1="307.2" y1="242.2" x2="378.2" y2="85.2"/>
<line x1="221.3" y1="143.8" x2="362.3" y2="143.8"/>
<line x1="257.0" y1="143.8" x2="296.9" y2="124.4"/>
<line x1="307.2" y1="242.2" x2="333.3" y2="222.4"/>
<line x1="197.8" y1="163.5" x2="352.0" y2="104.6"/>
<line x1="203.9" y1="85.2" x2="239.7" y2="202.8"/>
<line x1="197.8" y1="163.5" x2="277.0" y2="85.2"/>
<line x1="218.2" y1="202.8" x2="383.0" y2="222.4"/>
<line x1="221.3" y1="143.8" x2="307.6" y2="124.4"/>
<line x1="307.5" y1="45.6" x2="378.6" y2="143.8"/>
<line x1="205.2" y1="56.7" x2="325.5" y2="143.8"/>
<line x1="198.6" y1="45.6" x2="307.2" y2="222.4"/>
<line x1="195.8" y1="202.8" x2="196.4" y2="163.5"/>
<line x1="273.5" y1="45.6" x2="316.7" y2="143.8"/>
<line x1="221.3" y1="143.8" x2="352.0" y2="143.8"/>
<line x1="197.8" y1="163.5" x2="285.8" y2="65.4"/>
<line x1="212.1" y1="85.2" x2="370.0" y2="124.4"/>
<line x1="197.8" y1="163.5" x2="370.4" y2="45.6"/>
<line x1="205.4" y1="202.8" x2="246.9" y2="124.4"/>
<line x1="198.6" y1="45.6" x2="360.0" y2="124.4"/>
<line x1="263.6" y1="222.4" x2="325.5" y2="143.8"/>
<line x1="205.4" y1="202.8" x2="376.0" y2="85.2"/>
<line x1="307.2" y1="242.2" x2="339.0" y2="65.4"/>
<line x1="205.4" y1="202.8" x2="296.9" y2="104.6"/>
<line x1="203.9" y1="85.2" x2="296.9" y2="124.4"/>
<line x1="273.3" y1="85.2" x2="339.0" y2="65.4"/>
<line x1="195.8" y1="202.8" x2="233.0" y2="65.4"/>
<line x1="197.8" y1="163.5" x2="378.6" y2="143.8"/>
<line x1="307.5" y1="45.6" x2="332.2" y2="85.2"/>
<line x1="195.7" y1="65.4" x2="196.4" y2="163.5"/>
<line x1="195.8" y1="202.8" x2="307.7" y2="143.8"/>
<line x1="198.8" y1="202.8" x2="326.0" y2="124.4"/>
<line x1="233.0" y1="65.4" x2="307.7" y2="143.8"/>
<line x1="246.9" y1="124.4" x2="370.0" y2="124.4"/>
<line x1="198.6" y1="45.6" x2="375.0" y2="124.4"/>
<line x1="205.4" y1="202.8" x2="275.4" y2="65.4"/>
<line x1="297.5" y1="183.2" x2="379.7" y2="124.4"/>
<line x1="296.9" y1="104.6" x2="370.0" y2="124.4"/>
<line x1="205.4" y1="202.8" x2="245.7" y2="65.4"/>
<line x1="221.3" y1="143.8" x2="307.5" y2="45.6"/>
<line x1="233.0" y1="65.4" x2="307.5" y2="45.6"/>
<line x1="285.6" y1="202.8" x2="307.5" y2="45.6"/>
<line x1="213.1" y1="163.5" x2="246.9" y2="124.4"/>
<line x1="198.8" y1="202.8" x2="302.0" y2="104.6"/>
<line x1="203.9" y1="85.2" x2="257.0" y2="143.8"/>
<line x1="325.5" y1="143.8" x2="374.8" y2="65.4"/>
<line x1="297.5" y1="143.8" x2="360.0" y2="124.4"/>
<line x1="367.0" y1="85.2" x2="385.6" y2="222.4"/>
<line x1="195.8" y1="202.8" x2="263.6" y2="222.4"/>
<line x1="307.2" y1="222.4" x2="340.1" y2="85.2"/>
<line x1="246.9" y1="202.8" x2="339.0" y2="65.4"/>
<line x1="213.1" y1="163.5" x2="333.3" y2="222.4"/>
<line x1="332.2" y1="85.2" x2="360.0" y2="124.4"/>
<line x1="325.0" y1="222.4" x2="375.0" y2="124.4"/>
<line x1="307.5" y1="45.6" x2="362.5" y2="45.6"/>
<line x1="196.4" y1="163.5" x2="197.8" y2="163.5"/>
<line x1="203.9" y1="85.2" x2="362.0" y2="104.6"/>
<line x1="198.6" y1="45.6" x2="257.0" y2="143.8"/>
<line x1="195.7" y1="65.4" x2="264.1" y2="85.2"/>
<line x1="263.6" y1="222.4" x2="371.5" y2="85.2"/>
<line x1="307.7" y1="143.8" x2="325.5" y2="143.8"/>
<line x1="197.8" y1="163.5" x2="273.3" y2="85.2"/>
<line x1="277.0" y1="85.2" x2="307.7" y2="183.2"/>
<line x1="218.2" y1="202.8" x2="362.3" y2="143.8"/>
<line x1="246.9" y1="124.4" x2="255.0" y2="202.8"/>
<line x1="277.0" y1="85.2" x2="307.2" y2="242.2"/>
<line x1="205.4" y1="202.8" x2="307.2" y2="222.4"/>
<line x1="307.5" y1="45.6" x2="333.3" y2="222.4"/>
<line x1="262.0" y1="143.8" x2="307.7" y2="163.5"/>
<line x1="277.0" y1="85.2" x2="379.0" y2="202.8"/>
<line x1="205.4" y1="202.8" x2="221.3" y2="143.8"/>
<line x1="203.9" y1="85.2" x2="370.0" y2="124.4"/>
<line x1="212.1" y1="85.2" x2="221.3" y2="143.8"/>
<line x1="227.0" y1="85.2" x2="375.0" y2="202.8"/>
<line x1="221.3" y1="202.8" x2="362.3" y2="143.8"/>
<line x1="262.0" y1="143.8" x2="307.2" y2="242.2"/>
<line x1="263.7" y1="65.4" x2="361.4" y2="85.2"/>
<line x1="205.4" y1="202.8" x2="307.6" y2="124.4"/>
<line x1="264.2" y1="143.8" x2="307.7" y2="183.2"/>
<line x1="197.8" y1="163.5" x2="285.0" y2="85.2"/>
<line x1="263.6" y1="222.4" x2="336.3" y2="85.2"/>
<line x1="306.7" y1="65.4" x2="385.8" y2="143.8"/>
<line x1="195.7" y1="65.4" x2="365.0" y2="124.4"/>
<line x1="233.0" y1="222.4" x2="273.3" y2="85.2"/>
<line x1="198.8" y1="202.8" x2="352.4" y2="85.2"/>
<line x1="301.0" y1="65.4" x2="325.5" y2="143.8"/>
<line x1="361.4" y1="85.2" x2="379.0" y2="202.8"/>
<line x1="259.7" y1="85.2" x2="307.7" y2="143.8"/>
<line x1="221.3" y1="143.8" x2="339.0" y2="65.4"/>
<line x1="360.0" y1="124.4" x2="366.8" y2="222.4"/>
<line x1="205.2" y1="56.7" x2="375.0" y2="202.8"/>
<line x1="197.8" y1="163.5" x2="302.0" y2="104.6"/>
<line x1="339.0" y1="65.4" x2="376.0" y2="85.2"/>
<line x1="362.3" y1="143.8" x2="375.0" y2="202.8"/>
<line x1="203.9" y1="85.2" x2="352.0" y2="143.8"/>
<line x1="332.2" y1="85.2" x2="378.0" y2="104.6"/>
<line x1="361.4" y1="85.2" x2="362.0" y2="222.4"/>
<line x1="257.0" y1="143.8" x2="301.0" y2="65.4"/>
<line x1="263.6" y1="222.4" x2="374.8" y2="65.4"/>
<line x1="255.0" y1="202.8" x2="296.9" y2="104.6"/>
<line x1="205.2" y1="56.7" x2="375.0" y2="124.4"/>
<line x1="198.8" y1="202.8" x2="385.8" y2="104.6"/>
<line x1="362.3" y1="143.8" x2="374.8" y2="65.4"/>
<line x1="205.4" y1="202.8" x2="325.5" y2="183.2"/>
<line x1="307.7" y1="143.8" x2="325.5" y2="183.2"/>
<line x1="195.8" y1="202.8" x2="367.0" y2="104.6"/>
<line x1="196.4" y1="163.5" x2="203.9" y2="85.2"/>
<line x1="198.6" y1="45.6" x2="264.1" y2="85.2"/>
<line x1="198.6" y1="45.6" x2="376.0" y2="85.2"/>
<line x1="339.9" y1="222.4" x2="361.4" y2="65.4"/>
<line x1="362.3" y1="143.8" x2="371.5" y2="85.2"/>
<line x1="307.7" y1="143.8" x2="307.7" y2="143.8"/>
<line x1="195.7" y1="65.4" x2="378.2" y2="85.2"/>
<line x1="233.0" y1="222.4" x2="385.7" y2="45.6"/>
<line x1="203.9" y1="85.2" x2="227.0" y2="85.2"/>
<line x1="197.8" y1="163.5" x2="256.3" y2="85.2"/>
<line x1="205.2" y1="56.7" x2="221.0" y2="65.4"/>
<line x1="205.2" y1="56.7" x2="371.2" y2="222.4"/>
<line x1="198.8" y1="202.8" x2="218.2" y2="202.8"/>
<line x1="198.6" y1="45.6" x2="263.6" y2="222.4"/>
<line x1="232.7" y1="183.2" x2="307.7" y2="143.8"/>
<line x1="198.6" y1="45.6" x2="221.3" y2="143.8"/>
<line x1="197.8" y1="163.5" x2="316.7" y2="143.8"/>
<line x1="246.9" y1="124.4" x2="376.0" y2="85.2"/>
<line x1="218.2" y1="202.8" x2="246.9" y2="124.4"/>
<line x1="296.9" y1="104.6" x2="375.0" y2="124.4"/>
<line x1="233.0" y1="65.4" x2="254.7" y2="45.6"/>
<line x1="233.0" y1="65.4" x2="246.4" y2="85.2"/>
<line x1="205.2" y1="56.7" x2="213.1" y2="163.5"/>
<line x1="307.2" y1="242.2" x2="334.5" y2="65.4"/>
<line x1="307.2" y1="242.2" x2="340.0" y2="104.6"/>
<line x1="198.6" y1="45.6" x2="307.7" y2="163.5"/>
<line x1="197.8" y1="163.5" x2="296.9" y2="104.6"/>
<line x1="307.2" y1="242.2" x2="362.0" y2="222.4"/>
<line x1="246.9" y1="124.4" x2="378.6" y2="143.8"/>
<line x1="371.5" y1="85.2" x2="383.0" y2="222.4"/>
<line x1="340.0" y1="124.4" x2="370.4" y2="45.6"/>
<line x1="198.8" y1="202.8" x2="333.3" y2="222.4"/>
<line x1="203.9" y1="85.2" x2="212.1" y2="85.2"/>
<line x1="195.7" y1="65.4" x2="340.0" y2="124.4"/>
<line x1="264.1" y1="85.2" x2="296.9" y2="104.6"/>
<line x1="203.9" y1="85.2" x2="341.2" y2="65.4"/>
<line x1="205.2" y1="56.7" x2="375.0" y2="202.8"/>
<line x1="232.7" y1="183.2" x2="300.3" y2="45.6"/>
<line x1="198.8" y1="202.8" x2="254.7" y2="45.6"/>
<line x1="221.3" y1="143.8" x2="375.0" y2="202.8"/>
<line x1="262.0" y1="143.8" x2="351.3" y2="45.6"/>
<line x1="285.6" y1="202.8" x2="340.0" y2="124.4"/>
<line x1="246.9" y1="124.4" x2="340.0" y2="124.4"/>
<line x1="245.7" y1="65.4" x2="352.0" y2="124.4"/>
<line x1="307.7" y1="143.8" x2="349.0" y2="45.6"/>
<line x1="307.7" y1="143.8" x2="340.1" y2="85.2"/>
<line x1="195.7" y1="65.4" x2="197.8" y2="163.5"/>
<line x1="246.9" y1="124.4" x2="362.0" y2="222.4"/>
<line x1="195.7" y1="65.4" x2="233.0" y2="65.4"/>
<line x1="332.0" y1="124.4" x2="366.8" y2="222.4"/>
<line x1="254.7" y1="45.6" x2="362.0" y2="222.4"/>
<line x1="197.8" y1="163.5" x2="325.0" y2="222.4"/>
<line x1="218.2" y1="143.8" x2="297.5" y2="183.2"/>
<line x1="197.8" y1="163.5" x2="198.8" y2="202.8"/>
<line x1="307.2" y1="242.2" x2="319.5" y2="45.6"/>
<line x1="198.8" y1="202.8" x2="371.0" y2="104.6"/>
<line x1="367.0" y1="104.6" x2="367.0" y2="85.2"/>
<line x1="307.7" y1="143.8" x2="378.0" y2="104.6"/>
<line x1="297.5" y1="183.2" x2="375.0" y2="202.8"/>
<line x1="221.3" y1="143.8" x2="362.5" y2="45.6"/>
<line x1="297.5" y1="163.5" x2="351.3" y2="45.6"/>
<line x1="195.7" y1="65.4" x2="365.0" y2="124.4"/>
<line x1="195.7" y1="65.4" x2="333.3" y2="222.4"/>
<line x1="205.4" y1="202.8" x2="297.5" y2="183.2"/>
<line x1="198.6" y1="45.6" x2="325.5" y2="143.8"/>
<line x1="197.8" y1="163.5" x2="325.5" y2="143.8"/>
<line x1="197.8" y1="163.5" x2="239.7" y2="124.4"/>
<line x1="195.7" y1="65.4" x2="302.0" y2="104.6"/>
<line x1="227.9" y1="183.2" x2="319.5" y2="45.6"/>
<line x1="285.8" y1="65.4" x2="297.5" y2="163.5"/>
<line x1="205.4" y1="202.8" x2="333.3" y2="222.4"/>
<line x1="205.4" y1="202.8" x2="361.4" y2="85.2"/>
<line x1="198.6" y1="45.6" x2="256.3" y2="85.2"/>
<line x1="275.4" y1="65.4" x2="340.1" y2="85.2"/>
<line x1="213.1" y1="163.5" x2="378.2" y2="65.4"/>
<line x1="233.0" y1="65.4" x2="322.0" y2="124.4"/>
<line x1="195.7" y1="65.4" x2="307.7" y2="183.2"/>
<line x1="195.7" y1="65.4" x2="246.4" y2="85.2"/>
<line x1="307.5" y1="45.6" x2="307.7" y2="183.2"/>
<line x1="218.2" y1="202.8" x2="307.7" y2="143.8"/>
<line x1="198.6" y1="45.6" x2="367.0" y2="104.6"/>
<line x1="257.0" y1="143.8" x2="307.2" y2="242.2"/>
<line x1="205.4" y1="202.8" x2="376.0" y2="85.2"/>
<line x1="246.9" y1="124.4" x2="352.4" y2="85.2"/>
<line x1="205.4" y1="202.8" x2="340.0" y2="104.6"/>
<line x1="218.2" y1="143.8" x2="302.0" y2="104.6"/>
<line x1="218.2" y1="143.8" x2="263.7" y2="65.4"/>
<line x1="198.6" y1="45.6" x2="213.1" y2="163.5"/>
<line x1="203.9" y1="85.2" x2="325.5" y2="104.6"/>
<line x1="244.0" y1="124.4" x2="385.7" y2="45.6"/>
<line x1="262.0" y1="143.8" x2="367.0" y2="85.2"/>
<line x1="197.8" y1="163.5" x2="378.2" y2="85.2"/>
<line x1="246.9" y1="202.8" x2="334.5" y2="65.4"/>
<line x1="198.6" y1="45.6" x2="213.1" y2="163.5"/>
<line x1="203.9" y1="85.2" x2="385.6" y2="222.4"/>
<line x1="233.0" y1="65.4" x2="352.0" y2="124.4"/>
<line x1="205.2" y1="56.7" x2="301.0" y2="65.4"/>
<line x1="246.9" y1="124.4" x2="297.5" y2="163.5"/>
<line x1="307.5" y1="45.6" x2="341.2" y2="65.4"/>
<line x1="197.8" y1="163.5" x2="262.0" y2="143.8"/>
<line x1="296.9" y1="104.6" x2="375.0" y2="124.4"/>
<line x1="246.9" y1="124.4" x2="365.0" y2="124.4"/>
<line x1="352.0" y1="163.5" x2="381.4" y2="45.6"/>
<line x1="300.3" y1="45.6" x2="307.6" y2="124.4"/>
<line x1="205.4" y1="202.8" x2="246.9" y2="124.4"/>
<line x1="264.1" y1="85.2" x2="379.0" y2="202.8"/>
<line x1="246.9" y1="124.4" x2="264.1" y2="85.2"/>
<line x1="307.5" y1="45.6" x2="375.0" y2="202.8"/>
<line x1="307.5" y1="45.6" x2="371.2" y2="222.4"/>
<line x1="198.8" y1="202.8" x2="371.0" y2="143.8"/>
<line x1="263.6" y1="222.4" x2="325.5" y2="143.8"/>
<line x1="375.0" y1="202.8" x2="379.7" y2="124.4"/>
<line x1="239.7" y1="202.8" x2="263.7" y2="45.6"/>
<line x1="263.6" y1="222.4" x2="340.0" y2="124.4"/>
<line x1="221.3" y1="143.8" x2="334.5" y2="65.4"/>
<line x1="360.0" y1="124.4" x2="371.0" y2="104.6"/>
<line x1="221.3" y1="143.8" x2="254.7" y2="45.6"/>
<line x1="218.2" y1="143.8" x2="273.5" y2="45.6"/>
<line x1="358.0" y1="45.6" x2="378.6" y2="143.8"/>
<line x1="307.7" y1="143.8" x2="333.3" y2="222.4"/>
<line x1="233.0" y1="222.4" x2="263.6" y2="222.4"/>
<line x1="205.2" y1="56.7" x2="244.0" y2="124.4"/>
<line x1="197.8" y1="163.5" x2="319.5" y2="45.6"/>
<line x1="205.4" y1="202.8" x2="351.3" y2="45.6"/>
<line x1="221.3" y1="143.8" x2="376.0" y2="85.2"/>
<line x1="198.8" y1="202.8" x2="332.0" y2="124.4"/>
<line x1="273.5" y1="45.6" x2="340.1" y2="85.2"/>
<line x1="273.5" y1="45.6" x2="378.2" y2="85.2"/>
<line x1="198.8" y1="202.8" x2="358.0" y2="65.4"/>
<line x1="218.2" y1="202.8" x2="264.2" y2="143.8"/>
<line x1="205.4" y1="202.8" x2="285.6" y2="202.8"/>
<line x1="263.6" y1="222.4" x2="332.0" y2="124.4"/>
<line x1="195.7" y1="65.4" x2="246.9" y2="124.4"/>
<line x1="195.7" y1="65.4" x2="218.2" y2="143.8"/>
<line x1="205.4" y1="202.8" x2="325.5" y2="104.6"/>
<line x1="263.6" y1="222.4" x2="365.0" y2="124.4"/>
<line x1="197.8" y1="163.5" x2="264.1" y2="85.2"/>
<line x1="205.2" y1="56.7" x2="332.2" y2="85.2"/>
<line x1="246.9" y1="202.8" x2="332.0" y2="124.4"/>
<line x1="195.8" y1="202.8" x2="221.3" y2="143.8"/>
<line x1="264.2" y1="143.8" x2="283.7" y2="65.4"/>
<line x1="263.6" y1="222.4" x2="325.5" y2="143.8"/>
<line x1="198.6" y1="45.6" x2="255.0" y2="202.8"/>
<line x1="307.5" y1="45.6" x2="362.0" y2="104.6"/>
<line x1="326.0" y1="124.4" x2="340.1" y2="85.2"/>
<line x1="263.6" y1="222.4" x2="385.7" y2="45.6"/>
<line x1="213.1" y1="163.5" x2="218.2" y2="202.8"/>
<line x1="361.4" y1="85.2" x2="378.0" y2="104.6"/>
<line x1="198.6" y1="45.6" x2="378.0" y2="104.6"/>
<line x1="317.0" y1="104.6" x2="361.4" y2="85.2"/>
<line x1="307.2" y1="242.2" x2="339.0" y2="65.4"/>
<line x1="307.7" y1="143.8" x2="340.1" y2="85.2"/>
<line x1="198.6" y1="45.6" x2="283.7" y2="65.4"/>
<line x1="203.9" y1="85.2" x2="263.6" y2="222.4"/>
<line x1="198.8" y1="202.8" x2="325.0" y2="222.4"/>
<line x1="221.3" y1="143.8" x2="362.0" y2="202.8"/>
<line x1="205.2" y1="56.7" x2="361.4" y2="85.2"/>
<line x1="325.5" y1="143.8" x2="385.7" y2="45.6"/>
<line x1="198.6" y1="45.6" x2="277.0" y2="85.2"/>
<line x1="195.7" y1="65.4" x2="375.0" y2="124.4"/>
<line x1="307.5" y1="45.6" x2="325.5" y2="143.8"/>
<line x1="325.5" y1="104.6" x2="362.0" y2="202.8"/>
<line x1="302.0" y1="104.6" x2="365.0" y2="124.4"/>
<line x1="203.9" y1="85.2" x2="352.0" y2="104.6"/>
<line x1="246.9" y1="124.4" x2="264.2" y2="143.8"/>
<line x1="227.0" y1="85.2" x2="246.9" y2="202.8"/>
<line x1="263.6" y1="222.4" x2="307.7" y2="163.5"/>
<line x1="205.4" y1="202.8" x2="300.3" y2="45.6"/>
<line x1="221.0" y1="65.4" x2="385.8" y2="104.6"/>
<line x1="197.8" y1="163.5" x2="341.2" y2="65.4"/>
<line x1="246.9" y1="124.4" x2="275.4" y2="65.4"/>
<line x1="198.6" y1="45.6" x2="213.1" y2="163.5"/>
<line x1="307.7" y1="183.2" x2="352.0" y2="104.6"/>
<line x1="198.8" y1="202.8" x2="339.6" y2="45.6"/>
<line x1="332.2" y1="85.2" x2="352.0" y2="143.8"/>
<line x1="264.2" y1="143.8" x2="307.7" y2="143.8"/>
<line x1="300.3" y1="45.6" x2="308.5" y2="104.6"/>
<line x1="307.7" y1="143.8" x2="362.0" y2="222.4"/>
<line x1="307.5" y1="45.6" x2="385.8" y2="143.8"/>
<line x1="197.8" y1="163.5" x2="296.9" y2="124.4"/>
<line x1="302.0" y1="104.6" x2="325.5" y2="143.8"/>
<line x1="198.6" y1="45.6" x2="340.0" y2="104.6"/>
<line x1="233.0" y1="222.4" x2="378.0" y2="104.6"/>
<line x1="307.2" y1="242.2" x2="362.0" y2="202.8"/>
<line x1="218.2" y1="202.8" x2="259.7" y2="85.2"/>
<line x1="307.7" y1="163.5" x2="367.0" y2="104.6"/>
</g>
<line x1="196" y1="45.6" x2="386" y2="45.6" stroke="#f4a2a0" stroke-width="0.6" stroke-opacity="0.45"/>
<line x1="196" y1="65.4" x2="386" y2="65.4" stroke="#f2c690" stroke-width="0.6" stroke-opacity="0.45"/>
<line x1="197" y1="85.2" x2="386" y2="85.2" stroke="#f6f060" stroke-width="0.6" stroke-opacity="0.45"/>
<line x1="197" y1="104.6" x2="386" y2="104.6" stroke="#f4f07a" stroke-width="0.6" stroke-opacity="0.45"/>
<line x1="197" y1="124.4" x2="386" y2="124.4" stroke="#98e676" stroke-width="0.6" stroke-opacity="0.45"/>
<line x1="197" y1="143.8" x2="386" y2="143.8" stroke="#86e47e" stroke-width="0.6" stroke-opacity="0.45"/>
<line x1="190" y1="163.5" x2="386" y2="163.5" stroke="#84e490" stroke-width="0.6" stroke-opacity="0.45"/>
<line x1="197" y1="183.2" x2="386" y2="183.2" stroke="#78e2c8" stroke-width="0.6" stroke-opacity="0.45"/>
<line x1="195" y1="202.8" x2="386" y2="202.8" stroke="#7ae0ee" stroke-width="0.6" stroke-opacity="0.45"/>
<line x1="197" y1="222.4" x2="386" y2="222.4" stroke="#98f0f0" stroke-width="0.6" stroke-opacity="0.45"/>
<g stroke="#b05840" stroke-width="0.26" stroke-opacity="0.22" fill="none">
<path d="M205.2 56.7Q283.9 -1.7 362.5 45.6"/>
<path d="M300.3 45.6Q336.0 29.3 381.4 45.6"/>
<path d="M319.5 45.6Q337.5 36.8 358.0 45.6"/>
<path d="M300.3 45.6Q327.4 31.6 349.0 45.6"/>
<path d="M263.7 45.6Q297.4 30.0 325.6 45.6"/>
<path d="M254.7 45.6Q306.2 20.2 368.0 45.6"/>
<path d="M205.2 56.7Q286.6 -1.5 368.0 45.6"/>
<path d="M205.2 56.7Q295.4 -8.2 385.7 45.6"/>
<path d="M205.2 56.7Q286.6 -1.1 368.0 45.6"/>
<path d="M263.7 45.6Q321.6 13.5 385.7 45.6"/>
<path d="M273.5 45.6Q320.1 30.9 358.0 45.6"/>
<path d="M333.4 45.6Q339.4 41.5 349.0 45.6"/>
<path d="M284.8 45.6Q297.5 40.8 307.5 45.6"/>
<path d="M263.7 45.6Q329.5 22.0 381.4 45.6"/>
<path d="M198.6 45.6Q279.2 15.4 385.7 45.6"/>
<path d="M198.6 45.6Q278.0 2.5 358.0 45.6"/>
<path d="M333.4 45.6Q357.7 34.5 381.4 45.6"/>
<path d="M205.2 56.7Q295.4 -2.5 385.7 45.6"/>
<path d="M205.2 56.7Q283.9 -3.6 362.5 45.6"/>
<path d="M284.8 45.6Q325.5 20.0 381.4 45.6"/>
<path d="M273.5 45.6Q304.7 36.1 333.4 45.6"/>
<path d="M205.2 56.7Q293.3 -2.7 381.4 45.6"/>
<path d="M358.0 45.6Q369.8 40.8 385.7 45.6"/>
<path d="M263.7 45.6Q328.9 26.7 381.4 45.6"/>
<path d="M349.0 45.6Q357.9 42.1 370.4 45.6"/>
<path d="M198.6 45.6Q246.5 23.2 284.8 45.6"/>
<path d="M349.0 45.6Q365.8 36.8 381.4 45.6"/>
<path d="M273.5 45.6Q285.0 41.2 300.3 45.6"/>
<path d="M198.6 45.6Q297.4 2.3 385.7 45.6"/>
<path d="M205.2 56.7Q293.3 -7.1 381.4 45.6"/>
<path d="M205.2 56.7Q295.4 -2.6 385.7 45.6"/>
<path d="M205.2 56.7Q287.8 -5.7 370.4 45.6"/>
<path d="M254.7 45.6Q320.8 15.0 370.4 45.6"/>
<path d="M325.6 45.6Q338.6 37.0 358.0 45.6"/>
<path d="M205.2 56.7Q265.4 11.3 325.6 45.6"/>
<path d="M198.6 45.6Q272.0 13.9 325.6 45.6"/>
<path d="M351.3 45.6Q367.0 37.0 385.7 45.6"/>
<path d="M198.6 45.6Q282.8 16.9 358.0 45.6"/>
<path d="M307.5 45.6Q330.1 32.5 362.5 45.6"/>
<path d="M319.5 45.6Q337.7 37.8 351.3 45.6"/>
<path d="M370.4 45.6Q377.8 41.3 385.7 45.6"/>
<path d="M319.5 45.6Q335.3 38.5 351.3 45.6"/>
<path d="M205.2 56.7Q295.4 -7.3 385.7 45.6"/>
<path d="M307.5 45.6Q339.9 33.7 385.7 45.6"/>
<path d="M273.5 45.6Q316.9 23.5 368.0 45.6"/>
<path d="M300.3 45.6Q346.2 26.4 385.7 45.6"/>
<path d="M205.2 56.7Q287.8 -5.7 370.4 45.6"/>
<path d="M307.5 45.6Q324.1 36.6 349.0 45.6"/>
<path d="M205.2 56.7Q293.3 -3.0 381.4 45.6"/>
<path d="M284.8 45.6Q328.7 29.5 368.0 45.6"/>
<path d="M205.2 56.7Q287.8 2.7 370.4 45.6"/>
<path d="M284.8 45.6Q318.1 28.3 358.0 45.6"/>
<path d="M339.6 45.6Q352.7 42.1 362.5 45.6"/>
<path d="M198.6 45.6Q243.8 18.5 307.5 45.6"/>
<path d="M319.5 45.6Q341.4 36.3 358.0 45.6"/>
<path d="M307.5 45.6Q338.2 33.8 368.0 45.6"/>
<path d="M307.5 45.6Q330.6 31.5 362.5 45.6"/>
<path d="M198.6 45.6Q249.0 9.0 325.6 45.6"/>
<path d="M307.5 45.6Q317.4 39.4 333.4 45.6"/>
<path d="M263.7 45.6Q313.4 12.0 385.7 45.6"/>
<path d="M205.2 56.7Q287.8 -4.7 370.4 45.6"/>
<path d="M263.7 45.6Q300.9 29.4 339.6 45.6"/>
<path d="M370.4 45.6Q378.9 42.3 385.7 45.6"/>
<path d="M254.7 45.6Q325.4 20.8 381.4 45.6"/>
<path d="M273.5 45.6Q315.4 33.1 349.0 45.6"/>
<path d="M205.2 56.7Q265.4 9.3 325.6 45.6"/>
<path d="M205.2 56.7Q283.9 -2.3 362.5 45.6"/>
<path d="M205.2 56.7Q295.4 -2.0 385.7 45.6"/>
<path d="M307.5 45.6Q337.2 28.5 381.4 45.6"/>
<path d="M198.6 45.6Q271.2 6.8 333.4 45.6"/>
<path d="M198.6 45.6Q268.5 7.8 381.4 45.6"/>
<path d="M368.0 45.6Q377.9 41.8 385.7 45.6"/>
<path d="M263.7 45.6Q325.5 22.9 370.4 45.6"/>
<path d="M351.3 45.6Q366.9 40.2 381.4 45.6"/>
<path d="M284.8 45.6Q317.4 30.5 362.5 45.6"/>
<path d="M273.5 45.6Q295.7 32.4 319.5 45.6"/>
<path d="M263.7 45.6Q294.2 34.6 319.5 45.6"/>
<path d="M362.5 45.6Q370.4 40.4 381.4 45.6"/>
<path d="M198.6 45.6Q244.7 22.8 300.3 45.6"/>
<path d="M205.2 56.7Q269.3 8.3 333.4 45.6"/>
<path d="M205.2 56.7Q293.3 -0.6 381.4 45.6"/>
<path d="M198.6 45.6Q264.2 4.9 349.0 45.6"/>
<path d="M205.2 56.7Q281.6 1.4 358.0 45.6"/>
<path d="M198.6 45.6Q273.6 2.7 358.0 45.6"/>
<path d="M307.5 45.6Q334.4 35.6 370.4 45.6"/>
<path d="M284.8 45.6Q308.4 32.3 339.6 45.6"/>
<path d="M205.2 56.7Q269.3 5.0 333.4 45.6"/>
<path d="M273.5 45.6Q318.1 23.5 351.3 45.6"/>
<path d="M254.7 45.6Q291.3 26.8 339.6 45.6"/>
<path d="M254.7 45.6Q290.2 27.5 325.6 45.6"/>
<path d="M284.8 45.6Q314.7 26.5 362.5 45.6"/>
<path d="M284.8 45.6Q318.9 27.4 349.0 45.6"/>
<path d="M205.2 56.7Q277.1 3.3 349.0 45.6"/>
<path d="M263.7 45.6Q310.5 21.6 370.4 45.6"/>
<path d="M284.8 45.6Q293.7 41.3 307.5 45.6"/>
<path d="M362.5 45.6Q372.0 40.0 385.7 45.6"/>
<path d="M254.7 45.6Q287.3 25.2 339.6 45.6"/>
<path d="M273.5 45.6Q316.9 20.5 368.0 45.6"/>
<path d="M263.7 45.6Q297.9 24.6 351.3 45.6"/>
<path d="M284.8 45.6Q307.0 38.0 325.6 45.6"/>
<path d="M254.7 45.6Q290.9 28.0 333.4 45.6"/>
<path d="M205.2 56.7Q265.4 9.1 325.6 45.6"/>
<path d="M263.7 45.6Q313.3 11.3 385.7 45.6"/>
<path d="M273.5 45.6Q299.3 33.1 319.5 45.6"/>
<path d="M307.5 45.6Q347.8 27.7 385.7 45.6"/>
<path d="M351.3 45.6Q365.8 38.9 385.7 45.6"/>
<path d="M307.5 45.6Q331.6 33.7 351.3 45.6"/>
<path d="M205.2 56.7Q287.8 -5.1 370.4 45.6"/>
<path d="M307.5 45.6Q328.2 38.2 349.0 45.6"/>
<path d="M325.6 45.6Q336.5 39.2 349.0 45.6"/>
<path d="M325.6 45.6Q345.2 36.0 370.4 45.6"/>
<path d="M205.2 56.7Q265.4 7.4 325.6 45.6"/>
<path d="M273.5 45.6Q317.7 25.9 358.0 45.6"/>
<path d="M333.4 45.6Q340.3 41.4 349.0 45.6"/>
<path d="M263.7 45.6Q317.1 23.9 370.4 45.6"/>
<path d="M349.0 45.6Q368.5 39.0 385.7 45.6"/>
<path d="M205.2 56.7Q262.4 9.5 319.5 45.6"/>
<path d="M368.0 45.6Q375.8 41.0 385.7 45.6"/>
<path d="M284.8 45.6Q318.7 34.4 351.3 45.6"/>
<path d="M263.7 45.6Q279.5 39.6 300.3 45.6"/>
<path d="M333.4 45.6Q354.7 32.2 385.7 45.6"/>
<path d="M370.4 45.6Q378.7 41.2 385.7 45.6"/>
<path d="M333.4 45.6Q353.6 34.6 385.7 45.6"/>
<path d="M198.6 45.6Q253.9 16.0 325.6 45.6"/>
<path d="M198.6 45.6Q268.8 14.2 339.6 45.6"/>
<path d="M198.6 45.6Q270.5 25.0 325.6 45.6"/>
<path d="M319.5 45.6Q354.2 36.2 381.4 45.6"/>
<path d="M307.5 45.6Q329.7 32.7 358.0 45.6"/>
<path d="M263.7 45.6Q306.6 23.2 368.0 45.6"/>
<path d="M300.3 45.6Q328.3 33.7 351.3 45.6"/>
<path d="M339.6 45.6Q355.7 37.9 368.0 45.6"/>
<path d="M198.6 45.6Q246.3 23.5 284.8 45.6"/>
<path d="M284.8 45.6Q321.4 33.3 358.0 45.6"/>
<path d="M254.7 45.6Q309.7 16.6 362.5 45.6"/>
<path d="M254.7 45.6Q317.6 13.9 368.0 45.6"/>
<path d="M333.4 45.6Q358.9 35.8 381.4 45.6"/>
<path d="M205.2 56.7Q239.3 24.3 273.5 45.6"/>
<path d="M263.7 45.6Q289.6 30.0 325.6 45.6"/>
<path d="M300.3 45.6Q324.1 31.8 351.3 45.6"/>
<path d="M319.5 45.6Q344.0 38.0 362.5 45.6"/>
<path d="M205.2 56.7Q281.6 1.3 358.0 45.6"/>
<path d="M362.5 45.6Q371.1 40.2 381.4 45.6"/>
<path d="M333.4 45.6Q347.1 41.1 358.0 45.6"/>
<path d="M339.6 45.6Q356.1 38.6 370.4 45.6"/>
<path d="M349.0 45.6Q361.2 39.9 370.4 45.6"/>
<path d="M198.6 45.6Q249.2 19.3 307.5 45.6"/>
<path d="M319.5 45.6Q344.2 36.8 370.4 45.6"/>
<path d="M362.5 45.6Q373.6 41.2 385.7 45.6"/>
<path d="M198.6 45.6Q238.0 32.4 273.5 45.6"/>
<path d="M325.6 45.6Q347.2 30.9 381.4 45.6"/>
<path d="M339.6 45.6Q362.3 34.3 381.4 45.6"/>
<path d="M351.3 45.6Q364.5 40.6 381.4 45.6"/>
<path d="M263.7 45.6Q309.0 21.7 351.3 45.6"/>
<path d="M205.2 56.7Q281.6 1.3 358.0 45.6"/>
<path d="M300.3 45.6Q310.4 39.5 325.6 45.6"/>
<path d="M198.6 45.6Q285.3 19.4 351.3 45.6"/>
<path d="M349.0 45.6Q360.7 41.4 370.4 45.6"/>
<path d="M205.2 56.7Q286.6 -0.4 368.0 45.6"/>
<path d="M370.4 45.6Q376.6 42.5 385.7 45.6"/>
<path d="M333.4 45.6Q341.2 40.7 351.3 45.6"/>
<path d="M325.6 45.6Q342.0 38.4 358.0 45.6"/>
<path d="M205.2 56.7Q286.6 -0.9 368.0 45.6"/>
<path d="M307.5 45.6Q330.6 30.3 362.5 45.6"/>
<path d="M284.8 45.6Q304.0 36.8 325.6 45.6"/>
<path d="M333.4 45.6Q355.6 30.7 385.7 45.6"/>
<path d="M370.4 45.6Q376.4 43.1 385.7 45.6"/>
<path d="M284.8 45.6Q321.8 34.6 351.3 45.6"/>
<path d="M205.2 56.7Q295.4 -3.3 385.7 45.6"/>
<path d="M198.6 45.6Q253.3 23.3 339.6 45.6"/>
<path d="M351.3 45.6Q367.5 38.7 385.7 45.6"/>
<path d="M339.6 45.6Q353.5 39.3 368.0 45.6"/>
<path d="M205.2 56.7Q252.8 15.3 300.3 45.6"/>
<path d="M198.6 45.6Q249.5 15.4 325.6 45.6"/>
<path d="M307.5 45.6Q335.2 32.7 358.0 45.6"/>
<path d="M333.4 45.6Q357.3 34.4 381.4 45.6"/>
<path d="M325.6 45.6Q348.4 37.1 370.4 45.6"/>
<path d="M284.8 45.6Q332.2 26.7 381.4 45.6"/>
<path d="M307.5 45.6Q320.4 37.8 339.6 45.6"/>
<path d="M284.8 45.6Q332.8 23.1 368.0 45.6"/>
<path d="M362.5 45.6Q369.8 41.4 381.4 45.6"/>
<path d="M254.7 45.6Q288.3 30.3 333.4 45.6"/>
<path d="M263.7 45.6Q313.8 26.6 358.0 45.6"/>
<path d="M368.0 45.6Q377.3 41.2 385.7 45.6"/>
<path d="M273.5 45.6Q300.1 32.2 325.6 45.6"/>
<path d="M319.5 45.6Q330.7 40.4 339.6 45.6"/>
<path d="M198.6 45.6Q267.8 1.6 368.0 45.6"/>
<path d="M254.7 45.6Q285.6 34.6 325.6 45.6"/>
<path d="M307.5 45.6Q337.8 24.5 381.4 45.6"/>
<path d="M362.5 45.6Q372.1 41.0 385.7 45.6"/>
<path d="M273.5 45.6Q303.9 30.9 333.4 45.6"/>
<path d="M254.7 45.6Q304.3 21.5 351.3 45.6"/>
<path d="M362.5 45.6Q374.8 40.7 385.7 45.6"/>
<path d="M263.7 45.6Q292.9 34.2 319.5 45.6"/>
<path d="M263.7 45.6Q310.8 30.3 358.0 45.6"/>
<path d="M205.2 56.7Q295.4 -9.9 385.7 45.6"/>
<path d="M254.7 45.6Q298.9 32.1 333.4 45.6"/>
<path d="M370.4 45.6Q378.6 42.5 385.7 45.6"/>
<path d="M263.7 45.6Q302.5 23.8 351.3 45.6"/>
<path d="M300.3 45.6Q337.9 28.0 381.4 45.6"/>
<path d="M205.2 56.7Q287.8 -0.6 370.4 45.6"/>
<path d="M351.3 45.6Q368.4 38.4 381.4 45.6"/>
<path d="M263.7 45.6Q290.1 31.6 325.6 45.6"/>
<path d="M205.2 56.7Q272.4 4.4 339.6 45.6"/>
<path d="M254.7 45.6Q325.4 15.6 381.4 45.6"/>
<path d="M205.2 56.7Q269.3 10.7 333.4 45.6"/>
<path d="M368.0 45.6Q378.0 41.5 385.7 45.6"/>
<path d="M263.7 45.6Q299.7 28.7 333.4 45.6"/>
<path d="M263.7 45.6Q314.7 30.5 358.0 45.6"/>
<path d="M198.6 45.6Q262.0 8.4 358.0 45.6"/>
<path d="M339.6 45.6Q351.7 38.4 368.0 45.6"/>
<path d="M205.2 56.7Q286.6 -0.3 368.0 45.6"/>
<path d="M254.7 45.6Q283.7 31.8 325.6 45.6"/>
<path d="M284.8 45.6Q304.6 37.6 319.5 45.6"/>
<path d="M370.4 45.6Q377.0 41.9 385.7 45.6"/>
<path d="M205.2 56.7Q287.8 -4.3 370.4 45.6"/>
<path d="M349.0 45.6Q357.2 42.3 370.4 45.6"/>
<path d="M205.2 56.7Q283.9 -1.6 362.5 45.6"/>
<path d="M205.2 56.7Q295.4 -8.2 385.7 45.6"/>
<path d="M319.5 45.6Q337.4 38.8 362.5 45.6"/>
<path d="M362.5 45.6Q370.4 40.5 381.4 45.6"/>
<path d="M254.7 45.6Q290.4 25.0 333.4 45.6"/>
<path d="M319.5 45.6Q341.8 33.9 362.5 45.6"/>
<path d="M273.5 45.6Q317.1 29.4 349.0 45.6"/>
<path d="M300.3 45.6Q332.1 36.3 358.0 45.6"/>
<path d="M273.5 45.6Q300.7 34.3 325.6 45.6"/>
<path d="M205.2 56.7Q281.6 2.7 358.0 45.6"/>
<path d="M205.2 56.7Q283.9 -1.8 362.5 45.6"/>
<path d="M205.2 56.7Q295.4 -5.2 385.7 45.6"/>
<path d="M205.2 56.7Q287.8 -5.3 370.4 45.6"/>
<path d="M263.7 45.6Q298.4 33.3 333.4 45.6"/>
<path d="M263.7 45.6Q298.5 34.9 333.4 45.6"/>
<path d="M205.2 56.7Q262.4 8.1 319.5 45.6"/>
<path d="M325.6 45.6Q357.6 34.7 381.4 45.6"/>
<path d="M205.2 56.7Q295.4 -2.3 385.7 45.6"/>
<path d="M198.6 45.6Q285.5 4.2 381.4 45.6"/>
<path d="M284.8 45.6Q315.6 28.8 351.3 45.6"/>
<path d="M351.3 45.6Q365.6 36.8 385.7 45.6"/>
<path d="M349.0 45.6Q358.0 40.7 370.4 45.6"/>
<path d="M205.2 56.7Q277.1 4.5 349.0 45.6"/>
<path d="M284.8 45.6Q303.3 38.5 319.5 45.6"/>
<path d="M362.5 45.6Q373.0 41.8 385.7 45.6"/>
<path d="M198.6 45.6Q290.7 12.9 370.4 45.6"/>
<path d="M205.2 56.7Q272.4 6.8 339.6 45.6"/>
<path d="M254.7 45.6Q292.2 27.1 325.6 45.6"/>
<path d="M198.6 45.6Q267.3 13.3 370.4 45.6"/>
<path d="M362.5 45.6Q373.0 41.3 381.4 45.6"/>
<path d="M273.5 45.6Q302.6 37.5 325.6 45.6"/>
<path d="M254.7 45.6Q311.8 26.4 362.5 45.6"/>
<path d="M325.6 45.6Q346.5 38.7 368.0 45.6"/>
<path d="M198.6 45.6Q232.7 33.3 263.7 45.6"/>
<path d="M284.8 45.6Q326.8 21.5 381.4 45.6"/>
<path d="M205.2 56.7Q293.3 -3.8 381.4 45.6"/>
<path d="M300.3 45.6Q327.3 30.2 362.5 45.6"/>
<path d="M284.8 45.6Q304.6 36.6 319.5 45.6"/>
<path d="M273.5 45.6Q307.8 29.4 349.0 45.6"/>
<path d="M205.2 56.7Q295.4 -3.8 385.7 45.6"/>
<path d="M300.3 45.6Q332.0 29.9 381.4 45.6"/>
<path d="M198.6 45.6Q285.5 12.2 349.0 45.6"/>
<path d="M254.7 45.6Q286.9 29.6 333.4 45.6"/>
<path d="M300.3 45.6Q336.3 32.3 370.4 45.6"/>
<path d="M254.7 45.6Q323.3 20.6 385.7 45.6"/>
<path d="M284.8 45.6Q332.0 24.8 385.7 45.6"/>
<path d="M307.5 45.6Q316.3 42.5 325.6 45.6"/>
<path d="M198.6 45.6Q294.9 11.8 370.4 45.6"/>
<path d="M254.7 45.6Q307.6 20.5 349.0 45.6"/>
<path d="M205.2 56.7Q281.6 5.7 358.0 45.6"/>
<path d="M205.2 56.7Q295.4 -8.5 385.7 45.6"/>
<path d="M307.5 45.6Q336.9 32.3 370.4 45.6"/>
<path d="M263.7 45.6Q284.3 39.5 300.3 45.6"/>
<path d="M198.6 45.6Q272.8 18.6 358.0 45.6"/>
<path d="M254.7 45.6Q306.9 19.2 349.0 45.6"/>
<path d="M198.6 45.6Q275.3 2.7 385.7 45.6"/>
<path d="M198.6 45.6Q272.6 16.4 385.7 45.6"/>
<path d="M307.5 45.6Q331.8 29.6 368.0 45.6"/>
<path d="M205.2 56.7Q295.4 -9.4 385.7 45.6"/>
<path d="M263.7 45.6Q296.9 32.6 325.6 45.6"/>
<path d="M284.8 45.6Q316.2 31.2 362.5 45.6"/>
<path d="M325.6 45.6Q348.5 37.5 370.4 45.6"/>
<path d="M325.6 45.6Q340.4 41.5 351.3 45.6"/>
<path d="M263.7 45.6Q317.7 20.9 370.4 45.6"/>
<path d="M319.5 45.6Q336.6 37.7 358.0 45.6"/>
<path d="M351.3 45.6Q359.5 42.5 370.4 45.6"/>
<path d="M205.2 56.7Q252.8 14.7 300.3 45.6"/>
<path d="M284.8 45.6Q337.4 19.8 381.4 45.6"/>
<path d="M205.2 56.7Q293.3 -5.4 381.4 45.6"/>
<path d="M198.6 45.6Q288.9 13.4 381.4 45.6"/>
<path d="M349.0 45.6Q363.5 37.9 385.7 45.6"/>
<path d="M263.7 45.6Q318.8 21.1 381.4 45.6"/>
<path d="M300.3 45.6Q329.3 29.3 370.4 45.6"/>
<path d="M198.6 45.6Q281.4 13.4 381.4 45.6"/>
<path d="M273.5 45.6Q321.7 17.4 381.4 45.6"/>
<path d="M325.6 45.6Q344.6 35.4 368.0 45.6"/>
<path d="M205.2 56.7Q295.4 -3.1 385.7 45.6"/>
<path d="M254.7 45.6Q312.0 24.0 385.7 45.6"/>
<path d="M325.6 45.6Q346.1 38.0 370.4 45.6"/>
<path d="M205.2 56.7Q252.8 17.6 300.3 45.6"/>
</g>
<g stroke="#a8603a" stroke-width="0.26" stroke-opacity="0.22" fill="none">
<path d="M306.7 65.4Q323.5 57.7 341.2 65.4"/>
<path d="M339.0 65.4Q347.7 61.8 358.0 65.4"/>
<path d="M283.7 65.4Q295.1 60.3 306.7 65.4"/>
<path d="M195.7 65.4Q258.1 46.7 306.7 65.4"/>
<path d="M195.7 65.4Q229.7 45.6 275.4 65.4"/>
<path d="M275.4 65.4Q306.8 46.1 339.0 65.4"/>
<path d="M233.0 65.4Q261.2 53.3 285.8 65.4"/>
<path d="M285.8 65.4Q328.7 47.7 361.4 65.4"/>
<path d="M245.7 65.4Q297.1 36.9 341.2 65.4"/>
<path d="M245.7 65.4Q302.3 30.4 374.8 65.4"/>
<path d="M245.7 65.4Q297.8 40.7 361.4 65.4"/>
<path d="M263.7 65.4Q276.5 61.0 285.8 65.4"/>
<path d="M221.0 65.4Q288.9 40.7 374.8 65.4"/>
<path d="M263.7 65.4Q304.2 44.4 334.5 65.4"/>
<path d="M233.0 65.4Q261.5 49.9 285.8 65.4"/>
<path d="M263.7 65.4Q275.1 61.8 285.8 65.4"/>
<path d="M285.8 65.4Q317.2 50.4 358.0 65.4"/>
<path d="M233.0 65.4Q282.1 39.1 339.0 65.4"/>
<path d="M233.0 65.4Q271.6 48.0 301.0 65.4"/>
<path d="M221.0 65.4Q286.6 26.5 374.8 65.4"/>
<path d="M195.7 65.4Q268.0 33.0 374.8 65.4"/>
<path d="M195.7 65.4Q263.8 27.0 374.8 65.4"/>
<path d="M233.0 65.4Q277.3 40.7 341.2 65.4"/>
<path d="M334.5 65.4Q352.4 57.4 374.8 65.4"/>
<path d="M221.0 65.4Q231.7 59.3 245.7 65.4"/>
<path d="M283.7 65.4Q323.5 46.6 374.8 65.4"/>
<path d="M233.0 65.4Q282.5 47.4 341.2 65.4"/>
<path d="M233.0 65.4Q259.3 51.2 283.7 65.4"/>
<path d="M263.7 65.4Q273.8 59.5 285.8 65.4"/>
<path d="M339.0 65.4Q358.0 58.4 374.8 65.4"/>
<path d="M275.4 65.4Q304.7 47.3 341.2 65.4"/>
<path d="M195.7 65.4Q211.9 56.1 233.0 65.4"/>
<path d="M221.0 65.4Q239.6 53.8 263.7 65.4"/>
<path d="M334.5 65.4Q353.1 53.2 378.2 65.4"/>
<path d="M358.0 65.4Q369.3 59.7 378.2 65.4"/>
<path d="M233.0 65.4Q277.5 36.0 334.5 65.4"/>
<path d="M195.7 65.4Q212.2 56.4 233.0 65.4"/>
<path d="M358.0 65.4Q366.8 61.8 374.8 65.4"/>
<path d="M275.4 65.4Q330.5 40.2 374.8 65.4"/>
<path d="M361.4 65.4Q369.1 61.3 378.2 65.4"/>
<path d="M263.7 65.4Q284.5 57.0 306.7 65.4"/>
<path d="M245.7 65.4Q299.5 49.4 339.0 65.4"/>
<path d="M233.0 65.4Q286.1 42.7 341.2 65.4"/>
<path d="M301.0 65.4Q344.8 46.3 378.2 65.4"/>
<path d="M233.0 65.4Q295.0 42.8 341.2 65.4"/>
<path d="M195.7 65.4Q234.2 41.0 285.8 65.4"/>
<path d="M195.7 65.4Q261.1 33.9 334.5 65.4"/>
<path d="M221.0 65.4Q268.1 42.6 334.5 65.4"/>
<path d="M263.7 65.4Q288.0 57.3 306.7 65.4"/>
<path d="M339.0 65.4Q347.9 60.1 361.4 65.4"/>
<path d="M195.7 65.4Q252.4 22.9 339.0 65.4"/>
<path d="M245.7 65.4Q309.9 44.6 374.8 65.4"/>
<path d="M221.0 65.4Q299.1 26.3 361.4 65.4"/>
<path d="M301.0 65.4Q317.5 56.9 334.5 65.4"/>
<path d="M233.0 65.4Q264.6 49.9 301.0 65.4"/>
<path d="M245.7 65.4Q318.7 39.8 378.2 65.4"/>
<path d="M195.7 65.4Q271.7 28.3 361.4 65.4"/>
<path d="M263.7 65.4Q280.9 58.3 301.0 65.4"/>
<path d="M221.0 65.4Q298.8 25.5 374.8 65.4"/>
<path d="M285.8 65.4Q305.1 57.6 334.5 65.4"/>
<path d="M339.0 65.4Q354.9 54.6 374.8 65.4"/>
<path d="M245.7 65.4Q298.0 33.7 358.0 65.4"/>
<path d="M263.7 65.4Q306.0 50.8 339.0 65.4"/>
<path d="M341.2 65.4Q352.4 61.8 361.4 65.4"/>
<path d="M245.7 65.4Q291.5 40.0 361.4 65.4"/>
<path d="M285.8 65.4Q294.4 59.2 306.7 65.4"/>
<path d="M233.0 65.4Q248.7 59.5 263.7 65.4"/>
<path d="M195.7 65.4Q221.7 54.0 263.7 65.4"/>
<path d="M263.7 65.4Q285.9 53.8 306.7 65.4"/>
<path d="M263.7 65.4Q314.3 31.0 378.2 65.4"/>
<path d="M301.0 65.4Q340.6 51.6 374.8 65.4"/>
<path d="M195.7 65.4Q278.5 18.2 358.0 65.4"/>
<path d="M285.8 65.4Q316.2 48.8 361.4 65.4"/>
<path d="M245.7 65.4Q295.1 40.8 334.5 65.4"/>
<path d="M361.4 65.4Q370.8 60.5 378.2 65.4"/>
<path d="M195.7 65.4Q253.3 40.2 341.2 65.4"/>
<path d="M245.7 65.4Q297.1 43.9 361.4 65.4"/>
<path d="M263.7 65.4Q302.8 48.7 358.0 65.4"/>
<path d="M195.7 65.4Q242.0 31.8 306.7 65.4"/>
<path d="M301.0 65.4Q333.7 48.2 361.4 65.4"/>
<path d="M195.7 65.4Q252.2 34.3 306.7 65.4"/>
<path d="M334.5 65.4Q345.3 58.8 358.0 65.4"/>
<path d="M301.0 65.4Q330.3 52.7 361.4 65.4"/>
<path d="M195.7 65.4Q288.7 13.2 378.2 65.4"/>
<path d="M283.7 65.4Q322.7 45.1 374.8 65.4"/>
<path d="M283.7 65.4Q334.7 38.4 378.2 65.4"/>
<path d="M221.0 65.4Q263.2 48.2 306.7 65.4"/>
<path d="M339.0 65.4Q355.7 56.7 374.8 65.4"/>
<path d="M221.0 65.4Q265.9 41.2 301.0 65.4"/>
<path d="M283.7 65.4Q313.6 50.5 361.4 65.4"/>
<path d="M195.7 65.4Q210.3 60.6 221.0 65.4"/>
<path d="M275.4 65.4Q298.1 55.2 334.5 65.4"/>
<path d="M195.7 65.4Q228.5 48.8 275.4 65.4"/>
<path d="M221.0 65.4Q276.8 41.0 358.0 65.4"/>
<path d="M301.0 65.4Q318.6 55.3 341.2 65.4"/>
<path d="M285.8 65.4Q294.2 62.4 301.0 65.4"/>
<path d="M233.0 65.4Q283.2 41.6 358.0 65.4"/>
<path d="M245.7 65.4Q291.0 50.0 339.0 65.4"/>
<path d="M245.7 65.4Q295.2 41.5 334.5 65.4"/>
<path d="M245.7 65.4Q292.9 41.3 334.5 65.4"/>
<path d="M263.7 65.4Q313.2 45.7 358.0 65.4"/>
<path d="M275.4 65.4Q315.8 44.5 378.2 65.4"/>
<path d="M334.5 65.4Q355.8 54.3 374.8 65.4"/>
<path d="M301.0 65.4Q321.2 53.9 341.2 65.4"/>
<path d="M245.7 65.4Q262.8 58.4 285.8 65.4"/>
<path d="M233.0 65.4Q291.1 40.1 334.5 65.4"/>
<path d="M275.4 65.4Q320.1 51.6 361.4 65.4"/>
<path d="M263.7 65.4Q320.2 42.0 374.8 65.4"/>
<path d="M263.7 65.4Q324.2 40.7 374.8 65.4"/>
<path d="M334.5 65.4Q355.5 56.0 374.8 65.4"/>
<path d="M263.7 65.4Q318.6 31.6 378.2 65.4"/>
<path d="M285.8 65.4Q296.3 59.3 306.7 65.4"/>
<path d="M195.7 65.4Q209.3 58.3 221.0 65.4"/>
<path d="M283.7 65.4Q311.1 54.2 341.2 65.4"/>
<path d="M341.2 65.4Q355.4 59.8 374.8 65.4"/>
<path d="M195.7 65.4Q296.9 14.8 374.8 65.4"/>
<path d="M245.7 65.4Q284.0 50.4 334.5 65.4"/>
<path d="M233.0 65.4Q288.7 43.3 339.0 65.4"/>
<path d="M334.5 65.4Q346.3 57.9 361.4 65.4"/>
<path d="M221.0 65.4Q281.8 38.9 374.8 65.4"/>
<path d="M245.7 65.4Q297.8 40.1 339.0 65.4"/>
<path d="M233.0 65.4Q312.1 40.1 374.8 65.4"/>
<path d="M245.7 65.4Q282.4 50.3 339.0 65.4"/>
<path d="M245.7 65.4Q267.7 55.7 283.7 65.4"/>
<path d="M233.0 65.4Q297.7 34.0 361.4 65.4"/>
<path d="M301.0 65.4Q324.5 49.5 358.0 65.4"/>
<path d="M283.7 65.4Q315.3 51.4 358.0 65.4"/>
<path d="M361.4 65.4Q369.5 61.5 378.2 65.4"/>
<path d="M334.5 65.4Q357.4 57.7 374.8 65.4"/>
<path d="M334.5 65.4Q357.0 53.9 378.2 65.4"/>
<path d="M233.0 65.4Q292.9 27.2 378.2 65.4"/>
<path d="M306.7 65.4Q335.2 56.8 358.0 65.4"/>
<path d="M221.0 65.4Q278.2 45.0 339.0 65.4"/>
<path d="M263.7 65.4Q325.6 32.3 374.8 65.4"/>
<path d="M283.7 65.4Q308.2 48.4 341.2 65.4"/>
<path d="M233.0 65.4Q294.7 38.8 358.0 65.4"/>
<path d="M195.7 65.4Q237.7 50.8 285.8 65.4"/>
<path d="M221.0 65.4Q285.3 35.2 374.8 65.4"/>
<path d="M285.8 65.4Q309.5 51.7 334.5 65.4"/>
<path d="M195.7 65.4Q268.9 15.0 361.4 65.4"/>
<path d="M263.7 65.4Q318.2 37.4 358.0 65.4"/>
<path d="M195.7 65.4Q260.1 27.0 334.5 65.4"/>
<path d="M263.7 65.4Q300.3 50.2 358.0 65.4"/>
<path d="M339.0 65.4Q350.0 60.4 361.4 65.4"/>
<path d="M301.0 65.4Q340.1 52.2 378.2 65.4"/>
<path d="M195.7 65.4Q264.9 25.0 341.2 65.4"/>
<path d="M233.0 65.4Q312.8 28.5 374.8 65.4"/>
<path d="M263.7 65.4Q297.5 47.0 334.5 65.4"/>
<path d="M195.7 65.4Q236.3 41.6 275.4 65.4"/>
<path d="M195.7 65.4Q260.2 20.8 361.4 65.4"/>
<path d="M221.0 65.4Q278.4 33.8 341.2 65.4"/>
<path d="M233.0 65.4Q294.7 38.2 341.2 65.4"/>
<path d="M339.0 65.4Q357.6 54.6 378.2 65.4"/>
<path d="M233.0 65.4Q296.9 22.8 378.2 65.4"/>
<path d="M301.0 65.4Q320.1 58.7 341.2 65.4"/>
<path d="M339.0 65.4Q358.6 55.5 374.8 65.4"/>
<path d="M306.7 65.4Q320.4 55.3 341.2 65.4"/>
<path d="M263.7 65.4Q276.0 60.6 285.8 65.4"/>
<path d="M306.7 65.4Q341.3 48.2 378.2 65.4"/>
<path d="M221.0 65.4Q273.9 31.1 339.0 65.4"/>
<path d="M334.5 65.4Q345.7 58.0 361.4 65.4"/>
<path d="M361.4 65.4Q369.7 62.5 378.2 65.4"/>
<path d="M301.0 65.4Q339.6 49.3 374.8 65.4"/>
<path d="M221.0 65.4Q269.3 42.5 334.5 65.4"/>
<path d="M195.7 65.4Q240.9 44.0 285.8 65.4"/>
<path d="M233.0 65.4Q300.7 39.5 358.0 65.4"/>
<path d="M195.7 65.4Q277.9 17.4 361.4 65.4"/>
<path d="M283.7 65.4Q321.4 48.3 378.2 65.4"/>
<path d="M263.7 65.4Q310.3 42.2 361.4 65.4"/>
<path d="M245.7 65.4Q282.4 38.7 339.0 65.4"/>
<path d="M283.7 65.4Q293.6 58.9 306.7 65.4"/>
<path d="M306.7 65.4Q323.3 56.7 341.2 65.4"/>
<path d="M361.4 65.4Q369.5 61.5 378.2 65.4"/>
<path d="M221.0 65.4Q285.5 32.5 378.2 65.4"/>
<path d="M221.0 65.4Q291.0 24.6 361.4 65.4"/>
<path d="M361.4 65.4Q370.4 60.6 378.2 65.4"/>
<path d="M221.0 65.4Q246.2 53.4 275.4 65.4"/>
<path d="M263.7 65.4Q305.8 46.6 361.4 65.4"/>
<path d="M233.0 65.4Q259.4 53.6 285.8 65.4"/>
<path d="M233.0 65.4Q254.0 51.4 285.8 65.4"/>
<path d="M334.5 65.4Q349.9 57.6 374.8 65.4"/>
<path d="M334.5 65.4Q345.9 59.1 358.0 65.4"/>
<path d="M285.8 65.4Q306.8 52.5 334.5 65.4"/>
<path d="M275.4 65.4Q317.8 40.1 378.2 65.4"/>
<path d="M221.0 65.4Q284.7 32.4 339.0 65.4"/>
<path d="M245.7 65.4Q299.4 41.7 358.0 65.4"/>
<path d="M233.0 65.4Q297.4 34.4 378.2 65.4"/>
<path d="M283.7 65.4Q307.5 56.5 334.5 65.4"/>
<path d="M306.7 65.4Q329.2 55.1 358.0 65.4"/>
<path d="M275.4 65.4Q306.1 50.3 339.0 65.4"/>
<path d="M195.7 65.4Q242.6 34.5 306.7 65.4"/>
<path d="M301.0 65.4Q316.6 57.7 334.5 65.4"/>
<path d="M283.7 65.4Q291.7 62.3 301.0 65.4"/>
<path d="M341.2 65.4Q357.5 55.8 374.8 65.4"/>
<path d="M195.7 65.4Q271.6 30.2 374.8 65.4"/>
<path d="M263.7 65.4Q306.4 42.5 339.0 65.4"/>
<path d="M285.8 65.4Q308.6 56.0 334.5 65.4"/>
<path d="M233.0 65.4Q262.4 52.5 301.0 65.4"/>
<path d="M233.0 65.4Q261.9 55.0 283.7 65.4"/>
<path d="M306.7 65.4Q337.8 49.1 361.4 65.4"/>
<path d="M195.7 65.4Q213.8 57.6 233.0 65.4"/>
<path d="M195.7 65.4Q267.4 19.9 361.4 65.4"/>
<path d="M301.0 65.4Q340.5 52.0 378.2 65.4"/>
<path d="M245.7 65.4Q311.9 42.0 374.8 65.4"/>
<path d="M195.7 65.4Q212.5 57.1 233.0 65.4"/>
<path d="M245.7 65.4Q271.3 48.6 301.0 65.4"/>
<path d="M263.7 65.4Q294.8 43.8 339.0 65.4"/>
<path d="M358.0 65.4Q365.8 60.6 374.8 65.4"/>
<path d="M275.4 65.4Q300.5 49.0 334.5 65.4"/>
<path d="M301.0 65.4Q343.6 44.0 374.8 65.4"/>
<path d="M306.7 65.4Q319.6 56.4 339.0 65.4"/>
<path d="M306.7 65.4Q334.4 52.6 378.2 65.4"/>
<path d="M306.7 65.4Q325.5 56.5 341.2 65.4"/>
<path d="M358.0 65.4Q369.4 59.7 378.2 65.4"/>
<path d="M301.0 65.4Q327.5 48.7 358.0 65.4"/>
<path d="M339.0 65.4Q347.7 60.3 361.4 65.4"/>
<path d="M195.7 65.4Q291.7 24.2 378.2 65.4"/>
<path d="M245.7 65.4Q293.0 38.2 361.4 65.4"/>
<path d="M233.0 65.4Q304.1 42.6 358.0 65.4"/>
<path d="M195.7 65.4Q272.3 23.8 341.2 65.4"/>
<path d="M195.7 65.4Q227.1 47.6 263.7 65.4"/>
<path d="M195.7 65.4Q226.4 45.0 275.4 65.4"/>
<path d="M233.0 65.4Q312.9 36.9 378.2 65.4"/>
<path d="M195.7 65.4Q242.0 50.7 283.7 65.4"/>
<path d="M275.4 65.4Q327.5 37.8 374.8 65.4"/>
<path d="M195.7 65.4Q273.0 41.9 339.0 65.4"/>
<path d="M233.0 65.4Q294.3 34.8 339.0 65.4"/>
<path d="M275.4 65.4Q311.5 46.6 341.2 65.4"/>
<path d="M221.0 65.4Q289.1 30.4 339.0 65.4"/>
<path d="M341.2 65.4Q360.0 59.2 374.8 65.4"/>
<path d="M221.0 65.4Q296.3 35.8 358.0 65.4"/>
<path d="M233.0 65.4Q286.3 36.7 334.5 65.4"/>
<path d="M195.7 65.4Q233.9 44.9 275.4 65.4"/>
<path d="M339.0 65.4Q356.0 59.4 374.8 65.4"/>
<path d="M221.0 65.4Q306.0 22.8 374.8 65.4"/>
</g>
<g stroke="#b8a048" stroke-width="0.35" stroke-opacity="0.26" fill="none">
<path d="M203.9 85.2Q294.6 55.5 361.4 85.2"/>
<path d="M212.1 85.2Q279.1 43.2 371.5 85.2"/>
<path d="M259.7 85.2Q291.4 73.1 332.2 85.2"/>
<path d="M203.9 85.2Q287.8 46.9 352.4 85.2"/>
<path d="M227.0 85.2Q286.5 50.3 361.4 85.2"/>
<path d="M227.0 85.2Q278.2 53.5 340.1 85.2"/>
<path d="M277.0 85.2Q303.0 73.1 336.3 85.2"/>
<path d="M227.0 85.2Q254.1 74.4 277.0 85.2"/>
<path d="M264.1 85.2Q317.4 60.4 385.0 85.2"/>
<path d="M227.0 85.2Q299.7 61.4 361.4 85.2"/>
<path d="M246.4 85.2Q258.9 78.9 273.3 85.2"/>
<path d="M212.1 85.2Q284.1 53.3 336.3 85.2"/>
<path d="M259.7 85.2Q295.5 72.0 340.1 85.2"/>
<path d="M227.0 85.2Q281.7 57.0 352.4 85.2"/>
<path d="M212.1 85.2Q302.9 33.9 385.0 85.2"/>
<path d="M361.4 85.2Q372.5 78.9 385.0 85.2"/>
<path d="M264.1 85.2Q325.6 55.3 378.2 85.2"/>
<path d="M259.7 85.2Q311.5 59.6 352.4 85.2"/>
<path d="M227.0 85.2Q248.4 77.2 277.0 85.2"/>
<path d="M212.1 85.2Q244.4 71.8 285.0 85.2"/>
<path d="M212.1 85.2Q278.3 55.9 385.0 85.2"/>
<path d="M361.4 85.2Q368.9 80.7 378.2 85.2"/>
<path d="M203.9 85.2Q215.2 76.7 233.0 85.2"/>
<path d="M246.4 85.2Q287.3 62.5 336.3 85.2"/>
<path d="M285.0 85.2Q316.7 72.1 340.1 85.2"/>
<path d="M256.3 85.2Q327.9 63.8 385.0 85.2"/>
<path d="M233.0 85.2Q298.5 45.5 385.0 85.2"/>
<path d="M277.0 85.2Q310.3 70.3 340.1 85.2"/>
<path d="M212.1 85.2Q230.6 72.8 256.3 85.2"/>
<path d="M277.0 85.2Q326.7 68.3 367.0 85.2"/>
<path d="M233.0 85.2Q292.7 55.3 336.3 85.2"/>
<path d="M233.0 85.2Q314.9 58.6 385.0 85.2"/>
<path d="M259.7 85.2Q295.4 67.7 340.1 85.2"/>
<path d="M264.1 85.2Q314.1 63.6 361.4 85.2"/>
</g>
<g stroke="#84b83c" stroke-width="0.35" stroke-opacity="0.4" fill="none">
<path d="M308.5 104.6Q325.9 97.3 340.0 104.6"/>
<path d="M302.0 104.6Q326.8 87.1 362.0 104.6"/>
<path d="M302.0 104.6Q329.9 91.4 352.0 104.6"/>
<path d="M308.5 104.6Q328.9 95.1 362.0 104.6"/>
<path d="M340.0 104.6Q358.0 96.8 378.0 104.6"/>
<path d="M340.0 104.6Q361.4 94.8 378.0 104.6"/>
<path d="M302.0 104.6Q339.2 83.6 385.8 104.6"/>
<path d="M325.5 104.6Q348.1 95.5 367.0 104.6"/>
<path d="M352.0 104.6Q366.4 97.4 378.0 104.6"/>
<path d="M308.5 104.6Q320.8 95.3 340.0 104.6"/>
<path d="M308.5 104.6Q325.4 97.1 340.0 104.6"/>
<path d="M296.9 104.6Q332.9 89.3 367.0 104.6"/>
<path d="M367.0 104.6Q375.5 101.4 385.8 104.6"/>
<path d="M308.5 104.6Q328.2 92.2 352.0 104.6"/>
<path d="M308.5 104.6Q332.1 94.3 352.0 104.6"/>
<path d="M296.9 104.6Q324.4 90.4 367.0 104.6"/>
<path d="M308.5 104.6Q344.7 89.1 371.0 104.6"/>
<path d="M340.0 104.6Q363.7 92.5 385.8 104.6"/>
<path d="M367.0 104.6Q375.4 99.5 385.8 104.6"/>
<path d="M302.0 104.6Q340.4 90.9 385.8 104.6"/>
<path d="M362.0 104.6Q369.2 100.9 378.0 104.6"/>
</g>
<g stroke="#6cbc48" stroke-width="0.35" stroke-opacity="0.4" fill="none">
<path d="M307.6 124.4Q338.7 113.1 375.0 124.4"/>
<path d="M352.0 124.4Q362.0 117.5 375.0 124.4"/>
<path d="M246.9 124.4Q284.5 101.8 326.0 124.4"/>
<path d="M340.0 124.4Q359.3 117.5 375.0 124.4"/>
<path d="M239.7 124.4Q299.8 86.1 379.7 124.4"/>
<path d="M296.9 124.4Q328.3 111.9 352.0 124.4"/>
<path d="M246.9 124.4Q293.1 104.8 365.0 124.4"/>
<path d="M246.9 124.4Q298.8 93.4 352.0 124.4"/>
<path d="M352.0 124.4Q362.2 117.6 375.0 124.4"/>
<path d="M239.7 124.4Q294.3 91.2 370.0 124.4"/>
<path d="M242.0 124.4Q302.6 90.2 360.0 124.4"/>
<path d="M246.9 124.4Q301.1 99.6 365.0 124.4"/>
<path d="M242.0 124.4Q304.1 103.5 370.0 124.4"/>
<path d="M239.7 124.4Q285.2 102.2 322.0 124.4"/>
<path d="M246.9 124.4Q311.7 89.6 379.7 124.4"/>
<path d="M307.6 124.4Q317.3 121.2 326.0 124.4"/>
<path d="M246.9 124.4Q304.9 98.3 379.7 124.4"/>
<path d="M242.0 124.4Q301.4 91.5 379.7 124.4"/>
<path d="M239.7 124.4Q308.9 104.1 365.0 124.4"/>
<path d="M242.0 124.4Q300.2 86.5 375.0 124.4"/>
<path d="M296.9 124.4Q330.7 107.9 370.0 124.4"/>
<path d="M352.0 124.4Q358.9 120.1 370.0 124.4"/>
<path d="M296.9 124.4Q340.5 106.4 379.7 124.4"/>
<path d="M244.0 124.4Q304.1 101.0 352.0 124.4"/>
<path d="M244.0 124.4Q275.6 109.2 307.6 124.4"/>
<path d="M307.6 124.4Q337.6 112.8 365.0 124.4"/>
<path d="M244.0 124.4Q278.5 108.1 332.0 124.4"/>
<path d="M242.0 124.4Q302.3 96.6 370.0 124.4"/>
</g>
<g stroke="#58b85a" stroke-width="0.35" stroke-opacity="0.38" fill="none">
<path d="M221.3 143.8Q275.5 119.1 316.7 143.8"/>
<path d="M221.3 143.8Q294.5 99.1 371.0 143.8"/>
<path d="M352.0 143.8Q359.6 138.6 371.0 143.8"/>
<path d="M221.3 143.8Q244.1 136.9 264.2 143.8"/>
<path d="M257.0 143.8Q297.9 118.6 352.0 143.8"/>
<path d="M325.5 143.8Q345.9 132.7 362.3 143.8"/>
<path d="M262.0 143.8Q332.6 108.9 385.8 143.8"/>
<path d="M221.3 143.8Q282.6 117.2 352.0 143.8"/>
<path d="M264.2 143.8Q323.9 118.6 385.8 143.8"/>
<path d="M221.3 143.8Q285.1 122.0 352.0 143.8"/>
<path d="M297.5 143.8Q333.1 122.8 371.0 143.8"/>
<path d="M221.3 143.8Q290.2 108.0 385.8 143.8"/>
<path d="M262.0 143.8Q311.7 120.7 378.6 143.8"/>
<path d="M218.2 143.8Q295.9 113.0 362.3 143.8"/>
<path d="M221.3 143.8Q284.1 116.7 371.0 143.8"/>
<path d="M218.2 143.8Q289.6 103.2 371.0 143.8"/>
<path d="M325.5 143.8Q356.2 126.6 385.8 143.8"/>
<path d="M262.0 143.8Q301.5 119.1 352.0 143.8"/>
<path d="M221.3 143.8Q305.3 95.3 385.8 143.8"/>
<path d="M325.5 143.8Q338.7 136.6 352.0 143.8"/>
<path d="M221.3 143.8Q275.0 119.2 316.7 143.8"/>
<path d="M307.7 143.8Q315.7 139.5 325.5 143.8"/>
<path d="M221.3 143.8Q239.0 133.9 262.0 143.8"/>
<path d="M257.0 143.8Q302.8 113.3 362.3 143.8"/>
<path d="M264.2 143.8Q322.9 115.1 371.0 143.8"/>
<path d="M221.3 143.8Q298.9 115.8 385.8 143.8"/>
<path d="M307.7 143.8Q348.0 127.4 385.8 143.8"/>
<path d="M307.7 143.8Q317.4 139.0 325.5 143.8"/>
</g>
<g stroke="#50b670" stroke-width="0.35" stroke-opacity="0.38" fill="none">
<path d="M196.4 163.5Q253.8 141.8 297.5 163.5"/>
<path d="M307.7 163.5Q325.6 154.2 352.0 163.5"/>
<path d="M196.4 163.5Q253.1 134.7 297.5 163.5"/>
<path d="M196.4 163.5Q269.5 125.7 352.0 163.5"/>
<path d="M297.5 163.5Q319.5 153.0 352.0 163.5"/>
<path d="M307.7 163.5Q325.3 153.9 352.0 163.5"/>
<path d="M297.5 163.5Q328.5 148.5 352.0 163.5"/>
<path d="M213.1 163.5Q251.7 138.3 307.7 163.5"/>
<path d="M297.5 163.5Q327.7 151.8 352.0 163.5"/>
<path d="M196.4 163.5Q247.6 133.7 307.7 163.5"/>
<path d="M307.7 163.5Q328.9 155.3 352.0 163.5"/>
<path d="M197.8 163.5Q271.9 124.4 352.0 163.5"/>
<path d="M196.4 163.5Q275.2 135.6 352.0 163.5"/>
<path d="M297.5 163.5Q324.2 154.7 352.0 163.5"/>
<path d="M196.4 163.5Q238.3 145.0 297.5 163.5"/>
<path d="M197.8 163.5Q285.8 130.2 352.0 163.5"/>
<path d="M196.4 163.5Q250.7 141.3 307.7 163.5"/>
<path d="M213.1 163.5Q256.3 143.3 307.7 163.5"/>
<path d="M197.8 163.5Q203.7 159.5 213.1 163.5"/>
<path d="M197.8 163.5Q249.7 142.3 297.5 163.5"/>
</g>
<g stroke="#48b4a0" stroke-width="0.35" stroke-opacity="0.4" fill="none">
<path d="M297.5 183.2Q309.7 176.4 325.5 183.2"/>
<path d="M227.9 183.2Q259.6 163.9 297.5 183.2"/>
<path d="M232.7 183.2Q264.1 168.1 307.7 183.2"/>
<path d="M227.9 183.2Q259.2 165.8 307.7 183.2"/>
<path d="M227.9 183.2Q263.3 167.9 297.5 183.2"/>
<path d="M297.5 183.2Q312.5 176.5 325.5 183.2"/>
<path d="M232.7 183.2Q271.4 170.1 307.7 183.2"/>
<path d="M232.7 183.2Q264.3 164.7 307.7 183.2"/>
<path d="M227.9 183.2Q264.4 164.8 307.7 183.2"/>
<path d="M227.9 183.2Q270.5 158.6 325.5 183.2"/>
<path d="M227.9 183.2Q279.0 155.6 325.5 183.2"/>
<path d="M232.7 183.2Q270.2 159.9 325.5 183.2"/>
<path d="M232.7 183.2Q263.6 165.6 307.7 183.2"/>
<path d="M232.7 183.2Q279.5 165.4 325.5 183.2"/>
<path d="M227.9 183.2Q283.7 161.8 325.5 183.2"/>
<path d="M232.7 183.2Q266.3 172.6 297.5 183.2"/>
<path d="M227.9 183.2Q271.7 161.4 325.5 183.2"/>
<path d="M232.7 183.2Q275.7 161.9 325.5 183.2"/>
<path d="M232.7 183.2Q281.1 163.0 325.5 183.2"/>
<path d="M232.7 183.2Q268.0 170.4 307.7 183.2"/>
</g>
<g stroke="#40a8b4" stroke-width="0.35" stroke-opacity="0.38" fill="none">
<path d="M198.8 202.8Q220.5 193.9 246.9 202.8"/>
<path d="M285.6 202.8Q328.0 185.0 375.0 202.8"/>
<path d="M218.2 202.8Q228.6 196.9 239.7 202.8"/>
<path d="M239.7 202.8Q258.2 188.9 285.6 202.8"/>
<path d="M198.8 202.8Q218.4 194.0 246.9 202.8"/>
<path d="M263.6 202.8Q303.8 180.1 362.0 202.8"/>
<path d="M205.4 202.8Q220.4 195.5 239.7 202.8"/>
<path d="M246.9 202.8Q309.4 178.1 379.0 202.8"/>
<path d="M239.7 202.8Q310.9 179.3 379.0 202.8"/>
<path d="M218.2 202.8Q292.8 165.3 362.0 202.8"/>
<path d="M205.4 202.8Q279.4 160.5 379.0 202.8"/>
<path d="M198.8 202.8Q229.9 187.2 255.0 202.8"/>
<path d="M198.8 202.8Q262.9 175.0 362.0 202.8"/>
<path d="M246.9 202.8Q306.7 174.4 375.0 202.8"/>
<path d="M218.2 202.8Q256.4 189.3 285.6 202.8"/>
<path d="M195.8 202.8Q271.1 172.0 362.0 202.8"/>
<path d="M195.8 202.8Q215.5 190.1 246.9 202.8"/>
<path d="M218.2 202.8Q281.0 164.8 375.0 202.8"/>
<path d="M218.2 202.8Q255.5 184.2 285.6 202.8"/>
<path d="M239.7 202.8Q319.9 172.2 379.0 202.8"/>
<path d="M246.9 202.8Q315.4 178.6 379.0 202.8"/>
<path d="M246.9 202.8Q301.4 165.8 375.0 202.8"/>
<path d="M195.8 202.8Q291.2 170.9 362.0 202.8"/>
<path d="M285.6 202.8Q330.6 178.1 375.0 202.8"/>
<path d="M285.6 202.8Q337.3 185.9 375.0 202.8"/>
<path d="M198.8 202.8Q219.7 191.7 239.7 202.8"/>
<path d="M263.6 202.8Q317.3 173.9 362.0 202.8"/>
<path d="M246.9 202.8Q254.5 198.3 263.6 202.8"/>
<path d="M198.8 202.8Q227.5 183.6 263.6 202.8"/>
</g>
<g stroke="#4898b4" stroke-width="0.35" stroke-opacity="0.4" fill="none">
<path d="M307.2 222.4Q342.8 201.8 385.6 222.4"/>
<path d="M263.6 222.4Q317.8 197.9 366.8 222.4"/>
<path d="M325.0 222.4Q347.6 210.4 366.8 222.4"/>
<path d="M307.2 222.4Q321.6 216.5 333.3 222.4"/>
<path d="M263.6 222.4Q315.6 196.8 362.0 222.4"/>
<path d="M362.0 222.4Q370.9 216.8 383.0 222.4"/>
<path d="M233.0 222.4Q309.8 195.6 371.2 222.4"/>
<path d="M263.6 222.4Q301.5 194.6 362.0 222.4"/>
<path d="M263.6 222.4Q281.3 213.3 307.2 222.4"/>
<path d="M263.6 222.4Q306.7 197.5 366.8 222.4"/>
<path d="M233.0 222.4Q268.0 204.2 325.0 222.4"/>
<path d="M366.8 222.4Q375.0 219.8 383.0 222.4"/>
<path d="M263.6 222.4Q289.2 208.4 325.0 222.4"/>
<path d="M233.0 222.4Q293.1 196.4 366.8 222.4"/>
<path d="M307.2 222.4Q345.9 203.0 385.6 222.4"/>
<path d="M263.6 222.4Q320.3 202.0 366.8 222.4"/>
<path d="M362.0 222.4Q371.2 216.9 383.0 222.4"/>
<path d="M339.9 222.4Q358.0 214.0 385.6 222.4"/>
<path d="M307.2 222.4Q348.2 201.0 383.0 222.4"/>
<path d="M233.0 222.4Q288.6 201.0 333.3 222.4"/>
<path d="M333.3 222.4Q351.4 216.4 366.8 222.4"/>
<path d="M366.8 222.4Q373.3 219.0 383.0 222.4"/>
</g>
<line x1="198" y1="45.6" x2="385.7" y2="45.6" stroke="#f4a2a0" stroke-width="1.1"/>
<line x1="196" y1="65.4" x2="379" y2="65.4" stroke="#f2c690" stroke-width="1.1"/>
<line x1="197" y1="85.2" x2="385.8" y2="85.2" stroke="#f6f060" stroke-width="1.1"/>
<line x1="296.9" y1="104.6" x2="385.8" y2="104.6" stroke="#f4f07a" stroke-width="1.1"/>
<line x1="246.9" y1="124.4" x2="379.7" y2="124.4" stroke="#98e676" stroke-width="1.1"/>
<line x1="221.3" y1="143.8" x2="385.8" y2="143.8" stroke="#86e47e" stroke-width="1.1"/>
<line x1="197.8" y1="163.5" x2="352" y2="163.5" stroke="#84e490" stroke-width="1.1"/>
<line x1="232.7" y1="183.2" x2="385.6" y2="183.2" stroke="#78e2c8" stroke-width="1.4"/>
<line x1="195.8" y1="202.8" x2="379" y2="202.8" stroke="#7ae0ee" stroke-width="1.4"/>
<line x1="197" y1="222.4" x2="385.6" y2="222.4" stroke="#98f0f0" stroke-width="1.4"/>
<defs><radialGradient id="ng"><stop offset="0" stop-color="#b83048"/><stop offset="0.1" stop-color="#e05040"/><stop offset="0.28" stop-color="#f49432"/><stop offset="0.55" stop-color="#f8c830"/><stop offset="0.85" stop-color="#f8e430"/><stop offset="1" stop-color="#f8ea3c"/></radialGradient></defs>
<rect x="191.60" y="38.60" width="14.00" height="14.00" fill="url(#ng)" transform="rotate(45 198.60 45.60)"/>
<circle cx="254.7" cy="45.6" r="1.02" fill="#e0543a"/>
<rect x="260.96" y="42.86" width="5.47" height="5.47" fill="url(#ng)" transform="rotate(45 263.70 45.60)"/>
<rect x="270.76" y="42.86" width="5.47" height="5.47" fill="url(#ng)" transform="rotate(45 273.50 45.60)"/>
<rect x="282.06" y="42.86" width="5.47" height="5.47" fill="url(#ng)" transform="rotate(45 284.80 45.60)"/>
<rect x="298.25" y="43.55" width="4.10" height="4.10" fill="url(#ng)" transform="rotate(45 300.30 45.60)"/>
<rect x="304.08" y="42.18" width="6.84" height="6.84" fill="url(#ng)" transform="rotate(45 307.50 45.60)"/>
<rect x="317.45" y="43.55" width="4.10" height="4.10" fill="url(#ng)" transform="rotate(45 319.50 45.60)"/>
<rect x="322.86" y="42.86" width="5.47" height="5.47" fill="url(#ng)" transform="rotate(45 325.60 45.60)"/>
<circle cx="333.4" cy="45.6" r="1.02" fill="#e0543a"/>
<rect x="336.86" y="42.86" width="5.47" height="5.47" fill="url(#ng)" transform="rotate(45 339.60 45.60)"/>
<circle cx="349.0" cy="45.6" r="1.02" fill="#e0543a"/>
<circle cx="351.3" cy="45.6" r="1.02" fill="#e0543a"/>
<circle cx="358.0" cy="45.6" r="1.02" fill="#e0543a"/>
<rect x="360.11" y="43.21" width="4.79" height="4.79" fill="url(#ng)" transform="rotate(45 362.50 45.60)"/>
<circle cx="368.0" cy="45.6" r="1.02" fill="#e0543a"/>
<rect x="368.35" y="43.55" width="4.10" height="4.10" fill="url(#ng)" transform="rotate(45 370.40 45.60)"/>
<circle cx="381.4" cy="45.6" r="1.02" fill="#e0543a"/>
<rect x="384.20" y="44.10" width="3.01" height="3.01" fill="url(#ng)" transform="rotate(45 385.70 45.60)"/>
<rect x="193.31" y="63.01" width="4.79" height="4.79" fill="url(#ng)" transform="rotate(45 195.70 65.40)"/>
<rect x="217.92" y="62.32" width="6.16" height="6.16" fill="url(#ng)" transform="rotate(45 221.00 65.40)"/>
<rect x="227.95" y="60.35" width="10.11" height="10.11" fill="url(#ng)" transform="rotate(45 233.00 65.40)"/>
<rect x="242.96" y="62.66" width="5.47" height="5.47" fill="url(#ng)" transform="rotate(45 245.70 65.40)"/>
<rect x="260.28" y="61.98" width="6.84" height="6.84" fill="url(#ng)" transform="rotate(45 263.70 65.40)"/>
<circle cx="275.4" cy="65.4" r="1.02" fill="#e0543a"/>
<rect x="281.31" y="63.01" width="4.79" height="4.79" fill="url(#ng)" transform="rotate(45 283.70 65.40)"/>
<rect x="283.75" y="63.35" width="4.10" height="4.10" fill="url(#ng)" transform="rotate(45 285.80 65.40)"/>
<circle cx="301.0" cy="65.4" r="1.02" fill="#e0543a"/>
<rect x="304.31" y="63.01" width="4.79" height="4.79" fill="url(#ng)" transform="rotate(45 306.70 65.40)"/>
<circle cx="334.5" cy="65.4" r="1.02" fill="#e0543a"/>
<rect x="336.61" y="63.01" width="4.79" height="4.79" fill="url(#ng)" transform="rotate(45 339.00 65.40)"/>
<circle cx="341.2" cy="65.4" r="1.02" fill="#e0543a"/>
<circle cx="358.0" cy="65.4" r="1.02" fill="#e0543a"/>
<rect x="359.01" y="63.01" width="4.79" height="4.79" fill="url(#ng)" transform="rotate(45 361.40 65.40)"/>
<circle cx="374.8" cy="65.4" r="1.02" fill="#e0543a"/>
<rect x="376.15" y="63.35" width="4.10" height="4.10" fill="url(#ng)" transform="rotate(45 378.20 65.40)"/>
<rect x="200.82" y="82.12" width="6.16" height="6.16" fill="url(#ng)" transform="rotate(45 203.90 85.20)"/>
<rect x="209.36" y="82.46" width="5.47" height="5.47" fill="url(#ng)" transform="rotate(45 212.10 85.20)"/>
<rect x="224.26" y="82.46" width="5.47" height="5.47" fill="url(#ng)" transform="rotate(45 227.00 85.20)"/>
<rect x="230.26" y="82.46" width="5.47" height="5.47" fill="url(#ng)" transform="rotate(45 233.00 85.20)"/>
<rect x="243.66" y="82.46" width="5.47" height="5.47" fill="url(#ng)" transform="rotate(45 246.40 85.20)"/>
<circle cx="256.3" cy="85.2" r="1.02" fill="#e0543a"/>
<rect x="257.31" y="82.81" width="4.79" height="4.79" fill="url(#ng)" transform="rotate(45 259.70 85.20)"/>
<rect x="261.36" y="82.46" width="5.47" height="5.47" fill="url(#ng)" transform="rotate(45 264.10 85.20)"/>
<circle cx="273.3" cy="85.2" r="1.02" fill="#e0543a"/>
<circle cx="277.0" cy="85.2" r="1.02" fill="#e0543a"/>
<circle cx="285.0" cy="85.2" r="1.02" fill="#e0543a"/>
<circle cx="332.2" cy="85.2" r="1.02" fill="#e0543a"/>
<circle cx="336.3" cy="85.2" r="1.02" fill="#e0543a"/>
<rect x="337.36" y="82.46" width="5.47" height="5.47" fill="url(#ng)" transform="rotate(45 340.10 85.20)"/>
<circle cx="352.4" cy="85.2" r="1.02" fill="#e0543a"/>
<circle cx="361.4" cy="85.2" r="1.02" fill="#e0543a"/>
<circle cx="367.0" cy="85.2" r="1.02" fill="#e0543a"/>
<rect x="369.11" y="82.81" width="4.79" height="4.79" fill="url(#ng)" transform="rotate(45 371.50 85.20)"/>
<circle cx="376.0" cy="85.2" r="1.02" fill="#e0543a"/>
<circle cx="378.2" cy="85.2" r="1.02" fill="#e0543a"/>
<rect x="383.50" y="83.70" width="3.01" height="3.01" fill="url(#ng)" transform="rotate(45 385.00 85.20)"/>
<circle cx="296.9" cy="104.6" r="1.02" fill="#e0543a"/>
<rect x="299.61" y="102.21" width="4.79" height="4.79" fill="url(#ng)" transform="rotate(45 302.00 104.60)"/>
<rect x="306.45" y="102.55" width="4.10" height="4.10" fill="url(#ng)" transform="rotate(45 308.50 104.60)"/>
<circle cx="317.0" cy="104.6" r="1.02" fill="#e0543a"/>
<circle cx="325.5" cy="104.6" r="1.02" fill="#e0543a"/>
<rect x="337.26" y="101.86" width="5.47" height="5.47" fill="url(#ng)" transform="rotate(45 340.00 104.60)"/>
<circle cx="352.0" cy="104.6" r="1.02" fill="#e0543a"/>
<rect x="359.95" y="102.55" width="4.10" height="4.10" fill="url(#ng)" transform="rotate(45 362.00 104.60)"/>
<circle cx="367.0" cy="104.6" r="1.02" fill="#e0543a"/>
<rect x="369.63" y="103.23" width="2.74" height="2.74" fill="url(#ng)" transform="rotate(45 371.00 104.60)"/>
<rect x="376.63" y="103.23" width="2.74" height="2.74" fill="url(#ng)" transform="rotate(45 378.00 104.60)"/>
<rect x="383.75" y="102.55" width="4.10" height="4.10" fill="url(#ng)" transform="rotate(45 385.80 104.60)"/>
<circle cx="239.7" cy="124.4" r="0.82" fill="#e0543a"/>
<circle cx="242.0" cy="124.4" r="0.82" fill="#e0543a"/>
<circle cx="244.0" cy="124.4" r="0.82" fill="#e0543a"/>
<rect x="245.19" y="122.69" width="3.42" height="3.42" fill="url(#ng)" transform="rotate(45 246.90 124.40)"/>
<circle cx="296.9" cy="124.4" r="1.02" fill="#e0543a"/>
<rect x="304.86" y="121.66" width="5.47" height="5.47" fill="url(#ng)" transform="rotate(45 307.60 124.40)"/>
<circle cx="322.0" cy="124.4" r="1.02" fill="#e0543a"/>
<circle cx="326.0" cy="124.4" r="1.02" fill="#e0543a"/>
<circle cx="332.0" cy="124.4" r="1.02" fill="#e0543a"/>
<circle cx="340.0" cy="124.4" r="1.02" fill="#e0543a"/>
<rect x="349.95" y="122.35" width="4.10" height="4.10" fill="url(#ng)" transform="rotate(45 352.00 124.40)"/>
<circle cx="360.0" cy="124.4" r="1.02" fill="#e0543a"/>
<circle cx="365.0" cy="124.4" r="1.02" fill="#e0543a"/>
<circle cx="370.0" cy="124.4" r="1.02" fill="#e0543a"/>
<rect x="372.95" y="122.35" width="4.10" height="4.10" fill="url(#ng)" transform="rotate(45 375.00 124.40)"/>
<rect x="378.33" y="123.03" width="2.74" height="2.74" fill="url(#ng)" transform="rotate(45 379.70 124.40)"/>
<circle cx="218.2" cy="143.8" r="0.82" fill="#e0543a"/>
<rect x="218.91" y="141.41" width="4.79" height="4.79" fill="url(#ng)" transform="rotate(45 221.30 143.80)"/>
<circle cx="257.0" cy="143.8" r="1.02" fill="#e0543a"/>
<circle cx="262.0" cy="143.8" r="1.02" fill="#e0543a"/>
<circle cx="264.2" cy="143.8" r="1.02" fill="#e0543a"/>
<circle cx="297.5" cy="143.8" r="1.02" fill="#e0543a"/>
<rect x="304.96" y="141.06" width="5.47" height="5.47" fill="url(#ng)" transform="rotate(45 307.70 143.80)"/>
<circle cx="316.7" cy="143.8" r="1.02" fill="#e0543a"/>
<rect x="323.45" y="141.75" width="4.10" height="4.10" fill="url(#ng)" transform="rotate(45 325.50 143.80)"/>
<circle cx="352.0" cy="143.8" r="1.02" fill="#e0543a"/>
<circle cx="362.3" cy="143.8" r="1.02" fill="#e0543a"/>
<circle cx="371.0" cy="143.8" r="1.02" fill="#e0543a"/>
<circle cx="378.6" cy="143.8" r="1.02" fill="#e0543a"/>
<rect x="384.30" y="142.30" width="3.01" height="3.01" fill="url(#ng)" transform="rotate(45 385.80 143.80)"/>
<circle cx="196.4" cy="163.5" r="1.02" fill="#e0543a"/>
<rect x="195.75" y="161.45" width="4.10" height="4.10" fill="url(#ng)" transform="rotate(45 197.80 163.50)"/>
<circle cx="213.1" cy="163.5" r="1.02" fill="#e0543a"/>
<circle cx="297.5" cy="163.5" r="1.02" fill="#e0543a"/>
<rect x="305.99" y="161.79" width="3.42" height="3.42" fill="url(#ng)" transform="rotate(45 307.70 163.50)"/>
<circle cx="352.0" cy="163.5" r="1.02" fill="#e0543a"/>
<circle cx="227.9" cy="183.2" r="1.02" fill="#e0543a"/>
<rect x="230.65" y="181.15" width="4.10" height="4.10" fill="url(#ng)" transform="rotate(45 232.70 183.20)"/>
<circle cx="297.5" cy="183.2" r="1.02" fill="#e0543a"/>
<circle cx="307.7" cy="183.2" r="1.02" fill="#e0543a"/>
<circle cx="325.5" cy="183.2" r="1.02" fill="#e0543a"/>
<rect x="193.41" y="200.41" width="4.79" height="4.79" fill="url(#ng)" transform="rotate(45 195.80 202.80)"/>
<rect x="196.41" y="200.41" width="4.79" height="4.79" fill="url(#ng)" transform="rotate(45 198.80 202.80)"/>
<rect x="202.32" y="199.72" width="6.16" height="6.16" fill="url(#ng)" transform="rotate(45 205.40 202.80)"/>
<circle cx="218.2" cy="202.8" r="1.02" fill="#e0543a"/>
<circle cx="221.3" cy="202.8" r="1.02" fill="#e0543a"/>
<circle cx="239.7" cy="202.8" r="1.02" fill="#e0543a"/>
<rect x="245.19" y="201.09" width="3.42" height="3.42" fill="url(#ng)" transform="rotate(45 246.90 202.80)"/>
<circle cx="255.0" cy="202.8" r="0.82" fill="#e0543a"/>
<circle cx="257.6" cy="202.8" r="1.02" fill="#e0543a"/>
<circle cx="263.6" cy="202.8" r="1.02" fill="#e0543a"/>
<circle cx="285.6" cy="202.8" r="1.02" fill="#e0543a"/>
<circle cx="362.0" cy="202.8" r="1.02" fill="#e0543a"/>
<rect x="373.29" y="201.09" width="3.42" height="3.42" fill="url(#ng)" transform="rotate(45 375.00 202.80)"/>
<rect x="377.63" y="201.43" width="2.74" height="2.74" fill="url(#ng)" transform="rotate(45 379.00 202.80)"/>
<circle cx="233.0" cy="222.4" r="1.02" fill="#e0543a"/>
<rect x="261.21" y="220.01" width="4.79" height="4.79" fill="url(#ng)" transform="rotate(45 263.60 222.40)"/>
<rect x="304.81" y="220.01" width="4.79" height="4.79" fill="url(#ng)" transform="rotate(45 307.20 222.40)"/>
<circle cx="325.0" cy="222.4" r="1.02" fill="#e0543a"/>
<rect x="331.93" y="221.03" width="2.74" height="2.74" fill="url(#ng)" transform="rotate(45 333.30 222.40)"/>
<rect x="337.85" y="220.35" width="4.10" height="4.10" fill="url(#ng)" transform="rotate(45 339.90 222.40)"/>
<circle cx="362.0" cy="222.4" r="1.02" fill="#e0543a"/>
<circle cx="366.8" cy="222.4" r="1.02" fill="#e0543a"/>
<circle cx="371.2" cy="222.4" r="1.02" fill="#e0543a"/>
<circle cx="383.0" cy="222.4" r="1.02" fill="#e0543a"/>
<rect x="384.10" y="220.90" width="3.01" height="3.01" fill="url(#ng)" transform="rotate(45 385.60 222.40)"/>
<circle cx="195.5" cy="53.0" r="1.09" fill="#e0543a"/>
<rect x="200.53" y="52.03" width="9.33" height="9.33" fill="url(#ng)" transform="rotate(45 205.20 56.70)"/>
<rect x="305.42" y="240.42" width="3.56" height="3.56" fill="url(#ng)" transform="rotate(45 307.20 242.20)"/>
<circle cx="196.4" cy="154.3" r="1.09" fill="#e0543a"/>
<rect x="199.11" y="77.11" width="4.79" height="4.79" fill="url(#ng)" transform="rotate(45 201.50 79.50)"/>
<text x="393.3" y="46.47" font-size="6.3" font-weight="700" fill="#981818" textLength="76.8" lengthAdjust="spacingAndGlyphs">#0 photodynamic therapy</text>
<text x="393.3" y="65.80" font-size="6.1" font-weight="700" fill="#983020" textLength="69.3" lengthAdjust="spacingAndGlyphs">#1 targeted drug delivery</text>
<text x="393.3" y="85.20" font-size="5.0" font-weight="700" fill="#9a7818" textLength="51.7" lengthAdjust="spacingAndGlyphs">#2 gold nanoparticles</text>
<text x="393.3" y="104.53" font-size="4.8" font-weight="700" fill="#6e9a1c" textLength="37.8" lengthAdjust="spacingAndGlyphs">#3 angiogenesis</text>
<text x="393.3" y="123.86" font-size="4.6" font-weight="700" fill="#3e9a26" textLength="31.8" lengthAdjust="spacingAndGlyphs">#4 biomarkers</text>
<text x="393.3" y="144.86" font-size="4.6" font-weight="700" fill="#2a9a36" textLength="27.3" lengthAdjust="spacingAndGlyphs">#5 prognosis</text>
<text x="393.3" y="163.96" font-size="4.6" font-weight="700" fill="#269a3e" textLength="67.0" lengthAdjust="spacingAndGlyphs">#6 nanostructured lipid carriers</text>
<text x="393.3" y="183.36" font-size="4.6" font-weight="700" fill="#1e9a58" textLength="29.0" lengthAdjust="spacingAndGlyphs">#7 metastasis</text>
<text x="393.3" y="203.26" font-size="4.6" font-weight="700" fill="#1a8a8c" textLength="30.9" lengthAdjust="spacingAndGlyphs">#8 therapeutics</text>
<text x="393.3" y="223.16" font-size="4.6" font-weight="700" fill="#2a6c9c" textLength="33.3" lengthAdjust="spacingAndGlyphs">#9 biodistribution</text>
<g fill="#3a2ccc" font-weight="700">
<text transform="translate(180.5,67.2) rotate(-28.0)" x="0" y="1.79" font-size="4.968" textLength="38.0" lengthAdjust="spacingAndGlyphs">antitumor activity</text>
<text transform="translate(180.0,85.4) rotate(-28.5)" x="0" y="1.93" font-size="5.356800000000001" textLength="39.9" lengthAdjust="spacingAndGlyphs">targeted delivery</text>
<text transform="translate(186.0,92.1) rotate(-27.6)" x="0" y="1.44" font-size="4.0" textLength="39.6" lengthAdjust="spacingAndGlyphs">mesoporous silica</text>
<text transform="translate(199.4,88.4) rotate(-29.5)" x="0" y="1.79" font-size="4.968" textLength="52.4" lengthAdjust="spacingAndGlyphs">breast cancer treatment</text>
<text transform="translate(191.5,101.8) rotate(-25.9)" x="0" y="1.91" font-size="5.292000000000001" textLength="31.8" lengthAdjust="spacingAndGlyphs">nanoparticles</text>
<text transform="translate(210.4,104.0) rotate(-26.6)" x="0" y="1.79" font-size="4.968" textLength="43.0" lengthAdjust="spacingAndGlyphs">photothermal therapy</text>
<text transform="translate(266.0,60.9) rotate(-27.5)" x="0" y="1.79" font-size="4.968" textLength="19.1" lengthAdjust="spacingAndGlyphs">cell death</text>
<text transform="translate(286.3,65.3) rotate(-27.4)" x="0" y="1.79" font-size="4.968" textLength="31.5" lengthAdjust="spacingAndGlyphs">cancer treatment</text>
<text transform="translate(315.0,53.6) rotate(-23.2)" x="0" y="1.79" font-size="4.968" textLength="8.3" lengthAdjust="spacingAndGlyphs">drug</text>
<text transform="translate(326.8,55.7) rotate(-28.4)" x="0" y="1.79" font-size="4.968" textLength="18.5" lengthAdjust="spacingAndGlyphs">cell cycle</text>
<text transform="translate(315.6,60.9) rotate(-28.1)" x="0" y="1.79" font-size="4.968" textLength="7.5" lengthAdjust="spacingAndGlyphs">acid</text>
<text transform="translate(290.2,79.2) rotate(-30.6)" x="0" y="1.87" font-size="5.184" textLength="32.6" lengthAdjust="spacingAndGlyphs">nanomedicine</text>
<text transform="translate(266.7,83.1) rotate(-26.6)" x="0" y="1.79" font-size="4.968" textLength="43.0" lengthAdjust="spacingAndGlyphs">targeted drug delivery</text>
<text transform="translate(329.4,75.2) rotate(-31.6)" x="0" y="1.79" font-size="4.968" textLength="17.5" lengthAdjust="spacingAndGlyphs">folic acid</text>
<text transform="translate(294.2,114.2) rotate(-29.1)" x="0" y="1.79" font-size="4.968" textLength="19.1" lengthAdjust="spacingAndGlyphs">metastasis</text>
<text transform="translate(275.9,147.8) rotate(-29.1)" x="0" y="1.82" font-size="5.0436000000000005" textLength="54.3" lengthAdjust="spacingAndGlyphs">chemotherapeutic agent</text>
<text transform="translate(182.5,167.6) rotate(-29.3)" x="0" y="1.84" font-size="5.0976" textLength="35.6" lengthAdjust="spacingAndGlyphs">anticancer drug</text>
<text transform="translate(199.9,168.6) rotate(-29.5)" x="0" y="1.94" font-size="5.4" textLength="53.2" lengthAdjust="spacingAndGlyphs">breast cancer patients</text>
<text transform="translate(245.8,156.8) rotate(-30.7)" x="0" y="1.79" font-size="4.968" textLength="34.2" lengthAdjust="spacingAndGlyphs">androgen receptor</text>
<text transform="translate(212.8,198.8) rotate(-28.9)" x="0" y="1.79" font-size="4.968" textLength="49.2" lengthAdjust="spacingAndGlyphs">metastatic breast cancer</text>
<text transform="translate(224.0,199.4) rotate(-28.8)" x="0" y="1.79" font-size="4.968" textLength="22.2" lengthAdjust="spacingAndGlyphs">metastasis</text>
<text transform="translate(181.5,224.0) rotate(-30.9)" x="0" y="1.97" font-size="5.475600000000001" textLength="34.9" lengthAdjust="spacingAndGlyphs">chemotherapy</text>
<text transform="translate(320.3,244.0) rotate(-28.2)" x="0" y="1.79" font-size="4.968" textLength="49.0" lengthAdjust="spacingAndGlyphs">encapsulation efficiency</text>
</g>
<defs><linearGradient id="plasma" x1="0" y1="0" x2="0" y2="1"><stop offset="0" stop-color="#f6ee2a"/><stop offset="0.1" stop-color="#f8cc30"/><stop offset="0.25" stop-color="#f4a040"/><stop offset="0.4" stop-color="#e87060"/><stop offset="0.55" stop-color="#d04a80"/><stop offset="0.7" stop-color="#a020a8"/><stop offset="0.85" stop-color="#6010b0"/><stop offset="1" stop-color="#1a0c8a"/></linearGradient></defs>
<rect x="437.6" y="204.6" width="18" height="60.1" fill="url(#plasma)"/>
<g font-size="2.2" fill="#111" text-anchor="middle" font-weight="700">
<text x="446.6" y="208.00">2023</text>
<text x="446.6" y="211.72">2022</text>
<text x="446.6" y="215.44">2021</text>
<text x="446.6" y="219.16">2020</text>
<text x="446.6" y="222.88">2019</text>
<text x="446.6" y="226.60">2018</text>
<text x="446.6" y="230.32">2017</text>
<text x="446.6" y="234.04">2016</text>
<text x="446.6" y="237.76">2015</text>
<text x="446.6" y="241.48">2014</text>
<text x="446.6" y="245.20">2013</text>
<text x="446.6" y="248.92">2012</text>
<text x="446.6" y="252.64">2011</text>
<text x="446.6" y="256.36">2010</text>
<text x="446.6" y="260.08">2009</text>
<text x="446.6" y="263.80">2008</text>
</g>
<text transform="translate(468.8,8) scale(0.9,1)" font-size="8" fill="#111">D</text>
<text x="490" y="16.2" font-size="8" fill="#111">Top 25 Keywords with the Strongest Citation Bursts</text>
<g font-size="4.75" fill="#111" stroke="#111" stroke-width="0.12">
<text x="516.2" y="28.9" text-anchor="middle">Keywords</text>
<text x="550.5" y="28.9" text-anchor="middle">Year</text>
<text x="568" y="28.9" text-anchor="middle">Strength</text>
<text x="586" y="28.9" text-anchor="middle">Begin</text>
<text x="599.5" y="28.9" text-anchor="middle">End</text>
<text x="646" y="28.9" text-anchor="middle">2008 - 2023</text>
</g>
<g font-size="4.75" fill="#111" stroke="#111" stroke-width="0.12">
<text x="480" y="37.70">quantum dots</text>
<text x="550.5" y="37.70" text-anchor="middle">2011</text>
<text x="570" y="37.70" text-anchor="middle">3.5</text>
<text x="584.8" y="37.70" text-anchor="middle">2011</text>
<text x="599.8" y="37.70" text-anchor="middle">2015</text>
<rect x="610.20" y="34.35" width="13.65" height="1.1" fill="#bfe6e8" stroke="none"/>
<rect x="623.85" y="34.20" width="59.15" height="1.4" fill="#3aa8b0" stroke="none"/>
<rect x="623.85" y="33.80" width="22.75" height="2.2" fill="#ee1c1c" stroke="none"/>
<text x="480" y="47.11">circulating tumor cells</text>
<text x="550.5" y="47.11" text-anchor="middle">2012</text>
<text x="570" y="47.11" text-anchor="middle">2.47</text>
<text x="584.8" y="47.11" text-anchor="middle">2012</text>
<text x="599.8" y="47.11" text-anchor="middle">2018</text>
<rect x="610.20" y="43.76" width="18.20" height="1.1" fill="#bfe6e8" stroke="none"/>
<rect x="628.40" y="43.61" width="54.60" height="1.4" fill="#3aa8b0" stroke="none"/>
<rect x="628.40" y="43.21" width="31.85" height="2.2" fill="#ee1c1c" stroke="none"/>
<text x="480" y="56.52">gold nanoparticles</text>
<text x="550.5" y="56.52" text-anchor="middle">2013</text>
<text x="570" y="56.52" text-anchor="middle">2.84</text>
<text x="584.8" y="56.52" text-anchor="middle">2013</text>
<text x="599.8" y="56.52" text-anchor="middle">2016</text>
<rect x="610.20" y="53.17" width="22.75" height="1.1" fill="#bfe6e8" stroke="none"/>
<rect x="632.95" y="53.02" width="50.05" height="1.4" fill="#3aa8b0" stroke="none"/>
<rect x="632.95" y="52.62" width="18.20" height="2.2" fill="#ee1c1c" stroke="none"/>
<text x="480" y="65.92">transmis electron microscopy</text>
<text x="550.5" y="65.92" text-anchor="middle">2014</text>
<text x="570" y="65.92" text-anchor="middle">3.2</text>
<text x="584.8" y="65.92" text-anchor="middle">2014</text>
<text x="599.8" y="65.92" text-anchor="middle">2016</text>
<rect x="610.20" y="62.57" width="27.30" height="1.1" fill="#bfe6e8" stroke="none"/>
<rect x="637.50" y="62.42" width="45.50" height="1.4" fill="#3aa8b0" stroke="none"/>
<rect x="637.50" y="62.02" width="13.65" height="2.2" fill="#ee1c1c" stroke="none"/>
<text x="480" y="75.33">silver nanoparticles</text>
<text x="550.5" y="75.33" text-anchor="middle">2014</text>
<text x="570" y="75.33" text-anchor="middle">2.41</text>
<text x="584.8" y="75.33" text-anchor="middle">2014</text>
<text x="599.8" y="75.33" text-anchor="middle">2015</text>
<rect x="610.20" y="71.98" width="27.30" height="1.1" fill="#bfe6e8" stroke="none"/>
<rect x="637.50" y="71.83" width="45.50" height="1.4" fill="#3aa8b0" stroke="none"/>
<rect x="637.50" y="71.43" width="9.10" height="2.2" fill="#ee1c1c" stroke="none"/>
<text x="480" y="84.74">toxicity</text>
<text x="550.5" y="84.74" text-anchor="middle">2014</text>
<text x="570" y="84.74" text-anchor="middle">2.2</text>
<text x="584.8" y="84.74" text-anchor="middle">2014</text>
<text x="599.8" y="84.74" text-anchor="middle">2020</text>
<rect x="610.20" y="81.39" width="27.30" height="1.1" fill="#bfe6e8" stroke="none"/>
<rect x="637.50" y="81.24" width="45.50" height="1.4" fill="#3aa8b0" stroke="none"/>
<rect x="637.50" y="80.84" width="31.85" height="2.2" fill="#ee1c1c" stroke="none"/>
<text x="480" y="94.15">iron oxide nanoparticles</text>
<text x="550.5" y="94.15" text-anchor="middle">2015</text>
<text x="570" y="94.15" text-anchor="middle">5.47</text>
<text x="584.8" y="94.15" text-anchor="middle">2015</text>
<text x="599.8" y="94.15" text-anchor="middle">2017</text>
<rect x="610.20" y="90.80" width="31.85" height="1.1" fill="#bfe6e8" stroke="none"/>
<rect x="642.05" y="90.65" width="40.95" height="1.4" fill="#3aa8b0" stroke="none"/>
<rect x="642.05" y="90.25" width="13.65" height="2.2" fill="#ee1c1c" stroke="none"/>
<text x="480" y="103.56">chemotherapy</text>
<text x="550.5" y="103.56" text-anchor="middle">2015</text>
<text x="570" y="103.56" text-anchor="middle">2.85</text>
<text x="584.8" y="103.56" text-anchor="middle">2015</text>
<text x="599.8" y="103.56" text-anchor="middle">2017</text>
<rect x="610.20" y="100.06" width="72.80" height="1.4" fill="#3aa8b0" stroke="none"/>
<rect x="642.05" y="99.66" width="13.65" height="2.2" fill="#ee1c1c" stroke="none"/>
<text x="480" y="112.96">nanotechnology</text>
<text x="550.5" y="112.96" text-anchor="middle">2016</text>
<text x="570" y="112.96" text-anchor="middle">3.62</text>
<text x="584.8" y="112.96" text-anchor="middle">2016</text>
<text x="599.8" y="112.96" text-anchor="middle">2017</text>
<rect x="610.20" y="109.61" width="13.65" height="1.1" fill="#bfe6e8" stroke="none"/>
<rect x="623.85" y="109.46" width="59.15" height="1.4" fill="#3aa8b0" stroke="none"/>
<rect x="646.60" y="109.06" width="9.10" height="2.2" fill="#ee1c1c" stroke="none"/>
<text x="480" y="122.37">metastatic breast cancer</text>
<text x="550.5" y="122.37" text-anchor="middle">2016</text>
<text x="570" y="122.37" text-anchor="middle">3.44</text>
<text x="584.8" y="122.37" text-anchor="middle">2016</text>
<text x="599.8" y="122.37" text-anchor="middle">2018</text>
<rect x="610.20" y="119.02" width="18.20" height="1.1" fill="#bfe6e8" stroke="none"/>
<rect x="628.40" y="118.87" width="54.60" height="1.4" fill="#3aa8b0" stroke="none"/>
<rect x="646.60" y="118.47" width="13.65" height="2.2" fill="#ee1c1c" stroke="none"/>
<text x="480" y="131.78">synergistic effect</text>
<text x="550.5" y="131.78" text-anchor="middle">2016</text>
<text x="570" y="131.78" text-anchor="middle">2.26</text>
<text x="584.8" y="131.78" text-anchor="middle">2016</text>
<text x="599.8" y="131.78" text-anchor="middle">2017</text>
<rect x="610.20" y="128.43" width="36.40" height="1.1" fill="#bfe6e8" stroke="none"/>
<rect x="646.60" y="128.28" width="36.40" height="1.4" fill="#3aa8b0" stroke="none"/>
<rect x="646.60" y="127.88" width="9.10" height="2.2" fill="#ee1c1c" stroke="none"/>
<text x="480" y="141.19">photothermal ablation</text>
<text x="550.5" y="141.19" text-anchor="middle">2017</text>
<text x="570" y="141.19" text-anchor="middle">2.24</text>
<text x="584.8" y="141.19" text-anchor="middle">2017</text>
<text x="599.8" y="141.19" text-anchor="middle">2018</text>
<rect x="610.20" y="137.84" width="40.95" height="1.1" fill="#bfe6e8" stroke="none"/>
<rect x="651.15" y="137.69" width="31.85" height="1.4" fill="#3aa8b0" stroke="none"/>
<rect x="651.15" y="137.29" width="9.10" height="2.2" fill="#ee1c1c" stroke="none"/>
<text x="480" y="150.60">efficacy</text>
<text x="550.5" y="150.60" text-anchor="middle">2018</text>
<text x="570" y="150.60" text-anchor="middle">2.81</text>
<text x="584.8" y="150.60" text-anchor="middle">2018</text>
<text x="599.8" y="150.60" text-anchor="middle">2020</text>
<rect x="610.20" y="147.25" width="22.75" height="1.1" fill="#bfe6e8" stroke="none"/>
<rect x="632.95" y="147.10" width="50.05" height="1.4" fill="#3aa8b0" stroke="none"/>
<rect x="655.70" y="146.70" width="13.65" height="2.2" fill="#ee1c1c" stroke="none"/>
<text x="480" y="160.00">magnetic nanoparticles</text>
<text x="550.5" y="160.00" text-anchor="middle">2018</text>
<text x="570" y="160.00" text-anchor="middle">2.28</text>
<text x="584.8" y="160.00" text-anchor="middle">2018</text>
<text x="599.8" y="160.00" text-anchor="middle">2020</text>
<rect x="610.20" y="156.65" width="31.85" height="1.1" fill="#bfe6e8" stroke="none"/>
<rect x="642.05" y="156.50" width="40.95" height="1.4" fill="#3aa8b0" stroke="none"/>
<rect x="655.70" y="156.10" width="13.65" height="2.2" fill="#ee1c1c" stroke="none"/>
<text x="480" y="169.41">encapsulation efficaciency</text>
<text x="550.5" y="169.41" text-anchor="middle">2018</text>
<text x="570" y="169.41" text-anchor="middle">2.25</text>
<text x="584.8" y="169.41" text-anchor="middle">2018</text>
<text x="599.8" y="169.41" text-anchor="middle">2020</text>
<rect x="610.20" y="166.06" width="45.50" height="1.1" fill="#bfe6e8" stroke="none"/>
<rect x="655.70" y="165.91" width="27.30" height="1.4" fill="#3aa8b0" stroke="none"/>
<rect x="655.70" y="165.51" width="13.65" height="2.2" fill="#ee1c1c" stroke="none"/>
<text x="480" y="178.82">multidrug resistance</text>
<text x="550.5" y="178.82" text-anchor="middle">2018</text>
<text x="570" y="178.82" text-anchor="middle">2.2</text>
<text x="584.8" y="178.82" text-anchor="middle">2018</text>
<text x="599.8" y="178.82" text-anchor="middle">2021</text>
<rect x="610.20" y="175.47" width="45.50" height="1.1" fill="#bfe6e8" stroke="none"/>
<rect x="655.70" y="175.32" width="27.30" height="1.4" fill="#3aa8b0" stroke="none"/>
<rect x="655.70" y="174.92" width="18.20" height="2.2" fill="#ee1c1c" stroke="none"/>
<text x="480" y="188.23">doxorubicin</text>
<text x="550.5" y="188.23" text-anchor="middle">2019</text>
<text x="570" y="188.23" text-anchor="middle">2.42</text>
<text x="584.8" y="188.23" text-anchor="middle">2019</text>
<text x="599.8" y="188.23" text-anchor="middle">2020</text>
<rect x="610.20" y="184.88" width="36.40" height="1.1" fill="#bfe6e8" stroke="none"/>
<rect x="646.60" y="184.73" width="36.40" height="1.4" fill="#3aa8b0" stroke="none"/>
<rect x="660.25" y="184.33" width="9.10" height="2.2" fill="#ee1c1c" stroke="none"/>
<text x="480" y="197.64">scanning electron microscopy</text>
<text x="550.5" y="197.64" text-anchor="middle">2020</text>
<text x="570" y="197.64" text-anchor="middle">3.04</text>
<text x="584.8" y="197.64" text-anchor="middle">2020</text>
<text x="599.8" y="197.64" text-anchor="middle">2021</text>
<rect x="610.20" y="194.29" width="54.60" height="1.1" fill="#bfe6e8" stroke="none"/>
<rect x="664.80" y="194.14" width="18.20" height="1.4" fill="#3aa8b0" stroke="none"/>
<rect x="664.80" y="193.74" width="9.10" height="2.2" fill="#ee1c1c" stroke="none"/>
<text x="480" y="207.04">metastasis</text>
<text x="550.5" y="207.04" text-anchor="middle">2020</text>
<text x="570" y="207.04" text-anchor="middle">3.04</text>
<text x="584.8" y="207.04" text-anchor="middle">2020</text>
<text x="599.8" y="207.04" text-anchor="middle">2021</text>
<rect x="610.20" y="203.69" width="54.60" height="1.1" fill="#bfe6e8" stroke="none"/>
<rect x="664.80" y="203.54" width="18.20" height="1.4" fill="#3aa8b0" stroke="none"/>
<rect x="664.80" y="203.14" width="9.10" height="2.2" fill="#ee1c1c" stroke="none"/>
<text x="480" y="216.45">folic acid</text>
<text x="550.5" y="216.45" text-anchor="middle">2020</text>
<text x="570" y="216.45" text-anchor="middle">2.62</text>
<text x="584.8" y="216.45" text-anchor="middle">2020</text>
<text x="599.8" y="216.45" text-anchor="middle">2021</text>
<rect x="610.20" y="213.10" width="45.50" height="1.1" fill="#bfe6e8" stroke="none"/>
<rect x="655.70" y="212.95" width="27.30" height="1.4" fill="#3aa8b0" stroke="none"/>
<rect x="664.80" y="212.55" width="9.10" height="2.2" fill="#ee1c1c" stroke="none"/>
<text x="480" y="225.86">tumor microenvironment</text>
<text x="550.5" y="225.86" text-anchor="middle">2020</text>
<text x="570" y="225.86" text-anchor="middle">2.59</text>
<text x="584.8" y="225.86" text-anchor="middle">2020</text>
<text x="599.8" y="225.86" text-anchor="middle">2023</text>
<rect x="610.20" y="222.51" width="54.60" height="1.1" fill="#bfe6e8" stroke="none"/>
<rect x="664.80" y="222.36" width="18.20" height="1.4" fill="#3aa8b0" stroke="none"/>
<rect x="664.80" y="221.96" width="18.20" height="2.2" fill="#ee1c1c" stroke="none"/>
<text x="480" y="235.27">green synthesis</text>
<text x="550.5" y="235.27" text-anchor="middle">2020</text>
<text x="570" y="235.27" text-anchor="middle">2.26</text>
<text x="584.8" y="235.27" text-anchor="middle">2020</text>
<text x="599.8" y="235.27" text-anchor="middle">2021</text>
<rect x="610.20" y="231.92" width="54.60" height="1.1" fill="#bfe6e8" stroke="none"/>
<rect x="664.80" y="231.77" width="18.20" height="1.4" fill="#3aa8b0" stroke="none"/>
<rect x="664.80" y="231.37" width="9.10" height="2.2" fill="#ee1c1c" stroke="none"/>
<text x="480" y="244.68">reactive oxygen species</text>
<text x="550.5" y="244.68" text-anchor="middle">2021</text>
<text x="570" y="244.68" text-anchor="middle">3.11</text>
<text x="584.8" y="244.68" text-anchor="middle">2021</text>
<text x="599.8" y="244.68" text-anchor="middle">2023</text>
<rect x="610.20" y="241.33" width="59.15" height="1.1" fill="#bfe6e8" stroke="none"/>
<rect x="669.35" y="241.18" width="13.65" height="1.4" fill="#3aa8b0" stroke="none"/>
<rect x="669.35" y="240.78" width="13.65" height="2.2" fill="#ee1c1c" stroke="none"/>
<text x="480" y="254.08">current review</text>
<text x="550.5" y="254.08" text-anchor="middle">2021</text>
<text x="570" y="254.08" text-anchor="middle">2.72</text>
<text x="584.8" y="254.08" text-anchor="middle">2021</text>
<text x="599.8" y="254.08" text-anchor="middle">2023</text>
<rect x="610.20" y="250.73" width="59.15" height="1.1" fill="#bfe6e8" stroke="none"/>
<rect x="669.35" y="250.58" width="13.65" height="1.4" fill="#3aa8b0" stroke="none"/>
<rect x="669.35" y="250.18" width="13.65" height="2.2" fill="#ee1c1c" stroke="none"/>
<text x="480" y="263.49">tumor</text>
<text x="550.5" y="263.49" text-anchor="middle">2021</text>
<text x="570" y="263.49" text-anchor="middle">2.71</text>
<text x="584.8" y="263.49" text-anchor="middle">2021</text>
<text x="599.8" y="263.49" text-anchor="middle">2023</text>
<rect x="610.20" y="260.14" width="59.15" height="1.1" fill="#bfe6e8" stroke="none"/>
<rect x="669.35" y="259.99" width="13.65" height="1.4" fill="#3aa8b0" stroke="none"/>
<rect x="669.35" y="259.59" width="13.65" height="2.2" fill="#ee1c1c" stroke="none"/>
</g>
</svg></body></html>
